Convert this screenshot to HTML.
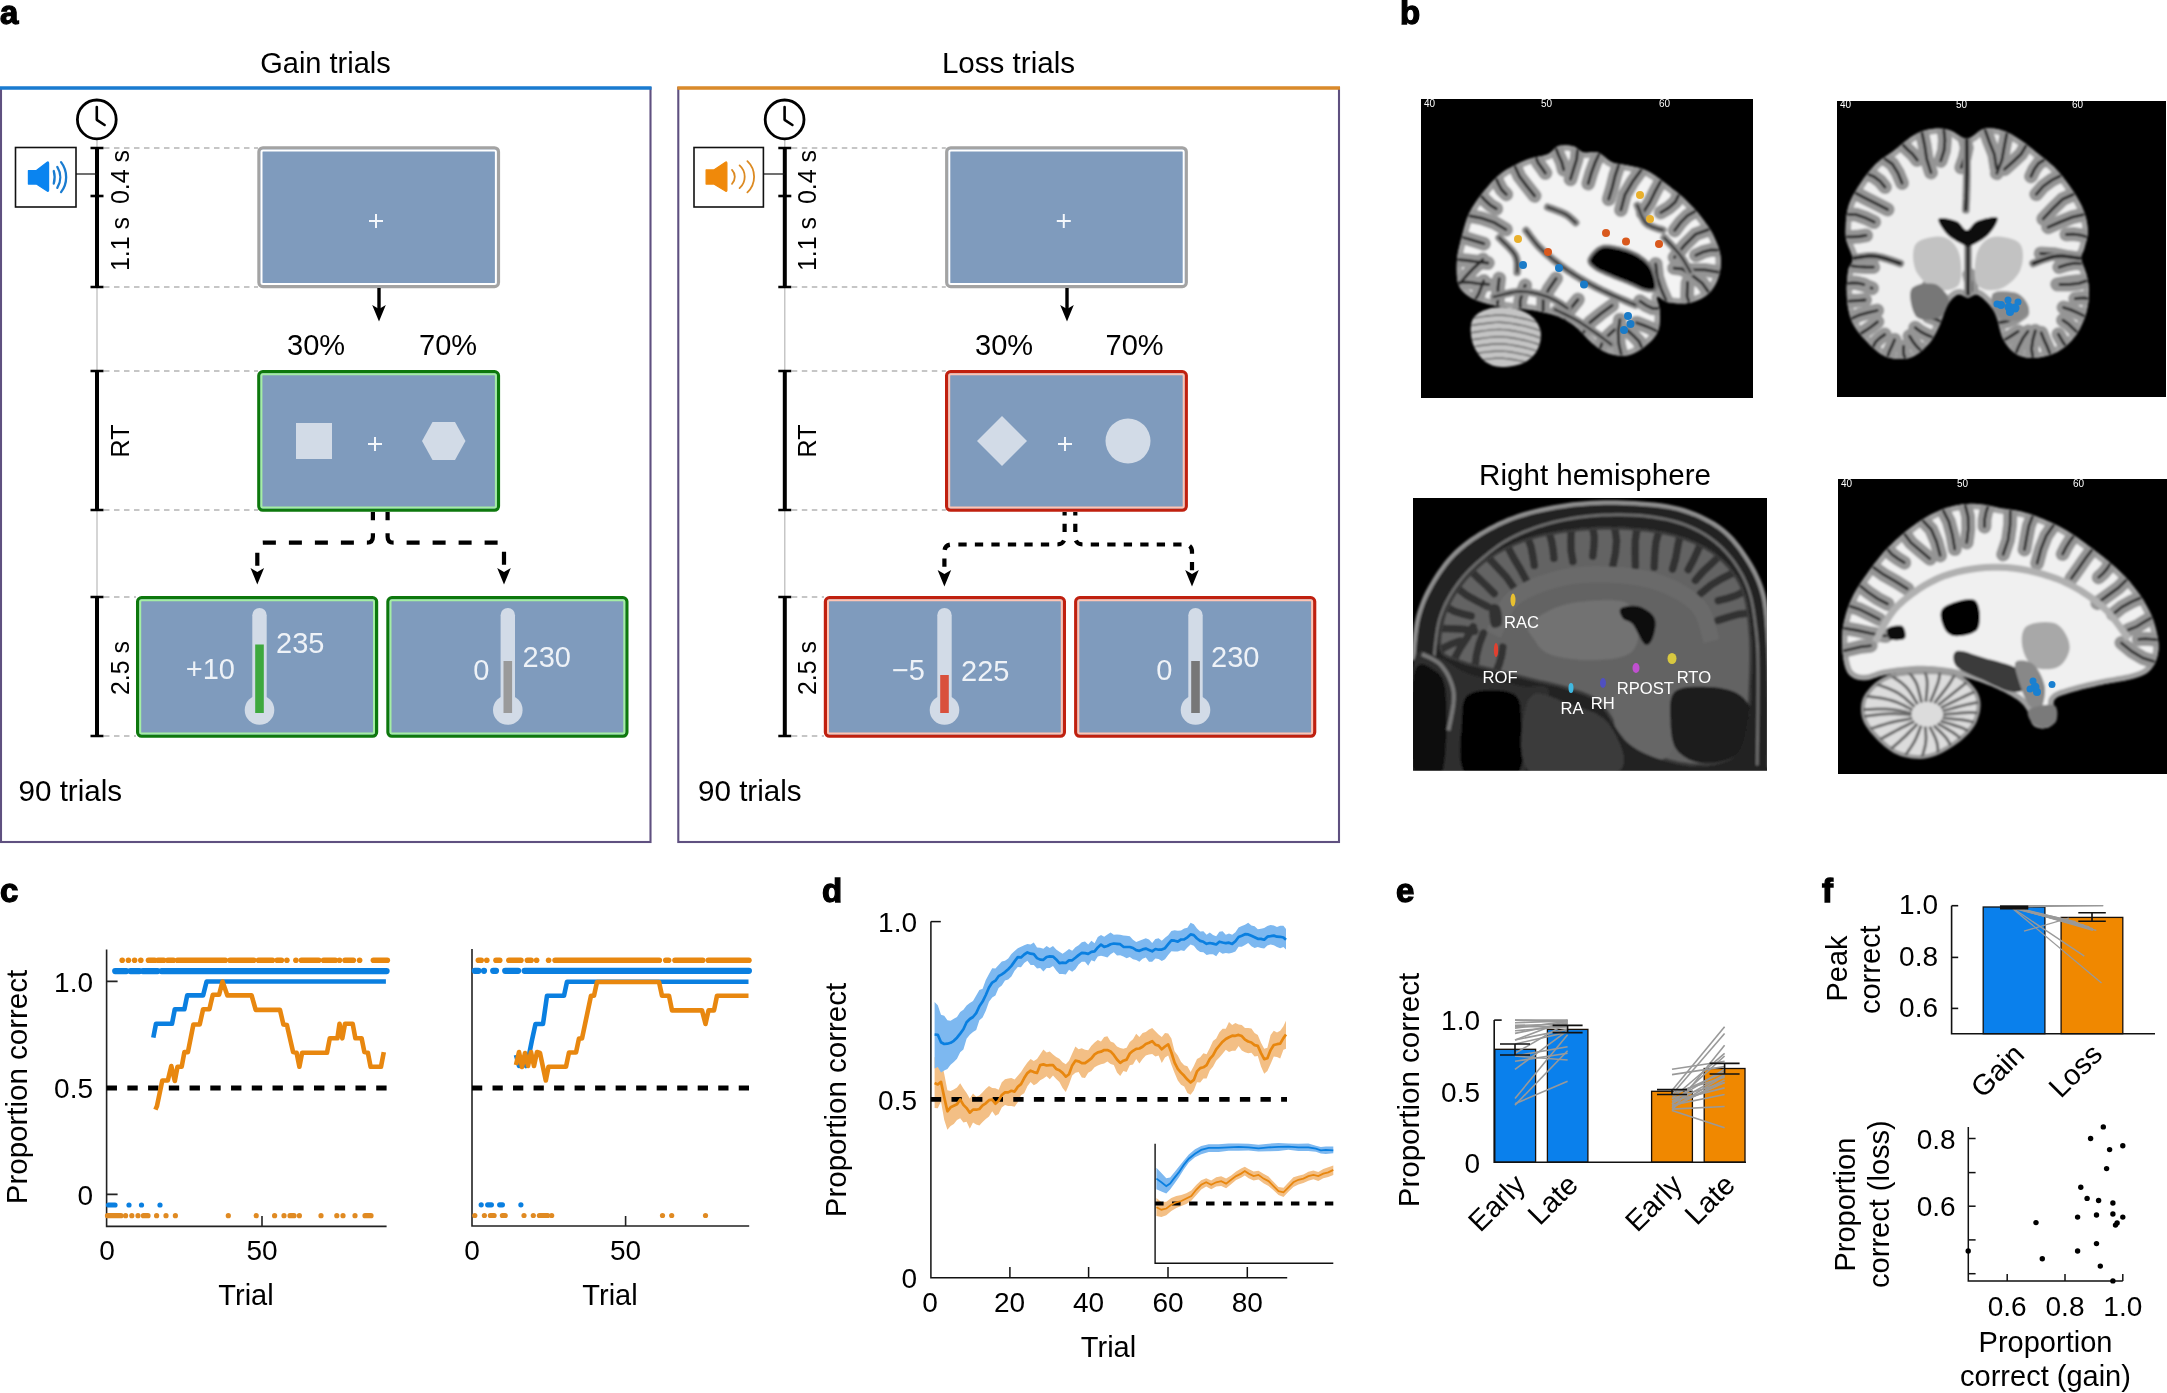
<!DOCTYPE html>
<html><head><meta charset="utf-8"><title>Figure</title>
<style>
html,body{margin:0;padding:0;background:#fff;width:2167px;height:1393px;overflow:hidden}
svg{display:block;will-change:transform}
svg text{font-family:"Liberation Sans", Arial, Helvetica, sans-serif}
</style></head>
<body>
<svg width="2167" height="1393" viewBox="0 0 2167 1393">
<rect width="2167" height="1393" fill="#fff"/>
<text x="0" y="24" font-size="33" font-weight="bold" stroke="#000" stroke-width="1.3">a</text>
<rect x="1" y="88" width="649.5" height="754" fill="none" stroke="#5f5080" stroke-width="2.1"/>
<path d="M0,88 H651.5" stroke="#1a7bd0" stroke-width="3.7"/>
<text x="325.5" y="72.5" font-size="29" text-anchor="middle">Gain trials</text>
<path d="M104,148 H258" stroke="#b4b4b4" stroke-width="1.6" stroke-dasharray="5.5 4.5"/>
<path d="M104,287 H258" stroke="#b4b4b4" stroke-width="1.6" stroke-dasharray="5.5 4.5"/>
<path d="M104,371 H258" stroke="#b4b4b4" stroke-width="1.6" stroke-dasharray="5.5 4.5"/>
<path d="M104,510 H258" stroke="#b4b4b4" stroke-width="1.6" stroke-dasharray="5.5 4.5"/>
<path d="M104,597 H136" stroke="#b4b4b4" stroke-width="1.6" stroke-dasharray="5.5 4.5"/>
<path d="M104,736 H136" stroke="#b4b4b4" stroke-width="1.6" stroke-dasharray="5.5 4.5"/>
<path d="M97,138 V148 M97,287 V371 M97,510 V597" stroke="#b9b9b9" stroke-width="1.2"/>
<path d="M97,148 V287" stroke="#000" stroke-width="4"/>
<path d="M90.5,148 H103.5 M90.5,287 H103.5" stroke="#000" stroke-width="2.6"/>
<path d="M97,371 V510" stroke="#000" stroke-width="4"/>
<path d="M90.5,371 H103.5 M90.5,510 H103.5" stroke="#000" stroke-width="2.6"/>
<path d="M97,597 V736" stroke="#000" stroke-width="4"/>
<path d="M90.5,597 H103.5 M90.5,736 H103.5" stroke="#000" stroke-width="2.6"/>
<path d="M90.5,196 H103.5" stroke="#000" stroke-width="2.6"/>
<circle cx="96.8" cy="119.4" r="19.4" fill="#fff" stroke="#000" stroke-width="2.8"/><path d="M96.8,107.0 V119.80000000000001 L104.6,125.0" fill="none" stroke="#000" stroke-width="2.6" stroke-linecap="round" stroke-linejoin="round"/>
<rect x="15.5" y="147.5" width="60.5" height="59.5" fill="#fff" stroke="#111" stroke-width="1.6"/>
<path d="M28.400000000000002,170.5 H36.4 L47.5,162.10000000000002 Q48.6,161.5 48.6,163.3 V190 Q48.6,191.8 47.5,191.2 L36.4,184.1 H28.400000000000002 Z" fill="#0a84f0" stroke="#0a84f0" stroke-width="1.2" stroke-linejoin="round"/>
<path d="M53.77,171.05 A22.51,22.51 0 0 1 53.77,183.55" fill="none" stroke="#1a7cd0" stroke-width="2.3" stroke-linecap="round"/>
<path d="M57.27,166.95 A19.78,19.78 0 0 1 57.27,187.85" fill="none" stroke="#1a7cd0" stroke-width="2.3" stroke-linecap="round"/>
<path d="M61.06,162.15 A24.67,24.67 0 0 1 61.06,192.15" fill="none" stroke="#1a7cd0" stroke-width="2.3" stroke-linecap="round"/>
<path d="M76,174 H97" stroke="#111" stroke-width="1.2"/>
<text x="128.5" y="177" transform="rotate(-90 128.5 177)" font-size="25" text-anchor="middle">0.4 s</text>
<text x="128.5" y="244" transform="rotate(-90 128.5 244)" font-size="25" text-anchor="middle">1.1 s</text>
<text x="128.5" y="441" transform="rotate(-90 128.5 441)" font-size="25" text-anchor="middle">RT</text>
<text x="128.5" y="668" transform="rotate(-90 128.5 668)" font-size="25" text-anchor="middle">2.5 s</text>
<rect x="258.90" y="147.80" width="239.60" height="138.80" rx="4" fill="#7f9bbd" stroke="#a3a3a3" stroke-width="3.2"/>
<rect x="261.50" y="150.40" width="234.40" height="133.60" rx="1.5" fill="none" stroke="#ffffff" stroke-width="2"/>
<path d="M369.0,221H383.0M376,214.0V228.0" stroke="#f4f7fb" stroke-width="2" fill="none"/>
<path d="M379,288 V309" stroke="#000" stroke-width="3.4"/>
<path d="M379,321.5 L372.2,305.0 L379,309.0 L385.8,305.0 Z" fill="#000"/>
<text x="287" y="355" font-size="29">30%</text>
<text x="419" y="355" font-size="29">70%</text>
<rect x="258.80" y="371.60" width="239.70" height="138.60" rx="4" fill="#7f9bbd" stroke="#0d780d" stroke-width="3.2"/>
<rect x="261.40" y="374.20" width="234.50" height="133.40" rx="1.5" fill="none" stroke="#a4eea4" stroke-width="2"/>
<path d="M368.0,444H382.0M375,437.0V451.0" stroke="#f4f7fb" stroke-width="2" fill="none"/>
<rect x="296" y="423" width="36" height="36" fill="#d2dbe7"/>
<path d="M422,441 L432.5,422 L455,422 L465.5,441 L455,460 L432.5,460 Z" fill="#d2dbe7"/>
<path d="M372.9,512 V536.7 Q372.9,542.7 366.9,542.7 H263.3 Q257.3,542.7 257.3,548.7 V569.5" fill="none" stroke="#000" stroke-width="4.2" stroke-dasharray="13 13" stroke-dashoffset="4.8"/>
<path d="M387.6,512 V536.7 Q387.6,542.7 393.6,542.7 H498 Q504,542.7 504,548.7 V569.5" fill="none" stroke="#000" stroke-width="4.2" stroke-dasharray="13 13" stroke-dashoffset="4.8"/>
<path d="M257.3,584.5 L250.5,568.0 L257.3,572.0 L264.1,568.0 Z" fill="#000"/>
<path d="M504,584.5 L497.2,568.0 L504,572.0 L510.8,568.0 Z" fill="#000"/>
<rect x="137.60" y="597.60" width="239.00" height="138.60" rx="4" fill="#7f9bbd" stroke="#0d780d" stroke-width="3.2"/>
<rect x="140.20" y="600.20" width="233.80" height="133.40" rx="1.5" fill="none" stroke="#a4eea4" stroke-width="2"/>
<rect x="387.90" y="597.60" width="239.00" height="138.60" rx="4" fill="#7f9bbd" stroke="#0d780d" stroke-width="3.2"/>
<rect x="390.50" y="600.20" width="233.80" height="133.40" rx="1.5" fill="none" stroke="#a4eea4" stroke-width="2"/>
<rect x="252.3" y="608" width="14.4" height="102" rx="7.2" fill="#d2dbe7"/>
<circle cx="259.5" cy="710" r="14.8" fill="#d2dbe7"/>
<rect x="255.2" y="644.5" width="8.6" height="68.5" fill="#3ea83e"/>
<rect x="500.6" y="608" width="14.4" height="102" rx="7.2" fill="#d2dbe7"/>
<circle cx="507.8" cy="710" r="14.8" fill="#d2dbe7"/>
<rect x="503.5" y="661" width="8.6" height="52" fill="#9a9a9a"/>
<text x="235" y="678.5" font-size="29" fill="#eef2f7" text-anchor="end">+10</text>
<text x="276" y="653" font-size="29" fill="#eef2f7">235</text>
<text x="489.5" y="679.5" font-size="29" fill="#eef2f7" text-anchor="end">0</text>
<text x="522.5" y="667" font-size="29" fill="#eef2f7">230</text>
<text x="18.5" y="801" font-size="29.6">90 trials</text>
<rect x="678.3" y="88" width="660.7" height="754" fill="none" stroke="#5f5080" stroke-width="2.1"/>
<path d="M677.3,88 H1340" stroke="#da8a2a" stroke-width="3.7"/>
<text x="1008.5" y="72.5" font-size="29.6" text-anchor="middle">Loss trials</text>
<path d="M791.8,148 H945.8" stroke="#b4b4b4" stroke-width="1.6" stroke-dasharray="5.5 4.5"/>
<path d="M791.8,287 H945.8" stroke="#b4b4b4" stroke-width="1.6" stroke-dasharray="5.5 4.5"/>
<path d="M791.8,371 H945.8" stroke="#b4b4b4" stroke-width="1.6" stroke-dasharray="5.5 4.5"/>
<path d="M791.8,510 H945.8" stroke="#b4b4b4" stroke-width="1.6" stroke-dasharray="5.5 4.5"/>
<path d="M791.8,597 H824" stroke="#b4b4b4" stroke-width="1.6" stroke-dasharray="5.5 4.5"/>
<path d="M791.8,736 H824" stroke="#b4b4b4" stroke-width="1.6" stroke-dasharray="5.5 4.5"/>
<path d="M784.8,138 V148 M784.8,287 V371 M784.8,510 V597" stroke="#b9b9b9" stroke-width="1.2"/>
<path d="M784.8,148 V287" stroke="#000" stroke-width="4"/>
<path d="M778.3,148 H791.3 M778.3,287 H791.3" stroke="#000" stroke-width="2.6"/>
<path d="M784.8,371 V510" stroke="#000" stroke-width="4"/>
<path d="M778.3,371 H791.3 M778.3,510 H791.3" stroke="#000" stroke-width="2.6"/>
<path d="M784.8,597 V736" stroke="#000" stroke-width="4"/>
<path d="M778.3,597 H791.3 M778.3,736 H791.3" stroke="#000" stroke-width="2.6"/>
<path d="M778.3,196 H791.3" stroke="#000" stroke-width="2.6"/>
<circle cx="784.5999999999999" cy="119.4" r="19.4" fill="#fff" stroke="#000" stroke-width="2.8"/><path d="M784.5999999999999,107.0 V119.80000000000001 L792.3999999999999,125.0" fill="none" stroke="#000" stroke-width="2.6" stroke-linecap="round" stroke-linejoin="round"/>
<rect x="694" y="147.5" width="69.39999999999998" height="59.5" fill="#fff" stroke="#111" stroke-width="1.6"/>
<path d="M706.1,169.9 H713.8 L725.8,162.10000000000002 Q726.9,161.5 726.9,163.3 V190 Q726.9,191.8 725.8,191.2 L713.8,184.1 H706.1 Z" fill="#f0890a" stroke="#f0890a" stroke-width="1.2" stroke-linejoin="round"/>
<path d="M731.99,169.90 A10.00,10.00 0 0 1 731.99,183.80" fill="none" stroke="#dc8a22" stroke-width="1.8" stroke-linecap="round"/>
<path d="M739.59,165.40 A15.16,15.16 0 0 1 739.59,188.10" fill="none" stroke="#dc8a22" stroke-width="1.8" stroke-linecap="round"/>
<path d="M747.39,161.10 A21.61,21.61 0 0 1 747.39,192.40" fill="none" stroke="#dc8a22" stroke-width="1.8" stroke-linecap="round"/>
<path d="M764,174 H784.8" stroke="#111" stroke-width="1.2"/>
<text x="816.3" y="177" transform="rotate(-90 816.3 177)" font-size="25" text-anchor="middle">0.4 s</text>
<text x="816.3" y="244" transform="rotate(-90 816.3 244)" font-size="25" text-anchor="middle">1.1 s</text>
<text x="816.3" y="441" transform="rotate(-90 816.3 441)" font-size="25" text-anchor="middle">RT</text>
<text x="816.3" y="668" transform="rotate(-90 816.3 668)" font-size="25" text-anchor="middle">2.5 s</text>
<rect x="946.70" y="147.80" width="239.60" height="138.80" rx="4" fill="#7f9bbd" stroke="#a3a3a3" stroke-width="3.2"/>
<rect x="949.30" y="150.40" width="234.40" height="133.60" rx="1.5" fill="none" stroke="#ffffff" stroke-width="2"/>
<path d="M1056.8,221H1070.8M1063.8,214.0V228.0" stroke="#f4f7fb" stroke-width="2" fill="none"/>
<path d="M1067,288 V309" stroke="#000" stroke-width="3.4"/>
<path d="M1067,321.5 L1060.2,305.0 L1067,309.0 L1073.8,305.0 Z" fill="#000"/>
<text x="975" y="355" font-size="29">30%</text>
<text x="1105.5" y="355" font-size="29">70%</text>
<rect x="946.60" y="371.60" width="239.70" height="138.60" rx="4" fill="#7f9bbd" stroke="#c0200f" stroke-width="3.2"/>
<rect x="949.20" y="374.20" width="234.50" height="133.40" rx="1.5" fill="none" stroke="#ffc4b4" stroke-width="2"/>
<path d="M1058.0,444H1072.0M1065,437.0V451.0" stroke="#f4f7fb" stroke-width="2" fill="none"/>
<path d="M1002,416 L1027,441 L1002,466 L977,441 Z" fill="#d2dbe7"/>
<circle cx="1128" cy="441" r="22.5" fill="#d2dbe7"/>
<path d="M1064.6,512 V537.0 Q1064.6,544.5 1057.1,544.5 H951.9 Q944.4,544.5 944.4,552.0 V571.5" fill="none" stroke="#000" stroke-width="4.2" stroke-dasharray="8.3 8.2" stroke-dashoffset="4.7"/>
<path d="M1075.3,512 V537.0 Q1075.3,544.5 1082.8,544.5 H1184.5 Q1192,544.5 1192,552.0 V571.5" fill="none" stroke="#000" stroke-width="4.2" stroke-dasharray="8.3 8.2" stroke-dashoffset="4.7"/>
<path d="M944.4,586.5 L937.6,570.0 L944.4,574.0 L951.1999999999999,570.0 Z" fill="#000"/>
<path d="M1192,586.5 L1185.2,570.0 L1192,574.0 L1198.8,570.0 Z" fill="#000"/>
<rect x="825.40" y="597.60" width="239.00" height="138.60" rx="4" fill="#7f9bbd" stroke="#c0200f" stroke-width="3.2"/>
<rect x="828.00" y="600.20" width="233.80" height="133.40" rx="1.5" fill="none" stroke="#ffc4b4" stroke-width="2"/>
<rect x="1075.70" y="597.60" width="239.00" height="138.60" rx="4" fill="#7f9bbd" stroke="#c0200f" stroke-width="3.2"/>
<rect x="1078.30" y="600.20" width="233.80" height="133.40" rx="1.5" fill="none" stroke="#ffc4b4" stroke-width="2"/>
<rect x="937.3" y="608" width="14.4" height="102" rx="7.2" fill="#d2dbe7"/>
<circle cx="944.5" cy="710" r="14.8" fill="#d2dbe7"/>
<rect x="940.2" y="675" width="8.6" height="38" fill="#d9503c"/>
<rect x="1188.3" y="608" width="14.4" height="102" rx="7.2" fill="#d2dbe7"/>
<circle cx="1195.5" cy="710" r="14.8" fill="#d2dbe7"/>
<rect x="1191.2" y="661" width="8.6" height="52" fill="#777777"/>
<text x="925" y="679.5" font-size="29" fill="#eef2f7" text-anchor="end">−5</text>
<text x="961" y="681" font-size="29" fill="#eef2f7">225</text>
<text x="1172.5" y="679.5" font-size="29" fill="#eef2f7" text-anchor="end">0</text>
<text x="1211" y="667" font-size="29" fill="#eef2f7">230</text>
<text x="698" y="801" font-size="29.6">90 trials</text>
<defs><filter id="bl2" x="-5%" y="-5%" width="110%" height="110%"><feGaussianBlur stdDeviation="1.3"/></filter></defs>
<text x="1400" y="24" font-size="33" font-weight="bold" stroke="#000" stroke-width="1.3">b</text>
<text x="1595" y="485" font-size="29.6" text-anchor="middle">Right hemisphere</text>
<rect x="1421" y="99" width="332" height="299" fill="#000"/>
<text x="1424" y="107" font-size="10" style="fill:#fff">40</text>
<text x="1541" y="107" font-size="10" style="fill:#fff">50</text>
<text x="1659" y="107" font-size="10" style="fill:#fff">60</text>
<defs><clipPath id="cb1"><path d="M1457.9,282.5 L1457.5,280.6 L1457.2,278.5 L1456.9,276.2 L1456.7,273.9 L1456.7,271.4 L1456.6,268.9 L1456.7,266.4 L1456.8,263.9 L1456.9,261.5 L1457.0,259.2 L1457.3,257.0 L1457.6,254.8 L1457.9,252.7 L1458.3,250.5 L1458.8,248.4 L1459.3,246.3 L1459.8,244.2 L1460.4,242.0 L1460.9,239.9 L1461.5,237.7 L1462.1,235.4 L1462.7,233.0 L1463.3,230.7 L1463.9,228.3 L1464.6,225.9 L1465.3,223.5 L1466.1,221.1 L1466.9,218.8 L1467.8,216.5 L1468.7,214.3 L1469.7,212.2 L1470.8,210.2 L1471.9,208.1 L1473.1,206.2 L1474.3,204.2 L1475.6,202.3 L1476.9,200.4 L1478.3,198.5 L1479.8,196.6 L1481.3,194.6 L1482.9,192.6 L1484.5,190.5 L1486.3,188.4 L1488.1,186.2 L1490.0,184.1 L1491.9,182.0 L1493.8,180.1 L1495.7,178.2 L1497.5,176.4 L1499.2,174.9 L1500.9,173.5 L1502.6,172.2 L1504.2,171.1 L1505.9,170.0 L1507.5,169.1 L1509.1,168.2 L1510.7,167.4 L1512.3,166.6 L1513.8,165.8 L1515.4,165.0 L1516.9,164.2 L1518.3,163.5 L1519.7,162.8 L1521.1,162.1 L1522.4,161.5 L1523.8,160.9 L1525.2,160.3 L1526.6,159.8 L1528.1,159.2 L1529.7,158.7 L1531.4,158.2 L1533.2,157.8 L1535.1,157.3 L1537.0,157.0 L1538.9,156.6 L1540.8,156.2 L1542.7,155.8 L1544.5,155.3 L1546.1,154.8 L1547.7,154.2 L1549.0,153.5 L1550.2,152.7 L1551.3,151.8 L1552.3,150.9 L1553.3,149.9 L1554.2,149.0 L1555.2,148.1 L1556.2,147.3 L1557.2,146.6 L1558.4,146.1 L1559.7,145.8 L1561.1,145.5 L1562.6,145.4 L1564.1,145.3 L1565.6,145.3 L1567.1,145.3 L1568.6,145.4 L1570.1,145.6 L1571.5,145.9 L1572.8,146.1 L1574.0,146.6 L1575.1,147.1 L1576.2,147.8 L1577.2,148.5 L1578.2,149.3 L1579.1,150.1 L1580.2,150.8 L1581.2,151.5 L1582.3,152.0 L1583.5,152.4 L1584.8,152.6 L1586.2,152.7 L1587.6,152.6 L1589.0,152.4 L1590.5,152.2 L1592.0,152.0 L1593.5,151.9 L1595.0,151.9 L1596.4,152.1 L1597.9,152.4 L1599.3,153.0 L1600.7,153.9 L1602.1,154.9 L1603.5,156.0 L1604.8,157.1 L1606.2,158.3 L1607.7,159.5 L1609.1,160.6 L1610.7,161.5 L1612.2,162.3 L1613.9,162.9 L1615.6,163.4 L1617.4,163.8 L1619.2,164.1 L1621.0,164.4 L1622.8,164.6 L1624.7,164.9 L1626.5,165.2 L1628.4,165.5 L1630.2,165.9 L1632.0,166.3 L1633.8,166.7 L1635.6,167.1 L1637.4,167.6 L1639.2,168.0 L1641.0,168.5 L1642.8,169.1 L1644.5,169.7 L1646.3,170.4 L1648.1,171.3 L1649.9,172.2 L1651.7,173.3 L1653.5,174.4 L1655.2,175.6 L1657.0,176.9 L1658.8,178.2 L1660.6,179.6 L1662.4,181.0 L1664.2,182.4 L1666.1,183.8 L1668.0,185.3 L1670.0,186.8 L1672.0,188.4 L1674.0,189.9 L1676.1,191.6 L1678.1,193.2 L1680.1,194.9 L1682.1,196.6 L1684.0,198.3 L1685.8,200.0 L1687.6,201.7 L1689.3,203.4 L1691.0,205.2 L1692.7,206.9 L1694.3,208.7 L1695.9,210.5 L1697.5,212.3 L1699.0,214.2 L1700.5,216.0 L1702.0,217.9 L1703.4,219.8 L1704.8,221.7 L1706.2,223.7 L1707.5,225.6 L1708.9,227.6 L1710.1,229.5 L1711.3,231.5 L1712.5,233.6 L1713.5,235.6 L1714.5,237.7 L1715.4,239.7 L1716.3,241.8 L1717.2,244.0 L1718.0,246.1 L1718.7,248.3 L1719.3,250.5 L1719.8,252.7 L1720.3,254.9 L1720.6,257.0 L1720.8,259.2 L1720.9,261.4 L1720.8,263.6 L1720.7,265.8 L1720.5,268.1 L1720.1,270.3 L1719.7,272.6 L1719.2,274.7 L1718.6,276.8 L1717.9,278.8 L1717.2,280.7 L1716.4,282.5 L1715.5,284.3 L1714.5,286.0 L1713.4,287.7 L1712.3,289.2 L1711.1,290.8 L1709.8,292.2 L1708.4,293.5 L1707.0,294.8 L1705.6,296.0 L1704.0,297.1 L1702.4,298.1 L1700.7,299.0 L1698.9,299.8 L1697.1,300.6 L1695.2,301.2 L1693.3,301.8 L1691.4,302.4 L1689.5,302.8 L1687.6,303.1 L1685.7,303.4 L1683.6,303.6 L1681.5,303.6 L1679.4,303.6 L1677.3,303.5 L1675.2,303.3 L1673.2,303.1 L1671.3,302.8 L1669.5,302.6 L1667.9,302.2 L1666.4,301.8 L1664.9,301.1 L1663.6,300.3 L1662.3,299.5 L1661.1,298.6 L1660.0,297.8 L1659.1,297.2 L1658.3,296.8 L1657.6,296.6 L1657.1,296.9 L1656.9,297.5 L1656.9,298.4 L1657.1,299.6 L1657.4,300.9 L1657.9,302.5 L1658.4,304.1 L1658.9,305.9 L1659.3,307.7 L1659.6,309.5 L1659.8,311.2 L1659.8,313.0 L1659.9,314.9 L1659.9,316.9 L1659.9,319.0 L1659.8,321.1 L1659.6,323.2 L1659.4,325.3 L1659.1,327.3 L1658.6,329.2 L1658.0,331.0 L1657.3,332.6 L1656.4,334.2 L1655.4,335.8 L1654.4,337.3 L1653.2,338.8 L1651.9,340.2 L1650.6,341.5 L1649.2,342.8 L1647.8,344.1 L1646.3,345.3 L1644.8,346.5 L1643.2,347.8 L1641.5,349.0 L1639.7,350.1 L1637.9,351.3 L1636.0,352.3 L1634.1,353.2 L1632.2,354.0 L1630.3,354.7 L1628.4,355.2 L1626.5,355.5 L1624.5,355.7 L1622.5,355.8 L1620.5,355.7 L1618.4,355.5 L1616.4,355.2 L1614.4,354.9 L1612.4,354.4 L1610.5,353.9 L1608.7,353.4 L1606.9,352.8 L1605.2,352.0 L1603.6,351.2 L1601.9,350.3 L1600.4,349.3 L1598.8,348.3 L1597.2,347.2 L1595.7,346.0 L1594.1,344.8 L1592.5,343.5 L1590.9,342.1 L1589.3,340.6 L1587.7,339.0 L1586.1,337.3 L1584.6,335.5 L1583.0,333.7 L1581.3,332.0 L1579.7,330.4 L1578.1,328.8 L1576.4,327.4 L1574.7,326.1 L1573.0,324.8 L1571.3,323.6 L1569.7,322.5 L1568.0,321.4 L1566.2,320.3 L1564.4,319.3 L1562.5,318.4 L1560.5,317.5 L1558.4,316.6 L1556.2,315.8 L1553.9,315.0 L1551.4,314.3 L1548.9,313.6 L1546.3,313.0 L1543.7,312.4 L1541.1,311.8 L1538.4,311.3 L1535.8,310.8 L1533.3,310.3 L1530.8,309.9 L1528.2,309.6 L1525.7,309.3 L1523.2,309.1 L1520.6,308.9 L1518.1,308.7 L1515.6,308.5 L1513.1,308.2 L1510.6,308.0 L1508.2,307.6 L1505.8,307.3 L1503.3,306.9 L1500.9,306.5 L1498.5,306.1 L1496.1,305.7 L1493.7,305.3 L1491.4,304.8 L1489.1,304.3 L1487.0,303.7 L1484.9,303.1 L1482.8,302.5 L1480.8,301.8 L1478.8,301.1 L1476.9,300.4 L1475.0,299.6 L1473.2,298.8 L1471.5,297.9 L1469.8,297.0 L1468.3,296.1 L1466.9,295.1 L1465.6,294.0 L1464.4,293.0 L1463.3,292.0 L1462.3,290.9 L1461.4,289.7 L1460.5,288.5 L1459.8,287.2 L1459.1,285.8 L1458.5,284.2 Z"/></clipPath></defs>
<g filter="url(#bl2)">
<g clip-path="url(#cb1)">
<path d="M1457.9,282.5 L1457.5,280.6 L1457.2,278.5 L1456.9,276.2 L1456.7,273.9 L1456.7,271.4 L1456.6,268.9 L1456.7,266.4 L1456.8,263.9 L1456.9,261.5 L1457.0,259.2 L1457.3,257.0 L1457.6,254.8 L1457.9,252.7 L1458.3,250.5 L1458.8,248.4 L1459.3,246.3 L1459.8,244.2 L1460.4,242.0 L1460.9,239.9 L1461.5,237.7 L1462.1,235.4 L1462.7,233.0 L1463.3,230.7 L1463.9,228.3 L1464.6,225.9 L1465.3,223.5 L1466.1,221.1 L1466.9,218.8 L1467.8,216.5 L1468.7,214.3 L1469.7,212.2 L1470.8,210.2 L1471.9,208.1 L1473.1,206.2 L1474.3,204.2 L1475.6,202.3 L1476.9,200.4 L1478.3,198.5 L1479.8,196.6 L1481.3,194.6 L1482.9,192.6 L1484.5,190.5 L1486.3,188.4 L1488.1,186.2 L1490.0,184.1 L1491.9,182.0 L1493.8,180.1 L1495.7,178.2 L1497.5,176.4 L1499.2,174.9 L1500.9,173.5 L1502.6,172.2 L1504.2,171.1 L1505.9,170.0 L1507.5,169.1 L1509.1,168.2 L1510.7,167.4 L1512.3,166.6 L1513.8,165.8 L1515.4,165.0 L1516.9,164.2 L1518.3,163.5 L1519.7,162.8 L1521.1,162.1 L1522.4,161.5 L1523.8,160.9 L1525.2,160.3 L1526.6,159.8 L1528.1,159.2 L1529.7,158.7 L1531.4,158.2 L1533.2,157.8 L1535.1,157.3 L1537.0,157.0 L1538.9,156.6 L1540.8,156.2 L1542.7,155.8 L1544.5,155.3 L1546.1,154.8 L1547.7,154.2 L1549.0,153.5 L1550.2,152.7 L1551.3,151.8 L1552.3,150.9 L1553.3,149.9 L1554.2,149.0 L1555.2,148.1 L1556.2,147.3 L1557.2,146.6 L1558.4,146.1 L1559.7,145.8 L1561.1,145.5 L1562.6,145.4 L1564.1,145.3 L1565.6,145.3 L1567.1,145.3 L1568.6,145.4 L1570.1,145.6 L1571.5,145.9 L1572.8,146.1 L1574.0,146.6 L1575.1,147.1 L1576.2,147.8 L1577.2,148.5 L1578.2,149.3 L1579.1,150.1 L1580.2,150.8 L1581.2,151.5 L1582.3,152.0 L1583.5,152.4 L1584.8,152.6 L1586.2,152.7 L1587.6,152.6 L1589.0,152.4 L1590.5,152.2 L1592.0,152.0 L1593.5,151.9 L1595.0,151.9 L1596.4,152.1 L1597.9,152.4 L1599.3,153.0 L1600.7,153.9 L1602.1,154.9 L1603.5,156.0 L1604.8,157.1 L1606.2,158.3 L1607.7,159.5 L1609.1,160.6 L1610.7,161.5 L1612.2,162.3 L1613.9,162.9 L1615.6,163.4 L1617.4,163.8 L1619.2,164.1 L1621.0,164.4 L1622.8,164.6 L1624.7,164.9 L1626.5,165.2 L1628.4,165.5 L1630.2,165.9 L1632.0,166.3 L1633.8,166.7 L1635.6,167.1 L1637.4,167.6 L1639.2,168.0 L1641.0,168.5 L1642.8,169.1 L1644.5,169.7 L1646.3,170.4 L1648.1,171.3 L1649.9,172.2 L1651.7,173.3 L1653.5,174.4 L1655.2,175.6 L1657.0,176.9 L1658.8,178.2 L1660.6,179.6 L1662.4,181.0 L1664.2,182.4 L1666.1,183.8 L1668.0,185.3 L1670.0,186.8 L1672.0,188.4 L1674.0,189.9 L1676.1,191.6 L1678.1,193.2 L1680.1,194.9 L1682.1,196.6 L1684.0,198.3 L1685.8,200.0 L1687.6,201.7 L1689.3,203.4 L1691.0,205.2 L1692.7,206.9 L1694.3,208.7 L1695.9,210.5 L1697.5,212.3 L1699.0,214.2 L1700.5,216.0 L1702.0,217.9 L1703.4,219.8 L1704.8,221.7 L1706.2,223.7 L1707.5,225.6 L1708.9,227.6 L1710.1,229.5 L1711.3,231.5 L1712.5,233.6 L1713.5,235.6 L1714.5,237.7 L1715.4,239.7 L1716.3,241.8 L1717.2,244.0 L1718.0,246.1 L1718.7,248.3 L1719.3,250.5 L1719.8,252.7 L1720.3,254.9 L1720.6,257.0 L1720.8,259.2 L1720.9,261.4 L1720.8,263.6 L1720.7,265.8 L1720.5,268.1 L1720.1,270.3 L1719.7,272.6 L1719.2,274.7 L1718.6,276.8 L1717.9,278.8 L1717.2,280.7 L1716.4,282.5 L1715.5,284.3 L1714.5,286.0 L1713.4,287.7 L1712.3,289.2 L1711.1,290.8 L1709.8,292.2 L1708.4,293.5 L1707.0,294.8 L1705.6,296.0 L1704.0,297.1 L1702.4,298.1 L1700.7,299.0 L1698.9,299.8 L1697.1,300.6 L1695.2,301.2 L1693.3,301.8 L1691.4,302.4 L1689.5,302.8 L1687.6,303.1 L1685.7,303.4 L1683.6,303.6 L1681.5,303.6 L1679.4,303.6 L1677.3,303.5 L1675.2,303.3 L1673.2,303.1 L1671.3,302.8 L1669.5,302.6 L1667.9,302.2 L1666.4,301.8 L1664.9,301.1 L1663.6,300.3 L1662.3,299.5 L1661.1,298.6 L1660.0,297.8 L1659.1,297.2 L1658.3,296.8 L1657.6,296.6 L1657.1,296.9 L1656.9,297.5 L1656.9,298.4 L1657.1,299.6 L1657.4,300.9 L1657.9,302.5 L1658.4,304.1 L1658.9,305.9 L1659.3,307.7 L1659.6,309.5 L1659.8,311.2 L1659.8,313.0 L1659.9,314.9 L1659.9,316.9 L1659.9,319.0 L1659.8,321.1 L1659.6,323.2 L1659.4,325.3 L1659.1,327.3 L1658.6,329.2 L1658.0,331.0 L1657.3,332.6 L1656.4,334.2 L1655.4,335.8 L1654.4,337.3 L1653.2,338.8 L1651.9,340.2 L1650.6,341.5 L1649.2,342.8 L1647.8,344.1 L1646.3,345.3 L1644.8,346.5 L1643.2,347.8 L1641.5,349.0 L1639.7,350.1 L1637.9,351.3 L1636.0,352.3 L1634.1,353.2 L1632.2,354.0 L1630.3,354.7 L1628.4,355.2 L1626.5,355.5 L1624.5,355.7 L1622.5,355.8 L1620.5,355.7 L1618.4,355.5 L1616.4,355.2 L1614.4,354.9 L1612.4,354.4 L1610.5,353.9 L1608.7,353.4 L1606.9,352.8 L1605.2,352.0 L1603.6,351.2 L1601.9,350.3 L1600.4,349.3 L1598.8,348.3 L1597.2,347.2 L1595.7,346.0 L1594.1,344.8 L1592.5,343.5 L1590.9,342.1 L1589.3,340.6 L1587.7,339.0 L1586.1,337.3 L1584.6,335.5 L1583.0,333.7 L1581.3,332.0 L1579.7,330.4 L1578.1,328.8 L1576.4,327.4 L1574.7,326.1 L1573.0,324.8 L1571.3,323.6 L1569.7,322.5 L1568.0,321.4 L1566.2,320.3 L1564.4,319.3 L1562.5,318.4 L1560.5,317.5 L1558.4,316.6 L1556.2,315.8 L1553.9,315.0 L1551.4,314.3 L1548.9,313.6 L1546.3,313.0 L1543.7,312.4 L1541.1,311.8 L1538.4,311.3 L1535.8,310.8 L1533.3,310.3 L1530.8,309.9 L1528.2,309.6 L1525.7,309.3 L1523.2,309.1 L1520.6,308.9 L1518.1,308.7 L1515.6,308.5 L1513.1,308.2 L1510.6,308.0 L1508.2,307.6 L1505.8,307.3 L1503.3,306.9 L1500.9,306.5 L1498.5,306.1 L1496.1,305.7 L1493.7,305.3 L1491.4,304.8 L1489.1,304.3 L1487.0,303.7 L1484.9,303.1 L1482.8,302.5 L1480.8,301.8 L1478.8,301.1 L1476.9,300.4 L1475.0,299.6 L1473.2,298.8 L1471.5,297.9 L1469.8,297.0 L1468.3,296.1 L1466.9,295.1 L1465.6,294.0 L1464.4,293.0 L1463.3,292.0 L1462.3,290.9 L1461.4,289.7 L1460.5,288.5 L1459.8,287.2 L1459.1,285.8 L1458.5,284.2 Z" fill="#f3f3f3" stroke="#a0a0a0" stroke-width="11"/>
<path d="M1459.4,282.4 L1468.1,282.2 L1478.3,283.7 L1488.8,284.4" fill="none" stroke="#959595" stroke-width="14" stroke-linecap="round"/>
<path d="M1458.5,259.7 L1467.2,260.5 L1477.4,261.8 L1487.9,263.0" fill="none" stroke="#959595" stroke-width="14" stroke-linecap="round"/>
<path d="M1463.1,237.5 L1469.1,239.1 L1476.3,241.4 L1483.9,243.7" fill="none" stroke="#959595" stroke-width="14" stroke-linecap="round"/>
<path d="M1469.7,215.8 L1481.5,218.2 L1494.2,222.5 L1506.0,229.6" fill="none" stroke="#959595" stroke-width="14" stroke-linecap="round"/>
<path d="M1481.7,196.6 L1485.3,200.5 L1490.3,205.1 L1496.3,208.8" fill="none" stroke="#959595" stroke-width="14" stroke-linecap="round"/>
<path d="M1496.5,179.4 L1498.6,184.1 L1501.7,189.8 L1506.3,194.4" fill="none" stroke="#959595" stroke-width="14" stroke-linecap="round"/>
<path d="M1515.1,166.8 L1519.4,176.4 L1526.8,186.1 L1534.6,195.9" fill="none" stroke="#959595" stroke-width="14" stroke-linecap="round"/>
<path d="M1536.4,158.6 L1538.1,162.8 L1541.8,167.9 L1545.4,173.1" fill="none" stroke="#959595" stroke-width="14" stroke-linecap="round"/>
<path d="M1556.2,148.9 L1558.4,154.8 L1561.7,162.0 L1563.7,169.7" fill="none" stroke="#959595" stroke-width="14" stroke-linecap="round"/>
<path d="M1577.5,150.4 L1576.7,159.1 L1573.6,169.0 L1570.5,179.2" fill="none" stroke="#959595" stroke-width="14" stroke-linecap="round"/>
<path d="M1598.9,154.5 L1595.0,162.9 L1591.3,173.0 L1588.2,183.6" fill="none" stroke="#959595" stroke-width="14" stroke-linecap="round"/>
<path d="M1618.6,165.5 L1615.2,175.5 L1612.3,187.3 L1608.7,199.2" fill="none" stroke="#959595" stroke-width="14" stroke-linecap="round"/>
<path d="M1641.1,170.1 L1632.7,181.5 L1624.9,194.8 L1620.9,210.0" fill="none" stroke="#959595" stroke-width="14" stroke-linecap="round"/>
<path d="M1660.6,181.5 L1655.3,191.2 L1649.7,202.5 L1642.7,213.2" fill="none" stroke="#959595" stroke-width="14" stroke-linecap="round"/>
<path d="M1678.5,195.5 L1675.2,202.1 L1668.7,207.8 L1660.7,212.6" fill="none" stroke="#959595" stroke-width="14" stroke-linecap="round"/>
<path d="M1694.8,211.5 L1687.5,215.6 L1680.7,222.3 L1674.6,230.5" fill="none" stroke="#959595" stroke-width="14" stroke-linecap="round"/>
<path d="M1708.4,229.6 L1695.6,234.2 L1684.8,244.9 L1674.5,257.4" fill="none" stroke="#959595" stroke-width="14" stroke-linecap="round"/>
<path d="M1717.6,250.1 L1711.1,250.0 L1703.4,251.8 L1695.9,255.3" fill="none" stroke="#959595" stroke-width="14" stroke-linecap="round"/>
<path d="M1718.3,272.2 L1704.9,269.9 L1689.6,269.7 L1674.1,268.1" fill="none" stroke="#959595" stroke-width="14" stroke-linecap="round"/>
<path d="M1708.2,291.6 L1702.2,283.2 L1692.9,275.8 L1682.5,269.1" fill="none" stroke="#959595" stroke-width="14" stroke-linecap="round"/>
<path d="M1688.8,301.4 L1687.1,296.4 L1687.3,289.5 L1687.6,282.3" fill="none" stroke="#959595" stroke-width="14" stroke-linecap="round"/>
<path d="M1666.0,300.3 L1661.3,289.6 L1657.2,277.2 L1655.7,263.9" fill="none" stroke="#959595" stroke-width="14" stroke-linecap="round"/>
<path d="M1658.1,308.3 L1652.5,308.3 L1646.2,305.4 L1640.0,301.2" fill="none" stroke="#959595" stroke-width="14" stroke-linecap="round"/>
<path d="M1656.4,330.9 L1650.9,328.3 L1643.9,325.4 L1636.5,322.7" fill="none" stroke="#959595" stroke-width="14" stroke-linecap="round"/>
<path d="M1641.6,347.0 L1639.0,341.4 L1633.5,335.7 L1627.4,330.2" fill="none" stroke="#959595" stroke-width="14" stroke-linecap="round"/>
<path d="M1621.2,354.2 L1618.8,343.9 L1618.2,332.0 L1619.9,319.7" fill="none" stroke="#959595" stroke-width="14" stroke-linecap="round"/>
<path d="M1600.3,347.5 L1602.8,341.5 L1608.3,335.6 L1614.5,329.8" fill="none" stroke="#959595" stroke-width="14" stroke-linecap="round"/>
<path d="M1583.6,332.3 L1590.2,322.3 L1600.8,313.7 L1612.2,305.4" fill="none" stroke="#959595" stroke-width="14" stroke-linecap="round"/>
<path d="M1565.2,318.1 L1567.9,312.2 L1572.8,305.9 L1578.0,299.5" fill="none" stroke="#959595" stroke-width="14" stroke-linecap="round"/>
<path d="M1543.1,310.7 L1543.2,300.1 L1548.8,289.2 L1556.2,278.4" fill="none" stroke="#959595" stroke-width="14" stroke-linecap="round"/>
<path d="M1520.2,307.3 L1520.2,300.9 L1522.3,293.2 L1525.2,285.3" fill="none" stroke="#959595" stroke-width="14" stroke-linecap="round"/>
<path d="M1497.5,304.5 L1498.1,296.9 L1498.0,287.8 L1499.2,278.6" fill="none" stroke="#959595" stroke-width="14" stroke-linecap="round"/>
<path d="M1475.9,298.4 L1478.7,293.9 L1481.2,287.5 L1483.7,280.9" fill="none" stroke="#959595" stroke-width="14" stroke-linecap="round"/>
<path d="M1459.7,283.6 L1466.2,276.0 L1474.2,267.6 L1482.9,259.6" fill="none" stroke="#959595" stroke-width="14" stroke-linecap="round"/>
<path d="M1459.4,282.4 L1468.1,282.2 L1478.3,283.7 L1488.8,284.4" fill="none" stroke="#262626" stroke-width="2.8" stroke-linecap="round"/>
<path d="M1458.5,259.7 L1467.2,260.5 L1477.4,261.8 L1487.9,263.0" fill="none" stroke="#262626" stroke-width="2.8" stroke-linecap="round"/>
<path d="M1463.1,237.5 L1469.1,239.1 L1476.3,241.4 L1483.9,243.7" fill="none" stroke="#262626" stroke-width="2.8" stroke-linecap="round"/>
<path d="M1469.7,215.8 L1481.5,218.2 L1494.2,222.5 L1506.0,229.6" fill="none" stroke="#262626" stroke-width="2.8" stroke-linecap="round"/>
<path d="M1481.7,196.6 L1485.3,200.5 L1490.3,205.1 L1496.3,208.8" fill="none" stroke="#262626" stroke-width="2.8" stroke-linecap="round"/>
<path d="M1496.5,179.4 L1498.6,184.1 L1501.7,189.8 L1506.3,194.4" fill="none" stroke="#262626" stroke-width="2.8" stroke-linecap="round"/>
<path d="M1515.1,166.8 L1519.4,176.4 L1526.8,186.1 L1534.6,195.9" fill="none" stroke="#262626" stroke-width="2.8" stroke-linecap="round"/>
<path d="M1536.4,158.6 L1538.1,162.8 L1541.8,167.9 L1545.4,173.1" fill="none" stroke="#262626" stroke-width="2.8" stroke-linecap="round"/>
<path d="M1556.2,148.9 L1558.4,154.8 L1561.7,162.0 L1563.7,169.7" fill="none" stroke="#262626" stroke-width="2.8" stroke-linecap="round"/>
<path d="M1577.5,150.4 L1576.7,159.1 L1573.6,169.0 L1570.5,179.2" fill="none" stroke="#262626" stroke-width="2.8" stroke-linecap="round"/>
<path d="M1598.9,154.5 L1595.0,162.9 L1591.3,173.0 L1588.2,183.6" fill="none" stroke="#262626" stroke-width="2.8" stroke-linecap="round"/>
<path d="M1618.6,165.5 L1615.2,175.5 L1612.3,187.3 L1608.7,199.2" fill="none" stroke="#262626" stroke-width="2.8" stroke-linecap="round"/>
<path d="M1641.1,170.1 L1632.7,181.5 L1624.9,194.8 L1620.9,210.0" fill="none" stroke="#262626" stroke-width="2.8" stroke-linecap="round"/>
<path d="M1660.6,181.5 L1655.3,191.2 L1649.7,202.5 L1642.7,213.2" fill="none" stroke="#262626" stroke-width="2.8" stroke-linecap="round"/>
<path d="M1678.5,195.5 L1675.2,202.1 L1668.7,207.8 L1660.7,212.6" fill="none" stroke="#262626" stroke-width="2.8" stroke-linecap="round"/>
<path d="M1694.8,211.5 L1687.5,215.6 L1680.7,222.3 L1674.6,230.5" fill="none" stroke="#262626" stroke-width="2.8" stroke-linecap="round"/>
<path d="M1708.4,229.6 L1695.6,234.2 L1684.8,244.9 L1674.5,257.4" fill="none" stroke="#262626" stroke-width="2.8" stroke-linecap="round"/>
<path d="M1717.6,250.1 L1711.1,250.0 L1703.4,251.8 L1695.9,255.3" fill="none" stroke="#262626" stroke-width="2.8" stroke-linecap="round"/>
<path d="M1718.3,272.2 L1704.9,269.9 L1689.6,269.7 L1674.1,268.1" fill="none" stroke="#262626" stroke-width="2.8" stroke-linecap="round"/>
<path d="M1708.2,291.6 L1702.2,283.2 L1692.9,275.8 L1682.5,269.1" fill="none" stroke="#262626" stroke-width="2.8" stroke-linecap="round"/>
<path d="M1688.8,301.4 L1687.1,296.4 L1687.3,289.5 L1687.6,282.3" fill="none" stroke="#262626" stroke-width="2.8" stroke-linecap="round"/>
<path d="M1666.0,300.3 L1661.3,289.6 L1657.2,277.2 L1655.7,263.9" fill="none" stroke="#262626" stroke-width="2.8" stroke-linecap="round"/>
<path d="M1658.1,308.3 L1652.5,308.3 L1646.2,305.4 L1640.0,301.2" fill="none" stroke="#262626" stroke-width="2.8" stroke-linecap="round"/>
<path d="M1656.4,330.9 L1650.9,328.3 L1643.9,325.4 L1636.5,322.7" fill="none" stroke="#262626" stroke-width="2.8" stroke-linecap="round"/>
<path d="M1641.6,347.0 L1639.0,341.4 L1633.5,335.7 L1627.4,330.2" fill="none" stroke="#262626" stroke-width="2.8" stroke-linecap="round"/>
<path d="M1621.2,354.2 L1618.8,343.9 L1618.2,332.0 L1619.9,319.7" fill="none" stroke="#262626" stroke-width="2.8" stroke-linecap="round"/>
<path d="M1600.3,347.5 L1602.8,341.5 L1608.3,335.6 L1614.5,329.8" fill="none" stroke="#262626" stroke-width="2.8" stroke-linecap="round"/>
<path d="M1583.6,332.3 L1590.2,322.3 L1600.8,313.7 L1612.2,305.4" fill="none" stroke="#262626" stroke-width="2.8" stroke-linecap="round"/>
<path d="M1565.2,318.1 L1567.9,312.2 L1572.8,305.9 L1578.0,299.5" fill="none" stroke="#262626" stroke-width="2.8" stroke-linecap="round"/>
<path d="M1543.1,310.7 L1543.2,300.1 L1548.8,289.2 L1556.2,278.4" fill="none" stroke="#262626" stroke-width="2.8" stroke-linecap="round"/>
<path d="M1520.2,307.3 L1520.2,300.9 L1522.3,293.2 L1525.2,285.3" fill="none" stroke="#262626" stroke-width="2.8" stroke-linecap="round"/>
<path d="M1497.5,304.5 L1498.1,296.9 L1498.0,287.8 L1499.2,278.6" fill="none" stroke="#262626" stroke-width="2.8" stroke-linecap="round"/>
<path d="M1475.9,298.4 L1478.7,293.9 L1481.2,287.5 L1483.7,280.9" fill="none" stroke="#262626" stroke-width="2.8" stroke-linecap="round"/>
<path d="M1459.7,283.6 L1466.2,276.0 L1474.2,267.6 L1482.9,259.6" fill="none" stroke="#262626" stroke-width="2.8" stroke-linecap="round"/>
<path d="M1526.1,230.5 L1527.2,231.9 L1528.5,233.7 L1530.1,235.9 L1532.0,238.3 L1533.9,240.9 L1536.0,243.5 L1538.2,246.1 L1540.5,248.4 L1542.8,250.7 L1545.3,252.9 L1547.9,255.2 L1550.6,257.5 L1553.4,259.8 L1556.2,262.0 L1559.1,264.2 L1562.0,266.4 L1565.0,268.5 L1568.0,270.6 L1571.2,272.7 L1574.3,274.8 L1577.6,276.8 L1580.8,278.8 L1584.0,280.7 L1587.1,282.5 L1590.3,284.3 L1593.4,285.9 L1596.5,287.6 L1599.7,289.1 L1602.8,290.7 L1606.0,292.1 L1609.1,293.6 L1612.2,295.1 L1615.6,296.6 L1619.1,298.1 L1622.8,299.7 L1626.4,301.2 L1629.8,302.7 L1632.9,303.9 L1635.4,305.0" fill="none" stroke="#8e8e8e" stroke-width="8" stroke-linecap="round"/>
<path d="M1526.1,230.5 L1527.2,231.9 L1528.5,233.7 L1530.1,235.9 L1532.0,238.3 L1533.9,240.9 L1536.0,243.5 L1538.2,246.1 L1540.5,248.4 L1542.8,250.7 L1545.3,252.9 L1547.9,255.2 L1550.6,257.5 L1553.4,259.8 L1556.2,262.0 L1559.1,264.2 L1562.0,266.4 L1565.0,268.5 L1568.0,270.6 L1571.2,272.7 L1574.3,274.8 L1577.6,276.8 L1580.8,278.8 L1584.0,280.7 L1587.1,282.5 L1590.3,284.3 L1593.4,285.9 L1596.5,287.6 L1599.7,289.1 L1602.8,290.7 L1606.0,292.1 L1609.1,293.6 L1612.2,295.1 L1615.6,296.6 L1619.1,298.1 L1622.8,299.7 L1626.4,301.2 L1629.8,302.7 L1632.9,303.9 L1635.4,305.0" fill="none" stroke="#2a2a2a" stroke-width="2.3" stroke-linecap="round"/>
<path d="M1493.8,296.9 L1495.9,296.4 L1498.7,295.6 L1501.9,294.8 L1505.6,293.8 L1509.5,293.0 L1513.4,292.2 L1517.2,291.7 L1520.7,291.5 L1524.1,291.6 L1527.6,291.9 L1531.1,292.4 L1534.5,293.1 L1538.0,293.8 L1541.3,294.8 L1544.5,295.8 L1547.7,296.9 L1550.8,298.2 L1553.9,299.8 L1557.1,301.6 L1560.1,303.5 L1562.9,305.3 L1565.4,307.0 L1567.6,308.4" fill="none" stroke="#8e8e8e" stroke-width="8" stroke-linecap="round"/>
<path d="M1493.8,296.9 L1495.9,296.4 L1498.7,295.6 L1501.9,294.8 L1505.6,293.8 L1509.5,293.0 L1513.4,292.2 L1517.2,291.7 L1520.7,291.5 L1524.1,291.6 L1527.6,291.9 L1531.1,292.4 L1534.5,293.1 L1538.0,293.8 L1541.3,294.8 L1544.5,295.8 L1547.7,296.9 L1550.8,298.2 L1553.9,299.8 L1557.1,301.6 L1560.1,303.5 L1562.9,305.3 L1565.4,307.0 L1567.6,308.4" fill="none" stroke="#2a2a2a" stroke-width="2.3" stroke-linecap="round"/>
<path d="M1554.8,309.4 L1556.5,310.2 L1558.7,311.3 L1561.3,312.5 L1564.3,313.9 L1567.3,315.4 L1570.5,317.0 L1573.5,318.6 L1576.4,320.2 L1579.1,321.8 L1581.9,323.6 L1584.8,325.5 L1587.6,327.4 L1590.3,329.3 L1593.0,331.1 L1595.5,332.9 L1597.9,334.5 L1600.1,336.1 L1602.3,337.7 L1604.4,339.3 L1606.4,340.8 L1608.2,342.2 L1609.8,343.5 L1611.2,344.5" fill="none" stroke="#8e8e8e" stroke-width="8" stroke-linecap="round"/>
<path d="M1554.8,309.4 L1556.5,310.2 L1558.7,311.3 L1561.3,312.5 L1564.3,313.9 L1567.3,315.4 L1570.5,317.0 L1573.5,318.6 L1576.4,320.2 L1579.1,321.8 L1581.9,323.6 L1584.8,325.5 L1587.6,327.4 L1590.3,329.3 L1593.0,331.1 L1595.5,332.9 L1597.9,334.5 L1600.1,336.1 L1602.3,337.7 L1604.4,339.3 L1606.4,340.8 L1608.2,342.2 L1609.8,343.5 L1611.2,344.5" fill="none" stroke="#2a2a2a" stroke-width="2.3" stroke-linecap="round"/>
<path d="M1547.7,207.2 L1549.1,207.7 L1551.0,208.4 L1553.4,209.2 L1556.0,210.2 L1558.6,211.2 L1561.2,212.2 L1563.6,213.3 L1565.6,214.3 L1567.4,215.4 L1569.0,216.7 L1570.6,218.0 L1572.1,219.3 L1573.4,220.5 L1574.6,221.6 L1575.6,222.6" fill="none" stroke="#8e8e8e" stroke-width="8" stroke-linecap="round"/>
<path d="M1547.7,207.2 L1549.1,207.7 L1551.0,208.4 L1553.4,209.2 L1556.0,210.2 L1558.6,211.2 L1561.2,212.2 L1563.6,213.3 L1565.6,214.3 L1567.4,215.4 L1569.0,216.7 L1570.6,218.0 L1572.1,219.3 L1573.4,220.5 L1574.6,221.6 L1575.6,222.6" fill="none" stroke="#2a2a2a" stroke-width="2.3" stroke-linecap="round"/>
<path d="M1499.2,237.7 L1500.6,239.0 L1502.4,240.9 L1504.7,243.1 L1507.2,245.5 L1509.6,248.1 L1512.0,250.7 L1513.9,253.2 L1515.4,255.6 L1516.3,258.0 L1516.9,260.5 L1517.2,263.1 L1517.3,265.7 L1517.2,268.1 L1517.2,270.3 L1517.1,272.2" fill="none" stroke="#8e8e8e" stroke-width="8" stroke-linecap="round"/>
<path d="M1499.2,237.7 L1500.6,239.0 L1502.4,240.9 L1504.7,243.1 L1507.2,245.5 L1509.6,248.1 L1512.0,250.7 L1513.9,253.2 L1515.4,255.6 L1516.3,258.0 L1516.9,260.5 L1517.2,263.1 L1517.3,265.7 L1517.2,268.1 L1517.2,270.3 L1517.1,272.2" fill="none" stroke="#2a2a2a" stroke-width="2.3" stroke-linecap="round"/>
<path d="M1664.3,237.7 L1665.6,239.0 L1667.3,240.9 L1669.4,243.1 L1671.7,245.5 L1674.1,248.1 L1676.4,250.7 L1678.6,253.2 L1680.4,255.6 L1682.1,258.0 L1683.8,260.5 L1685.3,263.1 L1686.8,265.7 L1688.2,268.1 L1689.4,270.3 L1690.4,272.2" fill="none" stroke="#8e8e8e" stroke-width="8" stroke-linecap="round"/>
<path d="M1664.3,237.7 L1665.6,239.0 L1667.3,240.9 L1669.4,243.1 L1671.7,245.5 L1674.1,248.1 L1676.4,250.7 L1678.6,253.2 L1680.4,255.6 L1682.1,258.0 L1683.8,260.5 L1685.3,263.1 L1686.8,265.7 L1688.2,268.1 L1689.4,270.3 L1690.4,272.2" fill="none" stroke="#2a2a2a" stroke-width="2.3" stroke-linecap="round"/>
<path d="M1637.4,205.4 L1638.0,206.8 L1638.8,208.8 L1639.7,211.2 L1640.7,213.9 L1641.9,216.6 L1643.3,219.2 L1644.7,221.5 L1646.3,223.3 L1648.3,224.8 L1650.6,226.0 L1653.2,227.1 L1655.9,228.0 L1658.5,228.8 L1660.8,229.4 L1662.8,230.0" fill="none" stroke="#8e8e8e" stroke-width="8" stroke-linecap="round"/>
<path d="M1637.4,205.4 L1638.0,206.8 L1638.8,208.8 L1639.7,211.2 L1640.7,213.9 L1641.9,216.6 L1643.3,219.2 L1644.7,221.5 L1646.3,223.3 L1648.3,224.8 L1650.6,226.0 L1653.2,227.1 L1655.9,228.0 L1658.5,228.8 L1660.8,229.4 L1662.8,230.0" fill="none" stroke="#2a2a2a" stroke-width="2.3" stroke-linecap="round"/>
</g>
<path d="M1588.9,259.2 L1589.6,257.7 L1590.6,256.0 L1592.0,254.1 L1593.6,252.2 L1595.5,250.4 L1597.4,248.8 L1599.4,247.5 L1601.5,246.6 L1603.6,246.1 L1606.0,245.9 L1608.4,246.0 L1611.0,246.3 L1613.6,246.7 L1616.2,247.3 L1618.8,247.8 L1621.2,248.4 L1623.6,249.0 L1626.0,249.7 L1628.3,250.5 L1630.6,251.3 L1632.9,252.3 L1635.1,253.3 L1637.2,254.4 L1639.2,255.6 L1641.0,256.9 L1642.9,258.2 L1644.6,259.6 L1646.3,261.1 L1647.8,262.7 L1649.3,264.4 L1650.6,266.2 L1651.7,268.2 L1652.8,270.4 L1653.7,273.0 L1654.6,275.8 L1655.4,278.6 L1655.9,281.4 L1656.3,284.0 L1656.4,286.2 L1656.2,287.9 L1655.7,289.1 L1655.0,290.0 L1654.0,290.6 L1652.8,291.0 L1651.4,291.1 L1649.8,291.1 L1648.1,290.9 L1646.3,290.6 L1644.3,290.1 L1642.1,289.3 L1639.6,288.3 L1637.0,287.2 L1634.3,285.9 L1631.6,284.7 L1629.1,283.6 L1626.6,282.5 L1624.3,281.6 L1621.9,280.7 L1619.6,279.8 L1617.3,278.9 L1615.0,278.0 L1612.9,277.1 L1610.7,276.2 L1608.7,275.3 L1606.6,274.5 L1604.6,273.6 L1602.6,272.7 L1600.7,271.9 L1598.9,271.0 L1597.2,270.1 L1595.6,269.1 L1594.3,268.2 L1593.1,267.1 L1591.9,266.1 L1590.8,265.1 L1589.9,264.0 L1589.2,262.9 L1588.8,261.7 L1588.7,260.5 Z" fill="#060606" stroke="#777" stroke-width="3"/>
<clipPath id="cc1"><path d="M1472.3,320.2 L1473.4,318.3 L1474.7,316.5 L1476.3,315.0 L1478.1,313.6 L1480.1,312.3 L1482.2,311.2 L1484.4,310.3 L1486.7,309.4 L1489.0,308.7 L1491.5,308.1 L1494.2,307.7 L1497.0,307.4 L1499.8,307.3 L1502.6,307.2 L1505.4,307.4 L1508.2,307.6 L1510.9,308.0 L1513.8,308.6 L1516.7,309.3 L1519.6,310.1 L1522.4,311.1 L1525.1,312.2 L1527.5,313.4 L1529.7,314.8 L1531.7,316.4 L1533.5,318.1 L1535.2,320.1 L1536.7,322.1 L1538.0,324.2 L1539.0,326.5 L1539.9,328.7 L1540.5,331.0 L1540.8,333.3 L1540.8,335.8 L1540.7,338.4 L1540.3,341.1 L1539.7,343.7 L1538.9,346.2 L1538.0,348.5 L1536.9,350.7 L1535.7,352.7 L1534.3,354.5 L1532.7,356.3 L1530.9,358.0 L1529.0,359.5 L1527.0,360.9 L1524.8,362.2 L1522.5,363.3 L1520.0,364.2 L1517.2,365.0 L1514.1,365.7 L1511.0,366.3 L1507.8,366.7 L1504.7,366.9 L1501.8,367.0 L1499.2,366.8 L1496.8,366.5 L1494.5,366.1 L1492.4,365.4 L1490.4,364.6 L1488.4,363.6 L1486.6,362.5 L1484.8,361.2 L1483.1,359.7 L1481.4,358.0 L1479.7,356.0 L1478.2,353.9 L1476.7,351.6 L1475.3,349.2 L1474.1,346.7 L1473.1,344.2 L1472.3,341.7 L1471.7,339.1 L1471.2,336.3 L1470.9,333.4 L1470.7,330.5 L1470.8,327.6 L1471.0,324.9 L1471.5,322.4 Z"/></clipPath>
<path d="M1472.3,320.2 L1473.4,318.3 L1474.7,316.5 L1476.3,315.0 L1478.1,313.6 L1480.1,312.3 L1482.2,311.2 L1484.4,310.3 L1486.7,309.4 L1489.0,308.7 L1491.5,308.1 L1494.2,307.7 L1497.0,307.4 L1499.8,307.3 L1502.6,307.2 L1505.4,307.4 L1508.2,307.6 L1510.9,308.0 L1513.8,308.6 L1516.7,309.3 L1519.6,310.1 L1522.4,311.1 L1525.1,312.2 L1527.5,313.4 L1529.7,314.8 L1531.7,316.4 L1533.5,318.1 L1535.2,320.1 L1536.7,322.1 L1538.0,324.2 L1539.0,326.5 L1539.9,328.7 L1540.5,331.0 L1540.8,333.3 L1540.8,335.8 L1540.7,338.4 L1540.3,341.1 L1539.7,343.7 L1538.9,346.2 L1538.0,348.5 L1536.9,350.7 L1535.7,352.7 L1534.3,354.5 L1532.7,356.3 L1530.9,358.0 L1529.0,359.5 L1527.0,360.9 L1524.8,362.2 L1522.5,363.3 L1520.0,364.2 L1517.2,365.0 L1514.1,365.7 L1511.0,366.3 L1507.8,366.7 L1504.7,366.9 L1501.8,367.0 L1499.2,366.8 L1496.8,366.5 L1494.5,366.1 L1492.4,365.4 L1490.4,364.6 L1488.4,363.6 L1486.6,362.5 L1484.8,361.2 L1483.1,359.7 L1481.4,358.0 L1479.7,356.0 L1478.2,353.9 L1476.7,351.6 L1475.3,349.2 L1474.1,346.7 L1473.1,344.2 L1472.3,341.7 L1471.7,339.1 L1471.2,336.3 L1470.9,333.4 L1470.7,330.5 L1470.8,327.6 L1471.0,324.9 L1471.5,322.4 Z" fill="#c4c4c4"/>
<g clip-path="url(#cc1)">
<path d="M1470.5,318.4 L1472.7,318.1 L1475.7,317.7 L1479.3,317.1 L1483.3,316.6 L1487.4,316.0 L1491.6,315.6 L1495.6,315.3 L1499.2,315.2 L1502.6,315.3 L1505.9,315.5 L1509.2,315.9 L1512.4,316.4 L1515.6,317.0 L1518.6,317.6 L1521.6,318.2 L1524.3,318.8 L1527.0,319.4 L1529.7,320.1 L1532.4,320.9 L1534.9,321.7 L1537.2,322.4 L1539.2,323.1 L1540.9,323.7" fill="none" stroke="#555" stroke-width="1.4"/>
<path d="M1470.5,325.6 L1472.7,325.3 L1475.7,324.8 L1479.3,324.3 L1483.3,323.7 L1487.4,323.2 L1491.6,322.7 L1495.6,322.4 L1499.2,322.3 L1502.6,322.5 L1505.9,322.7 L1509.2,323.1 L1512.4,323.6 L1515.6,324.2 L1518.6,324.8 L1521.6,325.4 L1524.3,325.9 L1527.0,326.6 L1529.7,327.3 L1532.4,328.1 L1534.9,328.8 L1537.2,329.6 L1539.2,330.3 L1540.9,330.9" fill="none" stroke="#555" stroke-width="1.4"/>
<path d="M1470.5,332.8 L1472.7,332.5 L1475.7,332.0 L1479.3,331.5 L1483.3,330.9 L1487.4,330.4 L1491.6,329.9 L1495.6,329.6 L1499.2,329.5 L1502.6,329.6 L1505.9,329.9 L1509.2,330.3 L1512.4,330.8 L1515.6,331.3 L1518.6,331.9 L1521.6,332.5 L1524.3,333.1 L1527.0,333.7 L1529.7,334.5 L1532.4,335.2 L1534.9,336.0 L1537.2,336.8 L1539.2,337.5 L1540.9,338.1" fill="none" stroke="#555" stroke-width="1.4"/>
<path d="M1470.5,339.9 L1472.7,339.6 L1475.7,339.2 L1479.3,338.7 L1483.3,338.1 L1487.4,337.6 L1491.6,337.1 L1495.6,336.8 L1499.2,336.7 L1502.6,336.8 L1505.9,337.1 L1509.2,337.5 L1512.4,338.0 L1515.6,338.5 L1518.6,339.1 L1521.6,339.7 L1524.3,340.3 L1527.0,340.9 L1529.7,341.6 L1532.4,342.4 L1534.9,343.2 L1537.2,344.0 L1539.2,344.7 L1540.9,345.2" fill="none" stroke="#555" stroke-width="1.4"/>
<path d="M1470.5,347.1 L1472.7,346.8 L1475.7,346.4 L1479.3,345.8 L1483.3,345.3 L1487.4,344.7 L1491.6,344.3 L1495.6,344.0 L1499.2,343.9 L1502.6,344.0 L1505.9,344.3 L1509.2,344.6 L1512.4,345.1 L1515.6,345.7 L1518.6,346.3 L1521.6,346.9 L1524.3,347.5 L1527.0,348.1 L1529.7,348.8 L1532.4,349.6 L1534.9,350.4 L1537.2,351.1 L1539.2,351.8 L1540.9,352.4" fill="none" stroke="#555" stroke-width="1.4"/>
<path d="M1470.5,354.3 L1472.7,354.0 L1475.7,353.5 L1479.3,353.0 L1483.3,352.4 L1487.4,351.9 L1491.6,351.5 L1495.6,351.2 L1499.2,351.1 L1502.6,351.2 L1505.9,351.4 L1509.2,351.8 L1512.4,352.3 L1515.6,352.9 L1518.6,353.5 L1521.6,354.1 L1524.3,354.6 L1527.0,355.3 L1529.7,356.0 L1532.4,356.8 L1534.9,357.6 L1537.2,358.3 L1539.2,359.0 L1540.9,359.6" fill="none" stroke="#555" stroke-width="1.4"/>
<path d="M1470.5,361.5 L1472.7,361.2 L1475.7,360.7 L1479.3,360.2 L1483.3,359.6 L1487.4,359.1 L1491.6,358.6 L1495.6,358.3 L1499.2,358.2 L1502.6,358.3 L1505.9,358.6 L1509.2,359.0 L1512.4,359.5 L1515.6,360.0 L1518.6,360.6 L1521.6,361.2 L1524.3,361.8 L1527.0,362.4 L1529.7,363.2 L1532.4,363.9 L1534.9,364.7 L1537.2,365.5 L1539.2,366.2 L1540.9,366.8" fill="none" stroke="#555" stroke-width="1.4"/>
</g>
</g>
<circle cx="1518" cy="239" r="4" fill="#e9b02c"/>
<circle cx="1640" cy="195" r="4" fill="#e9b02c"/>
<circle cx="1650" cy="219" r="4" fill="#e9b02c"/>
<circle cx="1548" cy="252" r="4" fill="#d9581c"/>
<circle cx="1606" cy="233" r="4" fill="#d9581c"/>
<circle cx="1626" cy="241.5" r="4" fill="#d9581c"/>
<circle cx="1659" cy="244" r="4" fill="#d9581c"/>
<circle cx="1523" cy="265" r="4" fill="#1a7bc8"/>
<circle cx="1559" cy="268" r="4" fill="#1a7bc8"/>
<circle cx="1584" cy="284.5" r="4" fill="#1a7bc8"/>
<circle cx="1628" cy="316" r="4" fill="#1a7bc8"/>
<circle cx="1630.5" cy="324" r="4" fill="#1a7bc8"/>
<circle cx="1624" cy="330" r="4" fill="#1a7bc8"/>
<rect x="1837" y="101" width="329" height="296" fill="#000"/>
<text x="1840" y="108" font-size="10" style="fill:#fff">40</text>
<text x="1956" y="108" font-size="10" style="fill:#fff">50</text>
<text x="2072" y="108" font-size="10" style="fill:#fff">60</text>
<defs><clipPath id="cb2"><path d="M1845.8,237.0 L1845.7,234.4 L1845.6,231.5 L1845.6,228.6 L1845.7,225.5 L1845.8,222.4 L1846.1,219.3 L1846.5,216.2 L1846.9,213.2 L1847.5,210.3 L1848.1,207.6 L1848.8,205.1 L1849.7,202.6 L1850.7,200.3 L1851.7,198.0 L1852.9,195.7 L1854.1,193.6 L1855.4,191.4 L1856.7,189.3 L1858.0,187.1 L1859.4,185.0 L1860.8,182.8 L1862.2,180.7 L1863.7,178.5 L1865.3,176.4 L1866.9,174.2 L1868.5,172.2 L1870.2,170.2 L1871.9,168.2 L1873.5,166.4 L1875.2,164.6 L1876.9,163.0 L1878.7,161.5 L1880.4,160.1 L1882.2,158.8 L1884.0,157.6 L1885.8,156.3 L1887.7,155.1 L1889.5,153.8 L1891.4,152.5 L1893.3,151.1 L1895.3,149.5 L1897.3,147.9 L1899.3,146.2 L1901.4,144.4 L1903.5,142.7 L1905.6,141.0 L1907.7,139.4 L1909.7,137.8 L1911.7,136.4 L1913.7,135.2 L1915.6,134.2 L1917.4,133.2 L1919.3,132.4 L1921.1,131.6 L1922.9,131.0 L1924.6,130.4 L1926.4,129.9 L1928.2,129.5 L1930.0,129.2 L1931.8,128.9 L1933.6,128.7 L1935.4,128.6 L1937.2,128.5 L1939.1,128.6 L1940.9,128.7 L1942.7,128.8 L1944.5,129.1 L1946.3,129.4 L1948.1,129.8 L1949.9,130.3 L1951.6,130.9 L1953.3,131.8 L1955.0,132.8 L1956.7,134.0 L1958.4,135.1 L1960.1,136.2 L1961.8,137.2 L1963.5,138.0 L1965.1,138.5 L1966.8,138.6 L1968.5,138.3 L1970.2,137.7 L1971.9,136.7 L1973.6,135.5 L1975.2,134.2 L1976.9,132.9 L1978.6,131.6 L1980.3,130.4 L1982.1,129.5 L1983.8,128.9 L1985.6,128.6 L1987.3,128.3 L1989.1,128.2 L1991.0,128.3 L1992.8,128.4 L1994.6,128.6 L1996.4,128.9 L1998.3,129.3 L2000.1,129.7 L2001.9,130.3 L2003.7,130.9 L2005.5,131.5 L2007.2,132.3 L2009.0,133.2 L2010.8,134.1 L2012.6,135.1 L2014.4,136.2 L2016.2,137.3 L2018.1,138.5 L2020.0,139.8 L2021.9,141.1 L2024.0,142.6 L2026.1,144.1 L2028.2,145.7 L2030.3,147.4 L2032.4,149.1 L2034.5,150.8 L2036.5,152.5 L2038.5,154.1 L2040.3,155.6 L2042.1,157.0 L2043.8,158.3 L2045.4,159.6 L2047.0,160.9 L2048.5,162.1 L2050.1,163.4 L2051.6,164.7 L2053.1,166.0 L2054.6,167.5 L2056.2,169.2 L2057.8,170.9 L2059.4,172.8 L2061.1,174.8 L2062.7,176.8 L2064.4,178.9 L2066.0,181.0 L2067.6,183.2 L2069.1,185.3 L2070.6,187.4 L2072.0,189.5 L2073.3,191.6 L2074.7,193.6 L2075.9,195.6 L2077.2,197.7 L2078.4,199.7 L2079.5,201.7 L2080.6,203.8 L2081.6,205.8 L2082.5,207.8 L2083.3,209.9 L2084.1,211.9 L2084.8,214.0 L2085.4,216.0 L2086.0,218.1 L2086.5,220.2 L2086.9,222.2 L2087.3,224.3 L2087.5,226.3 L2087.7,228.3 L2087.8,230.2 L2087.8,232.2 L2087.7,234.1 L2087.4,236.1 L2087.0,238.0 L2086.6,239.9 L2086.2,241.8 L2085.7,243.5 L2085.2,245.2 L2084.8,246.8 L2084.4,248.3 L2084.1,249.6 L2083.6,250.8 L2083.1,251.7 L2082.7,252.6 L2082.2,253.5 L2081.8,254.3 L2081.4,255.2 L2081.2,256.2 L2081.0,257.2 L2081.1,258.5 L2081.3,259.9 L2081.7,261.4 L2082.2,263.0 L2082.8,264.6 L2083.5,266.3 L2084.3,268.1 L2085.0,269.9 L2085.6,271.7 L2086.2,273.6 L2086.7,275.5 L2087.1,277.3 L2087.5,279.3 L2087.8,281.2 L2088.2,283.3 L2088.5,285.3 L2088.7,287.3 L2088.9,289.4 L2089.0,291.5 L2089.0,293.7 L2089.0,295.8 L2088.8,298.0 L2088.6,300.2 L2088.3,302.5 L2088.0,304.8 L2087.6,307.1 L2087.1,309.4 L2086.5,311.7 L2085.9,314.0 L2085.2,316.3 L2084.4,318.4 L2083.6,320.6 L2082.7,322.8 L2081.7,324.9 L2080.7,327.1 L2079.6,329.2 L2078.4,331.2 L2077.2,333.3 L2075.9,335.2 L2074.5,337.0 L2073.1,338.8 L2071.7,340.5 L2070.2,342.1 L2068.6,343.6 L2067.0,345.1 L2065.4,346.5 L2063.6,347.8 L2061.9,349.1 L2060.0,350.3 L2058.1,351.4 L2056.2,352.4 L2054.1,353.3 L2051.9,354.2 L2049.7,355.0 L2047.3,355.7 L2044.9,356.3 L2042.5,356.9 L2040.2,357.3 L2037.9,357.7 L2035.7,357.9 L2033.6,358.0 L2031.5,358.0 L2029.6,357.9 L2027.6,357.7 L2025.7,357.4 L2023.9,357.0 L2022.1,356.5 L2020.3,355.9 L2018.6,355.2 L2017.0,354.4 L2015.5,353.5 L2014.0,352.5 L2012.5,351.3 L2011.1,350.1 L2009.8,348.7 L2008.5,347.3 L2007.3,345.7 L2006.2,344.1 L2005.1,342.4 L2004.0,340.6 L2003.0,338.8 L2002.1,336.8 L2001.3,334.6 L2000.6,332.3 L2000.0,329.8 L1999.3,327.3 L1998.8,324.9 L1998.2,322.5 L1997.6,320.2 L1996.9,318.1 L1996.2,316.2 L1995.5,314.5 L1994.8,313.0 L1994.1,311.6 L1993.3,310.3 L1992.6,309.1 L1991.8,308.0 L1991.0,306.9 L1990.1,305.8 L1989.3,304.8 L1988.3,303.7 L1987.3,302.6 L1986.2,301.5 L1985.1,300.4 L1983.9,299.3 L1982.7,298.2 L1981.5,297.3 L1980.3,296.4 L1979.2,295.7 L1978.1,295.1 L1977.0,294.7 L1976.0,294.5 L1975.1,294.6 L1974.2,294.9 L1973.3,295.3 L1972.4,295.8 L1971.6,296.3 L1970.7,296.8 L1969.8,297.2 L1968.9,297.5 L1968.0,297.6 L1967.0,297.5 L1966.0,297.2 L1965.0,296.8 L1964.0,296.2 L1962.9,295.7 L1961.9,295.2 L1960.9,294.8 L1959.8,294.5 L1958.8,294.5 L1957.8,294.7 L1956.8,295.1 L1955.7,295.7 L1954.7,296.4 L1953.7,297.2 L1952.6,298.2 L1951.6,299.3 L1950.6,300.5 L1949.6,301.8 L1948.6,303.3 L1947.6,304.9 L1946.7,306.6 L1945.8,308.7 L1944.9,310.9 L1944.0,313.2 L1943.2,315.7 L1942.3,318.2 L1941.4,320.6 L1940.5,323.0 L1939.6,325.3 L1938.6,327.5 L1937.6,329.5 L1936.6,331.5 L1935.6,333.4 L1934.5,335.3 L1933.5,337.2 L1932.4,339.0 L1931.2,340.7 L1930.0,342.4 L1928.7,344.0 L1927.3,345.6 L1925.7,347.1 L1924.1,348.6 L1922.5,350.2 L1920.7,351.6 L1918.9,353.0 L1917.0,354.3 L1915.1,355.5 L1913.2,356.5 L1911.2,357.3 L1909.2,358.0 L1907.1,358.5 L1904.9,358.9 L1902.6,359.1 L1900.2,359.1 L1897.9,359.1 L1895.5,358.9 L1893.1,358.6 L1890.8,358.1 L1888.6,357.6 L1886.5,356.9 L1884.5,356.1 L1882.6,355.1 L1880.7,353.9 L1878.9,352.7 L1877.1,351.3 L1875.3,349.8 L1873.6,348.3 L1871.9,346.7 L1870.1,345.0 L1868.4,343.3 L1866.7,341.6 L1865.0,339.7 L1863.2,337.8 L1861.5,335.9 L1859.8,333.8 L1858.1,331.8 L1856.5,329.6 L1855.1,327.4 L1853.8,325.2 L1852.6,323.0 L1851.6,320.7 L1850.7,318.3 L1850.0,315.9 L1849.3,313.4 L1848.7,310.9 L1848.2,308.4 L1847.8,305.9 L1847.5,303.3 L1847.2,300.7 L1847.0,298.1 L1846.8,295.4 L1846.7,292.6 L1846.7,289.6 L1846.8,286.7 L1846.9,283.7 L1847.1,280.8 L1847.3,278.1 L1847.5,275.5 L1847.8,273.1 L1848.1,270.9 L1848.5,269.1 L1849.0,267.7 L1849.6,266.4 L1850.2,265.3 L1850.9,264.4 L1851.5,263.4 L1852.0,262.4 L1852.4,261.3 L1852.6,260.0 L1852.6,258.5 L1852.4,256.8 L1851.8,254.9 L1851.1,253.0 L1850.3,250.9 L1849.4,248.8 L1848.4,246.6 L1847.6,244.3 L1846.8,242.0 L1846.2,239.5 Z"/></clipPath></defs>
<g filter="url(#bl2)">
<g clip-path="url(#cb2)">
<path d="M1845.8,237.0 L1845.7,234.4 L1845.6,231.5 L1845.6,228.6 L1845.7,225.5 L1845.8,222.4 L1846.1,219.3 L1846.5,216.2 L1846.9,213.2 L1847.5,210.3 L1848.1,207.6 L1848.8,205.1 L1849.7,202.6 L1850.7,200.3 L1851.7,198.0 L1852.9,195.7 L1854.1,193.6 L1855.4,191.4 L1856.7,189.3 L1858.0,187.1 L1859.4,185.0 L1860.8,182.8 L1862.2,180.7 L1863.7,178.5 L1865.3,176.4 L1866.9,174.2 L1868.5,172.2 L1870.2,170.2 L1871.9,168.2 L1873.5,166.4 L1875.2,164.6 L1876.9,163.0 L1878.7,161.5 L1880.4,160.1 L1882.2,158.8 L1884.0,157.6 L1885.8,156.3 L1887.7,155.1 L1889.5,153.8 L1891.4,152.5 L1893.3,151.1 L1895.3,149.5 L1897.3,147.9 L1899.3,146.2 L1901.4,144.4 L1903.5,142.7 L1905.6,141.0 L1907.7,139.4 L1909.7,137.8 L1911.7,136.4 L1913.7,135.2 L1915.6,134.2 L1917.4,133.2 L1919.3,132.4 L1921.1,131.6 L1922.9,131.0 L1924.6,130.4 L1926.4,129.9 L1928.2,129.5 L1930.0,129.2 L1931.8,128.9 L1933.6,128.7 L1935.4,128.6 L1937.2,128.5 L1939.1,128.6 L1940.9,128.7 L1942.7,128.8 L1944.5,129.1 L1946.3,129.4 L1948.1,129.8 L1949.9,130.3 L1951.6,130.9 L1953.3,131.8 L1955.0,132.8 L1956.7,134.0 L1958.4,135.1 L1960.1,136.2 L1961.8,137.2 L1963.5,138.0 L1965.1,138.5 L1966.8,138.6 L1968.5,138.3 L1970.2,137.7 L1971.9,136.7 L1973.6,135.5 L1975.2,134.2 L1976.9,132.9 L1978.6,131.6 L1980.3,130.4 L1982.1,129.5 L1983.8,128.9 L1985.6,128.6 L1987.3,128.3 L1989.1,128.2 L1991.0,128.3 L1992.8,128.4 L1994.6,128.6 L1996.4,128.9 L1998.3,129.3 L2000.1,129.7 L2001.9,130.3 L2003.7,130.9 L2005.5,131.5 L2007.2,132.3 L2009.0,133.2 L2010.8,134.1 L2012.6,135.1 L2014.4,136.2 L2016.2,137.3 L2018.1,138.5 L2020.0,139.8 L2021.9,141.1 L2024.0,142.6 L2026.1,144.1 L2028.2,145.7 L2030.3,147.4 L2032.4,149.1 L2034.5,150.8 L2036.5,152.5 L2038.5,154.1 L2040.3,155.6 L2042.1,157.0 L2043.8,158.3 L2045.4,159.6 L2047.0,160.9 L2048.5,162.1 L2050.1,163.4 L2051.6,164.7 L2053.1,166.0 L2054.6,167.5 L2056.2,169.2 L2057.8,170.9 L2059.4,172.8 L2061.1,174.8 L2062.7,176.8 L2064.4,178.9 L2066.0,181.0 L2067.6,183.2 L2069.1,185.3 L2070.6,187.4 L2072.0,189.5 L2073.3,191.6 L2074.7,193.6 L2075.9,195.6 L2077.2,197.7 L2078.4,199.7 L2079.5,201.7 L2080.6,203.8 L2081.6,205.8 L2082.5,207.8 L2083.3,209.9 L2084.1,211.9 L2084.8,214.0 L2085.4,216.0 L2086.0,218.1 L2086.5,220.2 L2086.9,222.2 L2087.3,224.3 L2087.5,226.3 L2087.7,228.3 L2087.8,230.2 L2087.8,232.2 L2087.7,234.1 L2087.4,236.1 L2087.0,238.0 L2086.6,239.9 L2086.2,241.8 L2085.7,243.5 L2085.2,245.2 L2084.8,246.8 L2084.4,248.3 L2084.1,249.6 L2083.6,250.8 L2083.1,251.7 L2082.7,252.6 L2082.2,253.5 L2081.8,254.3 L2081.4,255.2 L2081.2,256.2 L2081.0,257.2 L2081.1,258.5 L2081.3,259.9 L2081.7,261.4 L2082.2,263.0 L2082.8,264.6 L2083.5,266.3 L2084.3,268.1 L2085.0,269.9 L2085.6,271.7 L2086.2,273.6 L2086.7,275.5 L2087.1,277.3 L2087.5,279.3 L2087.8,281.2 L2088.2,283.3 L2088.5,285.3 L2088.7,287.3 L2088.9,289.4 L2089.0,291.5 L2089.0,293.7 L2089.0,295.8 L2088.8,298.0 L2088.6,300.2 L2088.3,302.5 L2088.0,304.8 L2087.6,307.1 L2087.1,309.4 L2086.5,311.7 L2085.9,314.0 L2085.2,316.3 L2084.4,318.4 L2083.6,320.6 L2082.7,322.8 L2081.7,324.9 L2080.7,327.1 L2079.6,329.2 L2078.4,331.2 L2077.2,333.3 L2075.9,335.2 L2074.5,337.0 L2073.1,338.8 L2071.7,340.5 L2070.2,342.1 L2068.6,343.6 L2067.0,345.1 L2065.4,346.5 L2063.6,347.8 L2061.9,349.1 L2060.0,350.3 L2058.1,351.4 L2056.2,352.4 L2054.1,353.3 L2051.9,354.2 L2049.7,355.0 L2047.3,355.7 L2044.9,356.3 L2042.5,356.9 L2040.2,357.3 L2037.9,357.7 L2035.7,357.9 L2033.6,358.0 L2031.5,358.0 L2029.6,357.9 L2027.6,357.7 L2025.7,357.4 L2023.9,357.0 L2022.1,356.5 L2020.3,355.9 L2018.6,355.2 L2017.0,354.4 L2015.5,353.5 L2014.0,352.5 L2012.5,351.3 L2011.1,350.1 L2009.8,348.7 L2008.5,347.3 L2007.3,345.7 L2006.2,344.1 L2005.1,342.4 L2004.0,340.6 L2003.0,338.8 L2002.1,336.8 L2001.3,334.6 L2000.6,332.3 L2000.0,329.8 L1999.3,327.3 L1998.8,324.9 L1998.2,322.5 L1997.6,320.2 L1996.9,318.1 L1996.2,316.2 L1995.5,314.5 L1994.8,313.0 L1994.1,311.6 L1993.3,310.3 L1992.6,309.1 L1991.8,308.0 L1991.0,306.9 L1990.1,305.8 L1989.3,304.8 L1988.3,303.7 L1987.3,302.6 L1986.2,301.5 L1985.1,300.4 L1983.9,299.3 L1982.7,298.2 L1981.5,297.3 L1980.3,296.4 L1979.2,295.7 L1978.1,295.1 L1977.0,294.7 L1976.0,294.5 L1975.1,294.6 L1974.2,294.9 L1973.3,295.3 L1972.4,295.8 L1971.6,296.3 L1970.7,296.8 L1969.8,297.2 L1968.9,297.5 L1968.0,297.6 L1967.0,297.5 L1966.0,297.2 L1965.0,296.8 L1964.0,296.2 L1962.9,295.7 L1961.9,295.2 L1960.9,294.8 L1959.8,294.5 L1958.8,294.5 L1957.8,294.7 L1956.8,295.1 L1955.7,295.7 L1954.7,296.4 L1953.7,297.2 L1952.6,298.2 L1951.6,299.3 L1950.6,300.5 L1949.6,301.8 L1948.6,303.3 L1947.6,304.9 L1946.7,306.6 L1945.8,308.7 L1944.9,310.9 L1944.0,313.2 L1943.2,315.7 L1942.3,318.2 L1941.4,320.6 L1940.5,323.0 L1939.6,325.3 L1938.6,327.5 L1937.6,329.5 L1936.6,331.5 L1935.6,333.4 L1934.5,335.3 L1933.5,337.2 L1932.4,339.0 L1931.2,340.7 L1930.0,342.4 L1928.7,344.0 L1927.3,345.6 L1925.7,347.1 L1924.1,348.6 L1922.5,350.2 L1920.7,351.6 L1918.9,353.0 L1917.0,354.3 L1915.1,355.5 L1913.2,356.5 L1911.2,357.3 L1909.2,358.0 L1907.1,358.5 L1904.9,358.9 L1902.6,359.1 L1900.2,359.1 L1897.9,359.1 L1895.5,358.9 L1893.1,358.6 L1890.8,358.1 L1888.6,357.6 L1886.5,356.9 L1884.5,356.1 L1882.6,355.1 L1880.7,353.9 L1878.9,352.7 L1877.1,351.3 L1875.3,349.8 L1873.6,348.3 L1871.9,346.7 L1870.1,345.0 L1868.4,343.3 L1866.7,341.6 L1865.0,339.7 L1863.2,337.8 L1861.5,335.9 L1859.8,333.8 L1858.1,331.8 L1856.5,329.6 L1855.1,327.4 L1853.8,325.2 L1852.6,323.0 L1851.6,320.7 L1850.7,318.3 L1850.0,315.9 L1849.3,313.4 L1848.7,310.9 L1848.2,308.4 L1847.8,305.9 L1847.5,303.3 L1847.2,300.7 L1847.0,298.1 L1846.8,295.4 L1846.7,292.6 L1846.7,289.6 L1846.8,286.7 L1846.9,283.7 L1847.1,280.8 L1847.3,278.1 L1847.5,275.5 L1847.8,273.1 L1848.1,270.9 L1848.5,269.1 L1849.0,267.7 L1849.6,266.4 L1850.2,265.3 L1850.9,264.4 L1851.5,263.4 L1852.0,262.4 L1852.4,261.3 L1852.6,260.0 L1852.6,258.5 L1852.4,256.8 L1851.8,254.9 L1851.1,253.0 L1850.3,250.9 L1849.4,248.8 L1848.4,246.6 L1847.6,244.3 L1846.8,242.0 L1846.2,239.5 Z" fill="#eeeeee" stroke="#a0a0a0" stroke-width="11"/>
<path d="M1847.3,236.8 L1852.6,236.9 L1859.3,236.5 L1866.1,235.4" fill="none" stroke="#959595" stroke-width="14" stroke-linecap="round"/>
<path d="M1848.3,214.4 L1856.3,214.6 L1865.2,217.8 L1874.2,222.1" fill="none" stroke="#959595" stroke-width="14" stroke-linecap="round"/>
<path d="M1856.0,193.3 L1865.5,198.3 L1876.4,203.8 L1887.6,209.5" fill="none" stroke="#959595" stroke-width="14" stroke-linecap="round"/>
<path d="M1868.6,174.5 L1874.2,176.8 L1880.1,181.2 L1885.0,187.1" fill="none" stroke="#959595" stroke-width="14" stroke-linecap="round"/>
<path d="M1884.9,158.8 L1892.3,164.0 L1897.8,172.8 L1902.1,183.1" fill="none" stroke="#959595" stroke-width="14" stroke-linecap="round"/>
<path d="M1903.1,145.0 L1907.2,149.2 L1912.7,154.2 L1917.3,160.1" fill="none" stroke="#959595" stroke-width="14" stroke-linecap="round"/>
<path d="M1922.0,132.9 L1924.6,145.1 L1926.7,159.0 L1931.0,172.6" fill="none" stroke="#959595" stroke-width="14" stroke-linecap="round"/>
<path d="M1943.9,130.5 L1944.9,139.9 L1944.1,150.4 L1940.7,160.9" fill="none" stroke="#959595" stroke-width="14" stroke-linecap="round"/>
<path d="M1964.9,139.9 L1966.8,147.9 L1964.7,157.5 L1961.2,167.4" fill="none" stroke="#959595" stroke-width="14" stroke-linecap="round"/>
<path d="M1848.4,283.5 L1855.5,282.7 L1863.7,284.9 L1872.1,288.3" fill="none" stroke="#959595" stroke-width="14" stroke-linecap="round"/>
<path d="M1853.9,261.3 L1858.7,262.6 L1865.1,262.3 L1871.6,260.6" fill="none" stroke="#959595" stroke-width="14" stroke-linecap="round"/>
<path d="M1847.3,236.8 L1852.6,236.9 L1859.3,236.5 L1866.1,235.4" fill="none" stroke="#262626" stroke-width="2.8" stroke-linecap="round"/>
<path d="M1848.3,214.4 L1856.3,214.6 L1865.2,217.8 L1874.2,222.1" fill="none" stroke="#262626" stroke-width="2.8" stroke-linecap="round"/>
<path d="M1856.0,193.3 L1865.5,198.3 L1876.4,203.8 L1887.6,209.5" fill="none" stroke="#262626" stroke-width="2.8" stroke-linecap="round"/>
<path d="M1868.6,174.5 L1874.2,176.8 L1880.1,181.2 L1885.0,187.1" fill="none" stroke="#262626" stroke-width="2.8" stroke-linecap="round"/>
<path d="M1884.9,158.8 L1892.3,164.0 L1897.8,172.8 L1902.1,183.1" fill="none" stroke="#262626" stroke-width="2.8" stroke-linecap="round"/>
<path d="M1903.1,145.0 L1907.2,149.2 L1912.7,154.2 L1917.3,160.1" fill="none" stroke="#262626" stroke-width="2.8" stroke-linecap="round"/>
<path d="M1922.0,132.9 L1924.6,145.1 L1926.7,159.0 L1931.0,172.6" fill="none" stroke="#262626" stroke-width="2.8" stroke-linecap="round"/>
<path d="M1943.9,130.5 L1944.9,139.9 L1944.1,150.4 L1940.7,160.9" fill="none" stroke="#262626" stroke-width="2.8" stroke-linecap="round"/>
<path d="M1964.9,139.9 L1966.8,147.9 L1964.7,157.5 L1961.2,167.4" fill="none" stroke="#262626" stroke-width="2.8" stroke-linecap="round"/>
<path d="M1848.4,283.5 L1855.5,282.7 L1863.7,284.9 L1872.1,288.3" fill="none" stroke="#262626" stroke-width="2.8" stroke-linecap="round"/>
<path d="M1853.9,261.3 L1858.7,262.6 L1865.1,262.3 L1871.6,260.6" fill="none" stroke="#262626" stroke-width="2.8" stroke-linecap="round"/>
<path d="M1985.2,130.2 L1989.3,141.7 L1994.4,154.6 L1996.5,168.4" fill="none" stroke="#959595" stroke-width="14" stroke-linecap="round"/>
<path d="M2006.8,133.8 L2004.4,146.1 L2001.9,159.9 L1996.8,173.3" fill="none" stroke="#959595" stroke-width="14" stroke-linecap="round"/>
<path d="M2025.9,145.9 L2021.1,154.0 L2013.1,161.6 L2004.5,169.2" fill="none" stroke="#959595" stroke-width="14" stroke-linecap="round"/>
<path d="M2043.7,160.2 L2038.6,163.4 L2034.3,169.3 L2031.0,176.4" fill="none" stroke="#959595" stroke-width="14" stroke-linecap="round"/>
<path d="M2060.1,175.9 L2051.8,180.1 L2043.3,186.2 L2036.2,194.3" fill="none" stroke="#959595" stroke-width="14" stroke-linecap="round"/>
<path d="M2073.4,194.4 L2062.6,199.2 L2052.9,208.6 L2043.2,218.9" fill="none" stroke="#959595" stroke-width="14" stroke-linecap="round"/>
<path d="M2083.4,214.6 L2072.3,217.2 L2060.4,221.9 L2048.1,227.2" fill="none" stroke="#959595" stroke-width="14" stroke-linecap="round"/>
<path d="M2085.8,236.6 L2080.5,235.0 L2073.6,234.1 L2066.4,234.5" fill="none" stroke="#959595" stroke-width="14" stroke-linecap="round"/>
<path d="M2079.6,258.7 L2067.7,257.0 L2054.4,254.1 L2040.6,253.5" fill="none" stroke="#959595" stroke-width="14" stroke-linecap="round"/>
<path d="M2086.3,280.9 L2077.6,281.2 L2067.5,282.3 L2057.2,284.4" fill="none" stroke="#959595" stroke-width="14" stroke-linecap="round"/>
<path d="M1969.4,295.9 L1971.5,290.0 L1971.2,282.5 L1969.3,274.6" fill="none" stroke="#959595" stroke-width="14" stroke-linecap="round"/>
<path d="M1985.2,130.2 L1989.3,141.7 L1994.4,154.6 L1996.5,168.4" fill="none" stroke="#262626" stroke-width="2.8" stroke-linecap="round"/>
<path d="M2006.8,133.8 L2004.4,146.1 L2001.9,159.9 L1996.8,173.3" fill="none" stroke="#262626" stroke-width="2.8" stroke-linecap="round"/>
<path d="M2025.9,145.9 L2021.1,154.0 L2013.1,161.6 L2004.5,169.2" fill="none" stroke="#262626" stroke-width="2.8" stroke-linecap="round"/>
<path d="M2043.7,160.2 L2038.6,163.4 L2034.3,169.3 L2031.0,176.4" fill="none" stroke="#262626" stroke-width="2.8" stroke-linecap="round"/>
<path d="M2060.1,175.9 L2051.8,180.1 L2043.3,186.2 L2036.2,194.3" fill="none" stroke="#262626" stroke-width="2.8" stroke-linecap="round"/>
<path d="M2073.4,194.4 L2062.6,199.2 L2052.9,208.6 L2043.2,218.9" fill="none" stroke="#262626" stroke-width="2.8" stroke-linecap="round"/>
<path d="M2083.4,214.6 L2072.3,217.2 L2060.4,221.9 L2048.1,227.2" fill="none" stroke="#262626" stroke-width="2.8" stroke-linecap="round"/>
<path d="M2085.8,236.6 L2080.5,235.0 L2073.6,234.1 L2066.4,234.5" fill="none" stroke="#262626" stroke-width="2.8" stroke-linecap="round"/>
<path d="M2079.6,258.7 L2067.7,257.0 L2054.4,254.1 L2040.6,253.5" fill="none" stroke="#262626" stroke-width="2.8" stroke-linecap="round"/>
<path d="M2086.3,280.9 L2077.6,281.2 L2067.5,282.3 L2057.2,284.4" fill="none" stroke="#262626" stroke-width="2.8" stroke-linecap="round"/>
<path d="M1969.4,295.9 L1971.5,290.0 L1971.2,282.5 L1969.3,274.6" fill="none" stroke="#262626" stroke-width="2.8" stroke-linecap="round"/>
<path d="M1946.4,304.1 L1941.4,298.4 L1935.1,292.0 L1927.5,287.0" fill="none" stroke="#959595" stroke-width="14" stroke-linecap="round"/>
<path d="M1939.6,321.1 L1937.0,319.8 L1933.0,318.1 L1928.7,316.6" fill="none" stroke="#959595" stroke-width="14" stroke-linecap="round"/>
<path d="M1931.8,337.0 L1926.9,334.9 L1920.8,331.8 L1915.2,327.7" fill="none" stroke="#959595" stroke-width="14" stroke-linecap="round"/>
<path d="M1920.3,350.0 L1916.8,346.6 L1912.9,341.6 L1909.5,336.1" fill="none" stroke="#959595" stroke-width="14" stroke-linecap="round"/>
<path d="M1904.9,357.3 L1903.8,354.9 L1903.4,350.8 L1903.6,346.5" fill="none" stroke="#959595" stroke-width="14" stroke-linecap="round"/>
<path d="M1887.9,355.7 L1889.4,351.3 L1892.1,345.7 L1894.6,339.8" fill="none" stroke="#959595" stroke-width="14" stroke-linecap="round"/>
<path d="M1873.5,346.1 L1875.5,342.1 L1879.7,338.1 L1884.8,334.5" fill="none" stroke="#959595" stroke-width="14" stroke-linecap="round"/>
<path d="M1861.3,333.3 L1866.0,330.3 L1871.8,326.3 L1877.5,321.8" fill="none" stroke="#959595" stroke-width="14" stroke-linecap="round"/>
<path d="M1852.3,318.3 L1859.2,315.1 L1868.0,312.7 L1877.2,310.5" fill="none" stroke="#959595" stroke-width="14" stroke-linecap="round"/>
<path d="M1848.8,301.1 L1853.2,300.8 L1859.1,300.5 L1865.1,300.0" fill="none" stroke="#959595" stroke-width="14" stroke-linecap="round"/>
<path d="M1848.4,283.4 L1852.6,282.8 L1858.2,283.2 L1863.9,284.5" fill="none" stroke="#959595" stroke-width="14" stroke-linecap="round"/>
<path d="M1851.5,265.8 L1857.7,266.6 L1865.4,267.0 L1873.4,267.1" fill="none" stroke="#959595" stroke-width="14" stroke-linecap="round"/>
<path d="M1946.4,304.1 L1941.4,298.4 L1935.1,292.0 L1927.5,287.0" fill="none" stroke="#262626" stroke-width="2.8" stroke-linecap="round"/>
<path d="M1939.6,321.1 L1937.0,319.8 L1933.0,318.1 L1928.7,316.6" fill="none" stroke="#262626" stroke-width="2.8" stroke-linecap="round"/>
<path d="M1931.8,337.0 L1926.9,334.9 L1920.8,331.8 L1915.2,327.7" fill="none" stroke="#262626" stroke-width="2.8" stroke-linecap="round"/>
<path d="M1920.3,350.0 L1916.8,346.6 L1912.9,341.6 L1909.5,336.1" fill="none" stroke="#262626" stroke-width="2.8" stroke-linecap="round"/>
<path d="M1904.9,357.3 L1903.8,354.9 L1903.4,350.8 L1903.6,346.5" fill="none" stroke="#262626" stroke-width="2.8" stroke-linecap="round"/>
<path d="M1887.9,355.7 L1889.4,351.3 L1892.1,345.7 L1894.6,339.8" fill="none" stroke="#262626" stroke-width="2.8" stroke-linecap="round"/>
<path d="M1873.5,346.1 L1875.5,342.1 L1879.7,338.1 L1884.8,334.5" fill="none" stroke="#262626" stroke-width="2.8" stroke-linecap="round"/>
<path d="M1861.3,333.3 L1866.0,330.3 L1871.8,326.3 L1877.5,321.8" fill="none" stroke="#262626" stroke-width="2.8" stroke-linecap="round"/>
<path d="M1852.3,318.3 L1859.2,315.1 L1868.0,312.7 L1877.2,310.5" fill="none" stroke="#262626" stroke-width="2.8" stroke-linecap="round"/>
<path d="M1848.8,301.1 L1853.2,300.8 L1859.1,300.5 L1865.1,300.0" fill="none" stroke="#262626" stroke-width="2.8" stroke-linecap="round"/>
<path d="M1848.4,283.4 L1852.6,282.8 L1858.2,283.2 L1863.9,284.5" fill="none" stroke="#262626" stroke-width="2.8" stroke-linecap="round"/>
<path d="M1851.5,265.8 L1857.7,266.6 L1865.4,267.0 L1873.4,267.1" fill="none" stroke="#262626" stroke-width="2.8" stroke-linecap="round"/>
<path d="M2080.9,263.6 L2074.6,263.1 L2067.0,264.7 L2059.2,267.2" fill="none" stroke="#959595" stroke-width="14" stroke-linecap="round"/>
<path d="M2086.3,280.9 L2078.9,283.4 L2069.7,284.4 L2060.0,284.5" fill="none" stroke="#959595" stroke-width="14" stroke-linecap="round"/>
<path d="M2087.3,298.5 L2084.4,297.8 L2079.9,298.1 L2075.3,298.7" fill="none" stroke="#959595" stroke-width="14" stroke-linecap="round"/>
<path d="M2083.8,315.7 L2078.1,313.1 L2071.1,309.9 L2063.5,307.5" fill="none" stroke="#959595" stroke-width="14" stroke-linecap="round"/>
<path d="M2076.4,331.6 L2072.9,328.3 L2068.3,323.8 L2062.9,320.2" fill="none" stroke="#959595" stroke-width="14" stroke-linecap="round"/>
<path d="M2065.0,344.8 L2063.1,342.4 L2060.8,338.4 L2058.4,334.3" fill="none" stroke="#959595" stroke-width="14" stroke-linecap="round"/>
<path d="M2049.8,353.3 L2047.5,347.4 L2044.2,340.2 L2041.2,332.7" fill="none" stroke="#959595" stroke-width="14" stroke-linecap="round"/>
<path d="M2032.7,356.5 L2031.5,349.0 L2032.8,340.0 L2035.3,330.8" fill="none" stroke="#959595" stroke-width="14" stroke-linecap="round"/>
<path d="M2016.3,352.2 L2019.0,345.8 L2022.9,338.3 L2028.0,331.3" fill="none" stroke="#959595" stroke-width="14" stroke-linecap="round"/>
<path d="M2005.1,339.4 L2008.7,337.5 L2013.4,334.5 L2018.2,331.4" fill="none" stroke="#959595" stroke-width="14" stroke-linecap="round"/>
<path d="M1999.7,322.5 L2006.9,321.3 L2014.8,317.6 L2022.4,312.5" fill="none" stroke="#959595" stroke-width="14" stroke-linecap="round"/>
<path d="M2080.9,263.6 L2074.6,263.1 L2067.0,264.7 L2059.2,267.2" fill="none" stroke="#262626" stroke-width="2.8" stroke-linecap="round"/>
<path d="M2086.3,280.9 L2078.9,283.4 L2069.7,284.4 L2060.0,284.5" fill="none" stroke="#262626" stroke-width="2.8" stroke-linecap="round"/>
<path d="M2087.3,298.5 L2084.4,297.8 L2079.9,298.1 L2075.3,298.7" fill="none" stroke="#262626" stroke-width="2.8" stroke-linecap="round"/>
<path d="M2083.8,315.7 L2078.1,313.1 L2071.1,309.9 L2063.5,307.5" fill="none" stroke="#262626" stroke-width="2.8" stroke-linecap="round"/>
<path d="M2076.4,331.6 L2072.9,328.3 L2068.3,323.8 L2062.9,320.2" fill="none" stroke="#262626" stroke-width="2.8" stroke-linecap="round"/>
<path d="M2065.0,344.8 L2063.1,342.4 L2060.8,338.4 L2058.4,334.3" fill="none" stroke="#262626" stroke-width="2.8" stroke-linecap="round"/>
<path d="M2049.8,353.3 L2047.5,347.4 L2044.2,340.2 L2041.2,332.7" fill="none" stroke="#262626" stroke-width="2.8" stroke-linecap="round"/>
<path d="M2032.7,356.5 L2031.5,349.0 L2032.8,340.0 L2035.3,330.8" fill="none" stroke="#262626" stroke-width="2.8" stroke-linecap="round"/>
<path d="M2016.3,352.2 L2019.0,345.8 L2022.9,338.3 L2028.0,331.3" fill="none" stroke="#262626" stroke-width="2.8" stroke-linecap="round"/>
<path d="M2005.1,339.4 L2008.7,337.5 L2013.4,334.5 L2018.2,331.4" fill="none" stroke="#262626" stroke-width="2.8" stroke-linecap="round"/>
<path d="M1999.7,322.5 L2006.9,321.3 L2014.8,317.6 L2022.4,312.5" fill="none" stroke="#262626" stroke-width="2.8" stroke-linecap="round"/>
<path d="M1915.9,243.8 L1918.1,241.8 L1921.1,240.1 L1924.6,238.8 L1928.5,237.7 L1932.5,237.0 L1936.5,236.6 L1940.0,236.6 L1943.1,237.0 L1945.7,237.8 L1948.2,239.0 L1950.5,240.6 L1952.7,242.5 L1954.6,244.8 L1956.3,247.2 L1957.8,250.0 L1958.9,252.8 L1959.8,256.2 L1960.6,260.3 L1961.1,264.8 L1961.3,269.4 L1961.3,273.9 L1960.9,278.1 L1960.1,281.7 L1958.9,284.5 L1957.2,286.5 L1954.8,288.1 L1952.0,289.2 L1948.9,289.9 L1945.6,290.2 L1942.3,290.1 L1939.2,289.7 L1936.3,289.0 L1933.5,287.9 L1930.6,286.3 L1927.6,284.3 L1924.7,282.0 L1922.0,279.4 L1919.6,276.6 L1917.5,273.8 L1915.9,270.9 L1914.8,267.8 L1913.9,264.3 L1913.3,260.5 L1913.0,256.7 L1913.1,252.9 L1913.6,249.4 L1914.5,246.3 Z" fill="#c2c2c2"/>
<path d="M2020.0,243.8 L2017.8,241.8 L2014.8,240.1 L2011.3,238.8 L2007.4,237.7 L2003.4,237.0 L1999.5,236.6 L1995.9,236.6 L1992.8,237.0 L1990.2,237.8 L1987.7,239.0 L1985.4,240.6 L1983.2,242.5 L1981.3,244.8 L1979.6,247.2 L1978.2,250.0 L1977.0,252.8 L1976.1,256.2 L1975.4,260.3 L1974.9,264.8 L1974.6,269.4 L1974.7,273.9 L1975.1,278.1 L1975.8,281.7 L1977.0,284.5 L1978.8,286.5 L1981.1,288.1 L1983.9,289.2 L1987.0,289.9 L1990.3,290.2 L1993.6,290.1 L1996.8,289.7 L1999.6,289.0 L2002.4,287.9 L2005.4,286.3 L2008.3,284.3 L2011.2,282.0 L2013.9,279.4 L2016.4,276.6 L2018.4,273.8 L2020.0,270.9 L2021.1,267.8 L2022.1,264.3 L2022.7,260.5 L2023.0,256.7 L2022.9,252.9 L2022.4,249.4 L2021.4,246.3 Z" fill="#c2c2c2"/>
<path d="M1850.4,258.5 L1852.3,258.3 L1854.8,257.9 L1857.8,257.4 L1861.1,256.9 L1864.6,256.4 L1868.3,256.1 L1871.8,256.0 L1875.2,256.2 L1878.7,256.8 L1882.5,257.7 L1886.4,258.8 L1890.4,260.1 L1894.1,261.3 L1897.4,262.5 L1900.3,263.5" fill="none" stroke="#8a8a8a" stroke-width="8" stroke-linecap="round"/>
<path d="M1850.4,258.5 L1852.3,258.3 L1854.8,257.9 L1857.8,257.4 L1861.1,256.9 L1864.6,256.4 L1868.3,256.1 L1871.8,256.0 L1875.2,256.2 L1878.7,256.8 L1882.5,257.7 L1886.4,258.8 L1890.4,260.1 L1894.1,261.3 L1897.4,262.5 L1900.3,263.5" fill="none" stroke="#151515" stroke-width="3" stroke-linecap="round"/>
<path d="M2082.2,258.5 L2080.2,258.3 L2077.5,257.9 L2074.3,257.4 L2070.7,256.9 L2067.0,256.4 L2063.2,256.1 L2059.5,256.0 L2056.2,256.2 L2052.8,256.8 L2049.3,257.7 L2045.7,258.8 L2042.1,260.1 L2038.8,261.3 L2035.7,262.5 L2033.2,263.5" fill="none" stroke="#8a8a8a" stroke-width="8" stroke-linecap="round"/>
<path d="M2082.2,258.5 L2080.2,258.3 L2077.5,257.9 L2074.3,257.4 L2070.7,256.9 L2067.0,256.4 L2063.2,256.1 L2059.5,256.0 L2056.2,256.2 L2052.8,256.8 L2049.3,257.7 L2045.7,258.8 L2042.1,260.1 L2038.8,261.3 L2035.7,262.5 L2033.2,263.5" fill="none" stroke="#151515" stroke-width="3" stroke-linecap="round"/>
<path d="M1966.8,138.6 L1966.8,141.9 L1966.9,146.4 L1966.9,151.7 L1966.9,157.6 L1966.9,163.7 L1966.9,169.7 L1966.9,175.4 L1966.8,180.5 L1966.7,185.1 L1966.6,189.8 L1966.4,194.5 L1966.3,198.9 L1966.1,203.0 L1965.9,206.7 L1965.8,209.8" fill="none" stroke="#8a8a8a" stroke-width="8" stroke-linecap="round"/>
<path d="M1966.8,138.6 L1966.8,141.9 L1966.9,146.4 L1966.9,151.7 L1966.9,157.6 L1966.9,163.7 L1966.9,169.7 L1966.9,175.4 L1966.8,180.5 L1966.7,185.1 L1966.6,189.8 L1966.4,194.5 L1966.3,198.9 L1966.1,203.0 L1965.9,206.7 L1965.8,209.8" fill="none" stroke="#151515" stroke-width="3" stroke-linecap="round"/>
<path d="M1968.0,243.8 L1968.0,245.9 L1968.0,248.7 L1968.0,252.1 L1968.0,255.8 L1968.0,259.7 L1968.0,263.7 L1968.0,267.5 L1968.0,270.9 L1968.0,274.3 L1968.0,277.9 L1968.0,281.5 L1968.0,285.1 L1968.0,288.4 L1968.0,291.4 L1968.0,293.9" fill="none" stroke="#8a8a8a" stroke-width="8" stroke-linecap="round"/>
<path d="M1968.0,243.8 L1968.0,245.9 L1968.0,248.7 L1968.0,252.1 L1968.0,255.8 L1968.0,259.7 L1968.0,263.7 L1968.0,267.5 L1968.0,270.9 L1968.0,274.3 L1968.0,277.9 L1968.0,281.5 L1968.0,285.1 L1968.0,288.4 L1968.0,291.4 L1968.0,293.9" fill="none" stroke="#151515" stroke-width="3" stroke-linecap="round"/>
<path d="M1938.6,218.9 L1939.6,218.3 L1941.4,218.1 L1943.7,218.1 L1946.4,218.5 L1949.3,219.0 L1952.1,219.7 L1954.6,220.4 L1956.7,221.2 L1958.3,222.1 L1959.8,223.4 L1961.1,224.9 L1962.2,226.4 L1963.4,227.9 L1964.5,229.1 L1965.6,229.9 L1966.8,230.2 L1968.0,229.9 L1969.1,229.1 L1970.2,227.9 L1971.3,226.5 L1972.5,225.0 L1973.8,223.5 L1975.3,222.2 L1977.0,221.2 L1979.3,220.3 L1982.1,219.5 L1985.2,218.6 L1988.4,217.9 L1991.4,217.3 L1994.1,217.1 L1996.2,217.2 L1997.4,217.8 L1997.7,219.0 L1997.4,220.7 L1996.5,222.9 L1995.2,225.4 L1993.7,227.9 L1991.9,230.4 L1990.1,232.8 L1988.3,234.8 L1986.4,236.5 L1984.1,238.2 L1981.6,239.9 L1979.0,241.5 L1976.4,242.9 L1974.0,244.2 L1971.9,245.2 L1970.2,246.1 L1969.1,246.7 L1968.5,247.1 L1968.1,247.4 L1968.0,247.5 L1967.8,247.4 L1967.5,247.1 L1966.8,246.7 L1965.7,246.1 L1964.0,245.2 L1961.9,244.1 L1959.5,242.8 L1956.9,241.4 L1954.3,239.8 L1951.8,238.2 L1949.5,236.5 L1947.6,234.8 L1945.9,232.9 L1944.1,230.7 L1942.4,228.3 L1940.8,226.0 L1939.6,223.7 L1938.7,221.7 L1938.3,220.1 Z" fill="#080808"/>
<path d="M1911.4,289.0 L1913.2,287.2 L1915.8,285.7 L1919.1,284.6 L1922.7,283.8 L1926.5,283.4 L1930.2,283.4 L1933.5,283.7 L1936.3,284.5 L1938.7,285.9 L1941.1,288.0 L1943.4,290.6 L1945.5,293.6 L1947.3,296.6 L1948.7,299.7 L1949.6,302.5 L1949.9,304.9 L1949.5,307.0 L1948.5,309.1 L1947.1,311.1 L1945.2,313.1 L1943.1,314.8 L1940.8,316.3 L1938.5,317.5 L1936.3,318.4 L1934.0,319.1 L1931.3,319.6 L1928.5,319.8 L1925.6,319.8 L1922.7,319.5 L1920.1,318.9 L1917.8,317.8 L1915.9,316.2 L1914.4,313.8 L1913.0,310.6 L1911.8,306.8 L1910.9,302.7 L1910.3,298.6 L1910.1,294.8 L1910.5,291.5 Z" fill="#777"/>
<path d="M1992.8,293.6 L1994.6,292.4 L1997.3,291.6 L2000.6,291.2 L2004.3,291.2 L2008.1,291.4 L2011.8,291.9 L2015.1,292.6 L2017.7,293.6 L2019.9,294.8 L2022.0,296.5 L2024.0,298.5 L2025.6,300.8 L2027.0,303.1 L2028.1,305.4 L2028.8,307.5 L2029.0,309.4 L2028.8,311.1 L2028.0,312.9 L2026.8,314.7 L2025.4,316.3 L2023.6,317.8 L2021.7,319.1 L2019.7,320.1 L2017.7,320.7 L2015.5,321.0 L2012.9,321.1 L2010.1,321.0 L2007.1,320.6 L2004.2,319.9 L2001.6,318.9 L1999.2,317.7 L1997.4,316.2 L1995.8,314.1 L1994.4,311.3 L1993.2,308.0 L1992.3,304.6 L1991.7,301.2 L1991.5,298.0 L1991.9,295.4 Z" fill="#8a8a8a"/>
</g></g>
<circle cx="2009" cy="307" r="4.5" fill="#1a7fd0"/>
<circle cx="2001" cy="305" r="4" fill="#1a7fd0"/>
<circle cx="2015" cy="308" r="4.5" fill="#1a7fd0"/>
<circle cx="2010" cy="312" r="4" fill="#1a7fd0"/>
<circle cx="2018" cy="302" r="3.5" fill="#1a7fd0"/>
<circle cx="2008" cy="300" r="3.5" fill="#1a7fd0"/>
<circle cx="1997" cy="304" r="3.5" fill="#1a7fd0"/>
<rect x="1413" y="498" width="354" height="272.5" fill="#000"/>
<defs><clipPath id="cr3"><rect x="1413" y="498" width="354" height="272.5"/></clipPath></defs>
<g clip-path="url(#cr3)"><g filter="url(#bl2)">
<path d="M1413.0,660.1 L1413.3,656.8 L1413.7,652.4 L1414.1,647.1 L1414.6,641.3 L1415.2,635.2 L1416.0,629.2 L1416.9,623.4 L1418.0,618.3 L1419.2,613.7 L1420.6,609.3 L1422.1,605.0 L1423.7,600.8 L1425.5,596.7 L1427.5,592.6 L1429.6,588.6 L1431.9,584.5 L1434.3,580.4 L1436.9,576.2 L1439.7,572.1 L1442.6,568.0 L1445.6,563.9 L1448.8,560.0 L1452.2,556.3 L1455.7,552.7 L1459.5,549.3 L1463.4,546.0 L1467.4,542.8 L1471.7,539.7 L1476.0,536.8 L1480.4,534.0 L1485.0,531.4 L1489.6,528.8 L1494.2,526.4 L1498.8,524.1 L1503.6,522.0 L1508.4,519.9 L1513.4,518.0 L1518.5,516.2 L1523.8,514.5 L1529.3,512.9 L1535.1,511.4 L1541.1,510.0 L1547.2,508.7 L1553.6,507.5 L1560.0,506.4 L1566.4,505.5 L1572.8,504.6 L1579.1,503.9 L1585.3,503.4 L1591.5,503.0 L1597.7,502.7 L1603.9,502.5 L1610.1,502.5 L1616.3,502.5 L1622.6,502.7 L1628.8,503.0 L1635.1,503.3 L1641.4,503.7 L1647.9,504.2 L1654.3,504.8 L1660.6,505.5 L1666.8,506.4 L1672.8,507.6 L1678.5,508.9 L1684.0,510.5 L1689.5,512.3 L1694.8,514.3 L1699.9,516.5 L1704.8,518.9 L1709.5,521.4 L1714.0,524.0 L1718.3,526.8 L1722.2,529.8 L1725.9,532.9 L1729.3,536.2 L1732.6,539.6 L1735.6,543.2 L1738.6,546.9 L1741.4,550.7 L1744.1,554.7 L1746.8,558.7 L1749.4,562.9 L1751.9,567.2 L1754.3,571.6 L1756.5,576.1 L1758.6,580.8 L1760.4,585.6 L1762.0,590.5 L1763.4,595.4 L1764.5,600.5 L1765.3,605.6 L1766.0,610.9 L1766.6,616.3 L1767.1,622.0 L1767.5,627.9 L1768.0,634.2 L1768.4,640.8 L1768.8,647.6 L1769.1,654.6 L1769.4,661.8 L1769.6,669.4 L1769.7,677.2 L1769.9,685.4 L1770.0,693.9 L1770.1,703.4 L1770.1,714.2 L1770.1,725.8 L1770.1,737.4 L1770.1,748.6 L1770.0,758.7 L1770.0,767.2 L1770.0,777.4 L1413.0,777.4 Z" fill="#222"/>
<path d="M1413.0,660.1 L1413.3,656.8 L1413.7,652.4 L1414.1,647.1 L1414.6,641.3 L1415.2,635.2 L1416.0,629.2 L1416.9,623.4 L1418.0,618.3 L1419.2,613.7 L1420.6,609.3 L1422.1,605.0 L1423.7,600.8 L1425.5,596.7 L1427.5,592.6 L1429.6,588.6 L1431.9,584.5 L1434.3,580.4 L1436.9,576.2 L1439.7,572.1 L1442.6,568.0 L1445.6,563.9 L1448.8,560.0 L1452.2,556.3 L1455.7,552.7 L1459.5,549.3 L1463.4,546.0 L1467.4,542.8 L1471.7,539.7 L1476.0,536.8 L1480.4,534.0 L1485.0,531.4 L1489.6,528.8 L1494.2,526.4 L1498.8,524.1 L1503.6,522.0 L1508.4,519.9 L1513.4,518.0 L1518.5,516.2 L1523.8,514.5 L1529.3,512.9 L1535.1,511.4 L1541.1,510.0 L1547.2,508.7 L1553.6,507.5 L1560.0,506.4 L1566.4,505.5 L1572.8,504.6 L1579.1,503.9 L1585.3,503.4 L1591.5,503.0 L1597.7,502.7 L1603.9,502.5 L1610.1,502.5 L1616.3,502.5 L1622.6,502.7 L1628.8,503.0 L1635.1,503.3 L1641.4,503.7 L1647.9,504.2 L1654.3,504.8 L1660.6,505.5 L1666.8,506.4 L1672.8,507.6 L1678.5,508.9 L1684.0,510.5 L1689.5,512.3 L1694.8,514.3 L1699.9,516.5 L1704.8,518.9 L1709.5,521.4 L1714.0,524.0 L1718.3,526.8 L1722.2,529.8 L1725.9,532.9 L1729.3,536.2 L1732.6,539.6 L1735.6,543.2 L1738.6,546.9 L1741.4,550.7 L1744.1,554.7 L1746.8,558.7 L1749.4,562.9 L1751.9,567.2 L1754.3,571.6 L1756.5,576.1 L1758.6,580.8 L1760.4,585.6 L1762.0,590.5 L1763.4,595.4 L1764.5,600.5 L1765.3,605.6 L1766.0,610.9 L1766.6,616.3 L1767.1,622.0 L1767.5,627.9 L1768.0,634.2 L1768.4,640.8 L1768.8,647.6 L1769.1,654.6 L1769.4,661.8 L1769.6,669.4 L1769.7,677.2 L1769.9,685.4 L1770.0,693.9 L1770.1,703.4 L1770.1,714.2 L1770.1,725.8 L1770.1,737.4 L1770.1,748.6 L1770.0,758.7 L1770.0,767.2" fill="none" stroke="#8e8e8e" stroke-width="4.5"/>
<path d="M1433.9,658.1 L1434.3,655.0 L1434.7,650.8 L1435.2,645.7 L1435.9,640.2 L1436.6,634.4 L1437.5,628.6 L1438.6,623.2 L1439.8,618.3 L1441.3,613.9 L1442.9,609.7 L1444.7,605.5 L1446.7,601.5 L1448.8,597.6 L1451.0,593.8 L1453.3,590.1 L1455.7,586.5 L1458.3,583.0 L1460.9,579.6 L1463.7,576.3 L1466.6,573.1 L1469.6,569.9 L1472.8,566.8 L1476.1,563.7 L1479.6,560.6 L1483.3,557.5 L1487.1,554.3 L1491.0,551.2 L1495.1,548.1 L1499.4,545.0 L1503.9,542.1 L1508.6,539.4 L1513.4,536.8 L1518.5,534.3 L1523.9,532.0 L1529.5,529.8 L1535.3,527.7 L1541.2,525.7 L1547.2,523.9 L1553.2,522.3 L1559.2,520.9 L1565.2,519.6 L1571.3,518.5 L1577.5,517.5 L1583.8,516.7 L1590.1,516.0 L1596.4,515.5 L1602.6,515.1 L1608.9,514.9 L1615.2,514.8 L1621.5,514.8 L1628.0,514.9 L1634.4,515.2 L1640.7,515.6 L1646.9,516.2 L1652.9,517.0 L1658.6,517.9 L1664.1,518.9 L1669.5,520.1 L1674.7,521.5 L1679.7,523.0 L1684.6,524.7 L1689.4,526.6 L1694.0,528.6 L1698.4,530.8 L1702.7,533.2 L1706.8,535.8 L1710.7,538.5 L1714.5,541.4 L1718.2,544.5 L1721.7,547.7 L1725.0,551.1 L1728.2,554.7 L1731.3,558.4 L1734.2,562.2 L1736.9,566.3 L1739.5,570.5 L1742.0,574.8 L1744.2,579.2 L1746.3,583.8 L1748.1,588.5 L1749.7,593.3 L1751.1,598.3 L1752.2,603.5 L1753.2,608.7 L1754.0,614.1 L1754.8,619.5 L1755.4,624.9 L1756.1,630.2 L1756.6,635.2 L1757.0,639.7 L1757.4,644.1 L1757.6,648.5 L1757.8,653.4 L1757.9,659.1 L1758.0,665.8 L1758.1,674.0 L1758.1,684.4 L1758.0,697.3 L1757.9,711.6 L1757.7,726.5 L1757.5,741.0 L1757.3,754.3 L1757.2,765.4" fill="none" stroke="#6a6a6a" stroke-width="3"/>
<clipPath id="cb3"><path d="M1439.8,650.1 L1439.2,647.5 L1438.9,644.4 L1438.8,641.0 L1439.0,637.3 L1439.5,633.5 L1440.1,629.5 L1440.8,625.5 L1441.7,621.6 L1442.7,617.9 L1443.8,614.3 L1445.0,611.0 L1446.3,607.6 L1447.8,604.3 L1449.5,601.0 L1451.3,597.8 L1453.2,594.6 L1455.2,591.5 L1457.3,588.4 L1459.5,585.4 L1461.7,582.5 L1464.0,579.7 L1466.5,576.8 L1469.0,574.1 L1471.6,571.4 L1474.3,568.8 L1477.1,566.2 L1480.0,563.7 L1483.1,561.3 L1486.2,558.9 L1489.6,556.7 L1493.0,554.4 L1496.6,552.3 L1500.3,550.2 L1504.1,548.1 L1508.1,546.2 L1512.1,544.3 L1516.3,542.5 L1520.5,540.8 L1524.9,539.2 L1529.3,537.8 L1533.9,536.4 L1538.6,535.2 L1543.5,534.1 L1548.5,533.1 L1553.6,532.2 L1558.7,531.3 L1563.8,530.6 L1568.9,529.9 L1574.0,529.3 L1579.1,528.8 L1584.0,528.3 L1589.0,528.0 L1594.0,527.6 L1598.9,527.4 L1603.9,527.3 L1608.9,527.2 L1613.9,527.2 L1618.8,527.3 L1623.8,527.5 L1628.8,527.8 L1633.8,528.2 L1638.9,528.6 L1644.0,529.2 L1649.1,529.8 L1654.3,530.5 L1659.3,531.3 L1664.3,532.2 L1669.2,533.3 L1673.9,534.5 L1678.5,535.8 L1682.9,537.2 L1687.3,538.8 L1691.6,540.5 L1695.8,542.2 L1699.9,544.2 L1703.9,546.2 L1707.8,548.4 L1711.4,550.7 L1714.9,553.1 L1718.3,555.7 L1721.4,558.4 L1724.5,561.2 L1727.4,564.1 L1730.1,567.2 L1732.7,570.5 L1735.1,573.8 L1737.4,577.3 L1739.5,580.9 L1741.4,584.6 L1743.1,588.5 L1744.7,592.5 L1745.9,596.7 L1747.0,601.1 L1747.9,605.7 L1748.7,610.3 L1749.3,615.0 L1749.8,619.8 L1750.3,624.6 L1750.7,629.4 L1751.1,634.2 L1751.4,639.1 L1751.6,644.1 L1751.8,649.2 L1751.8,654.3 L1751.8,659.5 L1751.7,664.6 L1751.6,669.6 L1751.4,674.6 L1751.2,679.4 L1751.1,683.9 L1750.9,688.4 L1750.8,692.7 L1750.6,696.9 L1750.4,701.0 L1750.2,705.1 L1749.9,709.0 L1749.6,712.8 L1749.2,716.6 L1748.7,720.2 L1748.1,723.7 L1747.5,727.2 L1746.9,730.6 L1746.3,734.0 L1745.6,737.2 L1744.8,740.4 L1743.9,743.4 L1742.8,746.2 L1741.5,748.9 L1740.0,751.3 L1738.2,753.6 L1736.0,755.5 L1733.6,757.3 L1731.0,758.9 L1728.1,760.4 L1725.1,761.6 L1721.9,762.7 L1718.6,763.6 L1715.3,764.4 L1711.8,765.0 L1708.3,765.5 L1704.8,765.8 L1701.0,765.9 L1697.1,765.9 L1693.1,765.7 L1689.1,765.4 L1684.9,764.9 L1680.8,764.2 L1676.7,763.4 L1672.6,762.5 L1668.6,761.5 L1664.5,760.4 L1660.4,759.2 L1656.3,757.9 L1652.2,756.4 L1648.0,754.8 L1644.0,753.0 L1640.0,751.0 L1636.1,748.8 L1632.3,746.3 L1628.8,743.6 L1625.4,740.4 L1622.2,736.6 L1619.1,732.5 L1616.1,728.0 L1613.2,723.5 L1610.4,718.9 L1607.6,714.6 L1604.7,710.5 L1601.9,706.9 L1598.9,703.8 L1596.0,701.4 L1593.1,699.3 L1590.3,697.6 L1587.5,696.2 L1584.6,695.0 L1581.8,693.9 L1578.8,693.0 L1575.7,692.0 L1572.5,691.0 L1569.1,689.9 L1565.5,688.8 L1561.8,687.7 L1557.9,686.6 L1553.9,685.6 L1549.8,684.7 L1545.7,683.8 L1541.6,682.8 L1537.4,681.9 L1533.4,680.9 L1529.3,680.0 L1525.3,679.0 L1521.2,677.9 L1517.1,676.9 L1512.9,675.9 L1508.8,674.9 L1504.7,673.9 L1500.8,672.9 L1496.9,671.9 L1493.1,670.9 L1489.6,670.0 L1486.1,669.2 L1482.8,668.4 L1479.6,667.6 L1476.4,666.9 L1473.4,666.2 L1470.5,665.4 L1467.6,664.7 L1464.9,663.9 L1462.3,663.0 L1459.7,662.1 L1457.2,661.1 L1454.7,660.3 L1452.3,659.5 L1449.9,658.7 L1447.7,657.8 L1445.6,656.8 L1443.7,655.6 L1442.1,654.1 L1440.8,652.3 Z"/></clipPath>
<path d="M1439.8,650.1 L1439.2,647.5 L1438.9,644.4 L1438.8,641.0 L1439.0,637.3 L1439.5,633.5 L1440.1,629.5 L1440.8,625.5 L1441.7,621.6 L1442.7,617.9 L1443.8,614.3 L1445.0,611.0 L1446.3,607.6 L1447.8,604.3 L1449.5,601.0 L1451.3,597.8 L1453.2,594.6 L1455.2,591.5 L1457.3,588.4 L1459.5,585.4 L1461.7,582.5 L1464.0,579.7 L1466.5,576.8 L1469.0,574.1 L1471.6,571.4 L1474.3,568.8 L1477.1,566.2 L1480.0,563.7 L1483.1,561.3 L1486.2,558.9 L1489.6,556.7 L1493.0,554.4 L1496.6,552.3 L1500.3,550.2 L1504.1,548.1 L1508.1,546.2 L1512.1,544.3 L1516.3,542.5 L1520.5,540.8 L1524.9,539.2 L1529.3,537.8 L1533.9,536.4 L1538.6,535.2 L1543.5,534.1 L1548.5,533.1 L1553.6,532.2 L1558.7,531.3 L1563.8,530.6 L1568.9,529.9 L1574.0,529.3 L1579.1,528.8 L1584.0,528.3 L1589.0,528.0 L1594.0,527.6 L1598.9,527.4 L1603.9,527.3 L1608.9,527.2 L1613.9,527.2 L1618.8,527.3 L1623.8,527.5 L1628.8,527.8 L1633.8,528.2 L1638.9,528.6 L1644.0,529.2 L1649.1,529.8 L1654.3,530.5 L1659.3,531.3 L1664.3,532.2 L1669.2,533.3 L1673.9,534.5 L1678.5,535.8 L1682.9,537.2 L1687.3,538.8 L1691.6,540.5 L1695.8,542.2 L1699.9,544.2 L1703.9,546.2 L1707.8,548.4 L1711.4,550.7 L1714.9,553.1 L1718.3,555.7 L1721.4,558.4 L1724.5,561.2 L1727.4,564.1 L1730.1,567.2 L1732.7,570.5 L1735.1,573.8 L1737.4,577.3 L1739.5,580.9 L1741.4,584.6 L1743.1,588.5 L1744.7,592.5 L1745.9,596.7 L1747.0,601.1 L1747.9,605.7 L1748.7,610.3 L1749.3,615.0 L1749.8,619.8 L1750.3,624.6 L1750.7,629.4 L1751.1,634.2 L1751.4,639.1 L1751.6,644.1 L1751.8,649.2 L1751.8,654.3 L1751.8,659.5 L1751.7,664.6 L1751.6,669.6 L1751.4,674.6 L1751.2,679.4 L1751.1,683.9 L1750.9,688.4 L1750.8,692.7 L1750.6,696.9 L1750.4,701.0 L1750.2,705.1 L1749.9,709.0 L1749.6,712.8 L1749.2,716.6 L1748.7,720.2 L1748.1,723.7 L1747.5,727.2 L1746.9,730.6 L1746.3,734.0 L1745.6,737.2 L1744.8,740.4 L1743.9,743.4 L1742.8,746.2 L1741.5,748.9 L1740.0,751.3 L1738.2,753.6 L1736.0,755.5 L1733.6,757.3 L1731.0,758.9 L1728.1,760.4 L1725.1,761.6 L1721.9,762.7 L1718.6,763.6 L1715.3,764.4 L1711.8,765.0 L1708.3,765.5 L1704.8,765.8 L1701.0,765.9 L1697.1,765.9 L1693.1,765.7 L1689.1,765.4 L1684.9,764.9 L1680.8,764.2 L1676.7,763.4 L1672.6,762.5 L1668.6,761.5 L1664.5,760.4 L1660.4,759.2 L1656.3,757.9 L1652.2,756.4 L1648.0,754.8 L1644.0,753.0 L1640.0,751.0 L1636.1,748.8 L1632.3,746.3 L1628.8,743.6 L1625.4,740.4 L1622.2,736.6 L1619.1,732.5 L1616.1,728.0 L1613.2,723.5 L1610.4,718.9 L1607.6,714.6 L1604.7,710.5 L1601.9,706.9 L1598.9,703.8 L1596.0,701.4 L1593.1,699.3 L1590.3,697.6 L1587.5,696.2 L1584.6,695.0 L1581.8,693.9 L1578.8,693.0 L1575.7,692.0 L1572.5,691.0 L1569.1,689.9 L1565.5,688.8 L1561.8,687.7 L1557.9,686.6 L1553.9,685.6 L1549.8,684.7 L1545.7,683.8 L1541.6,682.8 L1537.4,681.9 L1533.4,680.9 L1529.3,680.0 L1525.3,679.0 L1521.2,677.9 L1517.1,676.9 L1512.9,675.9 L1508.8,674.9 L1504.7,673.9 L1500.8,672.9 L1496.9,671.9 L1493.1,670.9 L1489.6,670.0 L1486.1,669.2 L1482.8,668.4 L1479.6,667.6 L1476.4,666.9 L1473.4,666.2 L1470.5,665.4 L1467.6,664.7 L1464.9,663.9 L1462.3,663.0 L1459.7,662.1 L1457.2,661.1 L1454.7,660.3 L1452.3,659.5 L1449.9,658.7 L1447.7,657.8 L1445.6,656.8 L1443.7,655.6 L1442.1,654.1 L1440.8,652.3 Z" fill="#636363"/>
<g clip-path="url(#cb3)">
<path d="M1441.2,649.5 L1446.2,646.5 L1452.9,643.4 L1460.1,641.0" fill="none" stroke="#303030" stroke-width="7.5" stroke-linecap="round"/>
<path d="M1441.8,628.6 L1451.7,628.8 L1463.1,629.3 L1474.6,631.2" fill="none" stroke="#303030" stroke-width="7.5" stroke-linecap="round"/>
<path d="M1447.9,607.9 L1454.2,611.3 L1462.5,613.8 L1471.2,616.0" fill="none" stroke="#303030" stroke-width="7.5" stroke-linecap="round"/>
<path d="M1458.7,589.1 L1466.7,595.4 L1476.9,601.0 L1487.7,606.6" fill="none" stroke="#303030" stroke-width="7.5" stroke-linecap="round"/>
<path d="M1472.6,572.5 L1479.0,578.7 L1486.6,585.9 L1494.2,593.5" fill="none" stroke="#303030" stroke-width="7.5" stroke-linecap="round"/>
<path d="M1489.3,558.6 L1497.3,567.3 L1506.4,577.0 L1514.1,588.2" fill="none" stroke="#303030" stroke-width="7.5" stroke-linecap="round"/>
<path d="M1508.2,547.8 L1513.5,557.8 L1520.1,568.8 L1526.4,580.5" fill="none" stroke="#303030" stroke-width="7.5" stroke-linecap="round"/>
<path d="M1528.4,539.6 L1531.1,546.9 L1532.8,556.0 L1534.3,565.5" fill="none" stroke="#303030" stroke-width="7.5" stroke-linecap="round"/>
<path d="M1549.6,534.4 L1551.6,541.2 L1553.1,549.5 L1553.9,558.3" fill="none" stroke="#303030" stroke-width="7.5" stroke-linecap="round"/>
<path d="M1571.2,531.2 L1570.9,540.3 L1571.1,550.9 L1572.9,561.5" fill="none" stroke="#303030" stroke-width="7.5" stroke-linecap="round"/>
<path d="M1593.0,529.2 L1594.3,537.0 L1593.9,546.4 L1592.8,556.2" fill="none" stroke="#303030" stroke-width="7.5" stroke-linecap="round"/>
<path d="M1614.9,528.7 L1616.6,540.4 L1615.4,553.5 L1612.6,567.0" fill="none" stroke="#303030" stroke-width="7.5" stroke-linecap="round"/>
<path d="M1636.8,530.0 L1635.2,540.8 L1635.1,553.2 L1635.4,566.1" fill="none" stroke="#303030" stroke-width="7.5" stroke-linecap="round"/>
<path d="M1658.4,532.7 L1655.8,542.9 L1654.7,554.9 L1654.2,567.3" fill="none" stroke="#303030" stroke-width="7.5" stroke-linecap="round"/>
<path d="M1679.6,537.7 L1677.6,547.1 L1675.7,558.1 L1672.6,569.1" fill="none" stroke="#303030" stroke-width="7.5" stroke-linecap="round"/>
<path d="M1699.8,545.8 L1696.7,552.9 L1692.7,561.3 L1688.2,569.6" fill="none" stroke="#303030" stroke-width="7.5" stroke-linecap="round"/>
<path d="M1718.0,557.4 L1711.0,564.1 L1702.8,571.7 L1695.4,580.4" fill="none" stroke="#303030" stroke-width="7.5" stroke-linecap="round"/>
<path d="M1732.8,573.1 L1722.3,578.3 L1711.0,585.0 L1700.6,593.6" fill="none" stroke="#303030" stroke-width="7.5" stroke-linecap="round"/>
<path d="M1742.9,592.1 L1736.1,595.6 L1727.5,598.4 L1718.3,600.6" fill="none" stroke="#303030" stroke-width="7.5" stroke-linecap="round"/>
<path d="M1747.6,613.3 L1738.6,614.2 L1728.4,617.1 L1718.0,620.3" fill="none" stroke="#303030" stroke-width="7.5" stroke-linecap="round"/>
<path d="M1496.6,670.3 L1499.3,663.8 L1501.5,655.7 L1502.8,647.1" fill="none" stroke="#303030" stroke-width="7.5" stroke-linecap="round"/>
<path d="M1475.2,665.1 L1476.5,655.2 L1479.2,644.1 L1483.4,633.1" fill="none" stroke="#303030" stroke-width="7.5" stroke-linecap="round"/>
<path d="M1454.5,658.7 L1459.7,648.8 L1466.8,638.1 L1473.2,626.7" fill="none" stroke="#303030" stroke-width="7.5" stroke-linecap="round"/>
<path d="M1439.8,650.1 L1439.1,646.8 L1438.8,642.8 L1439.0,638.3 L1439.5,633.5 L1440.3,628.5 L1441.3,623.6 L1442.5,618.8 L1443.8,614.3 L1445.3,610.1 L1447.1,606.0 L1449.1,601.8 L1451.3,597.8 L1453.7,593.8 L1456.2,590.0 L1458.9,586.2 L1461.7,582.5 L1464.6,578.9 L1467.7,575.5 L1470.9,572.1 L1474.3,568.8 L1477.8,565.6 L1481.5,562.5 L1485.4,559.5 L1489.6,556.7 L1493.9,553.9 L1498.4,551.2 L1503.2,548.6 L1508.1,546.2 L1513.2,543.8 L1518.4,541.6 L1523.8,539.6 L1529.3,537.8 L1535.1,536.1 L1541.1,534.6 L1547.2,533.3 L1553.6,532.2 L1560.0,531.1 L1566.4,530.3 L1572.8,529.5 L1579.1,528.8 L1585.3,528.2 L1591.5,527.8 L1597.7,527.5 L1603.9,527.3 L1610.1,527.2 L1616.3,527.2 L1622.6,527.5 L1628.8,527.8 L1635.1,528.3 L1641.4,528.9 L1647.9,529.6 L1654.3,530.5 L1660.6,531.5 L1666.8,532.7 L1672.8,534.1 L1678.5,535.8 L1684.0,537.6 L1689.5,539.6 L1694.8,541.8 L1699.9,544.2 L1704.9,546.7 L1709.6,549.5 L1714.1,552.5 L1718.3,555.7 L1722.2,559.1 L1725.9,562.7 L1729.4,566.5 L1732.7,570.5 L1735.7,574.7 L1738.5,579.1 L1740.9,583.7 L1743.1,588.5 L1745.0,593.5 L1746.5,598.9 L1747.7,604.5 L1748.7,610.3 L1749.4,616.2 L1750.1,622.2 L1750.6,628.2 L1751.1,634.2 L1751.5,640.3 L1751.7,646.6 L1751.8,653.0 L1751.8,659.5 L1751.7,665.8 L1751.5,672.1 L1751.3,678.2 L1751.1,683.9 L1750.9,689.5 L1750.7,694.8 L1750.5,700.0 L1750.2,705.1 L1749.9,710.0 L1749.4,714.7 L1748.8,719.3 L1748.1,723.7 L1747.3,728.0 L1746.6,732.3 L1745.8,736.4 L1744.8,740.4 L1743.7,744.1 L1742.2,747.6 L1740.4,750.7 L1738.2,753.6 L1735.5,756.0 L1732.3,758.2 L1728.9,760.0 L1725.1,761.6 L1721.1,763.0 L1717.0,764.0 L1712.7,764.9 L1708.3,765.5 L1703.8,765.8 L1699.1,765.9 L1694.1,765.8 L1689.1,765.4 L1683.9,764.7 L1678.7,763.9 L1673.6,762.8 L1668.6,761.5 L1663.5,760.1 L1658.4,758.5 L1653.2,756.8 L1648.0,754.8 L1643.0,752.5 L1638.0,749.9 L1633.3,747.0 L1628.8,743.6 L1624.6,739.5 L1620.6,734.6 L1616.9,729.2 L1613.2,723.5 L1609.7,717.8 L1606.2,712.5 L1602.6,707.7 L1598.9,703.8 L1595.3,700.8 L1591.7,698.4 L1588.2,696.5 L1584.6,695.0 L1581.0,693.7 L1577.3,692.5 L1573.3,691.3 L1569.1,689.9 L1564.6,688.5 L1559.9,687.1 L1554.9,685.9 L1549.8,684.7 L1544.7,683.5 L1539.5,682.4 L1534.4,681.2 L1529.3,680.0 L1524.3,678.7 L1519.2,677.4 L1514.0,676.1 L1508.8,674.9 L1503.7,673.6 L1498.8,672.4 L1494.1,671.2 L1489.6,670.0 L1485.3,669.0 L1481.2,668.0 L1477.2,667.1 L1473.4,666.2 L1469.7,665.3 L1466.2,664.3 L1462.9,663.2 L1459.7,662.1 L1456.6,660.9 L1453.5,659.9 L1450.5,658.9 L1447.7,657.8 L1445.1,656.5 L1442.9,654.9 L1441.1,652.8 Z" fill="none" stroke="#3a3a3a" stroke-width="5"/>
<path d="M1493.5,634.2 L1494.9,631.3 L1496.5,627.4 L1498.4,622.7 L1500.6,617.6 L1503.2,612.3 L1506.2,607.1 L1509.6,602.4 L1513.4,598.4 L1517.9,595.1 L1522.9,592.0 L1528.5,589.1 L1534.4,586.5 L1540.6,584.1 L1546.8,582.0 L1553.1,580.1 L1559.2,578.5 L1565.2,577.2 L1571.3,576.1 L1577.5,575.4 L1583.8,574.8 L1590.1,574.5 L1596.4,574.3 L1602.6,574.4 L1608.9,574.6 L1615.2,574.9 L1621.5,575.3 L1628.0,576.0 L1634.4,576.8 L1640.7,577.8 L1646.9,579.1 L1652.9,580.7 L1658.6,582.5 L1664.2,584.6 L1669.9,587.0 L1675.4,589.7 L1680.7,592.6 L1685.8,595.7 L1690.5,599.1 L1694.7,602.6 L1698.4,606.4 L1701.5,610.7 L1704.0,615.7 L1706.1,621.2 L1707.8,626.8 L1709.2,632.1 L1710.4,637.0 L1711.4,641.2" fill="none" stroke="#6a6a6a" stroke-width="16"/>
<path d="M1529.3,624.3 L1531.4,622.1 L1534.2,619.8 L1537.6,617.3 L1541.5,614.8 L1545.8,612.4 L1550.2,610.1 L1554.7,608.1 L1559.2,606.4 L1563.7,605.0 L1568.6,603.8 L1573.8,602.8 L1579.1,602.0 L1584.3,601.4 L1589.5,600.9 L1594.4,600.6 L1598.9,600.4 L1603.3,600.3 L1607.6,600.2 L1611.7,600.2 L1615.7,600.4 L1619.5,600.9 L1622.9,601.6 L1626.1,602.8 L1628.8,604.4 L1631.1,606.6 L1633.1,609.4 L1634.8,612.6 L1636.2,616.1 L1637.3,619.7 L1638.1,623.4 L1638.6,627.0 L1638.7,630.2 L1638.6,633.4 L1638.3,636.8 L1637.8,640.1 L1636.9,643.4 L1635.6,646.6 L1633.8,649.4 L1631.6,652.0 L1628.8,654.1 L1625.2,655.8 L1620.9,657.1 L1616.0,658.2 L1610.8,659.0 L1605.2,659.5 L1599.6,659.8 L1594.2,660.0 L1589.0,660.1 L1583.9,660.0 L1578.5,659.7 L1573.0,659.1 L1567.6,658.5 L1562.4,657.6 L1557.5,656.6 L1553.1,655.4 L1549.2,654.1 L1546.0,652.6 L1543.3,650.8 L1541.0,648.8 L1539.0,646.7 L1537.4,644.5 L1535.9,642.3 L1534.6,640.2 L1533.3,638.2 L1532.0,636.4 L1530.7,634.7 L1529.5,633.0 L1528.5,631.4 L1527.8,629.7 L1527.7,628.0 L1528.1,626.2 Z" fill="#727272"/>
<path d="M1620.8,608.4 L1622.1,607.6 L1623.9,607.0 L1626.2,606.4 L1628.7,606.0 L1631.3,605.8 L1633.9,605.7 L1636.4,605.9 L1638.7,606.4 L1640.9,607.1 L1643.3,608.2 L1645.6,609.5 L1647.9,611.0 L1650.1,612.6 L1652.0,614.4 L1653.5,616.3 L1654.6,618.3 L1655.3,620.5 L1655.5,623.0 L1655.5,625.8 L1655.1,628.6 L1654.6,631.4 L1654.0,634.0 L1653.3,636.3 L1652.6,638.2 L1652.0,639.8 L1651.2,641.3 L1650.3,642.6 L1649.3,643.7 L1648.2,644.4 L1647.1,644.8 L1645.9,644.8 L1644.7,644.2 L1643.4,642.8 L1641.9,640.7 L1640.4,638.0 L1638.8,635.0 L1637.3,631.9 L1635.7,628.9 L1634.2,626.3 L1632.8,624.3 L1631.4,622.9 L1629.9,621.9 L1628.5,621.2 L1627.2,620.7 L1625.9,620.2 L1624.7,619.8 L1623.7,619.2 L1622.8,618.3 L1622.0,617.2 L1621.3,615.9 L1620.6,614.5 L1620.1,613.1 L1619.8,611.7 L1619.7,610.4 L1620.1,609.3 Z" fill="#0c0c0c"/>
<path d="M1489.6,606.4 L1490.3,605.3 L1491.4,604.6 L1492.8,604.1 L1494.3,604.0 L1495.8,604.2 L1497.3,604.7 L1498.6,605.4 L1499.5,606.4 L1500.2,607.9 L1500.8,610.0 L1501.4,612.5 L1501.7,615.2 L1502.0,617.9 L1502.0,620.5 L1501.9,622.7 L1501.5,624.3 L1500.8,625.4 L1499.7,626.4 L1498.3,627.1 L1496.8,627.6 L1495.2,627.8 L1493.7,627.7 L1492.5,627.2 L1491.5,626.3 L1490.8,624.7 L1490.2,622.4 L1489.7,619.5 L1489.3,616.4 L1489.1,613.3 L1489.0,610.5 L1489.2,608.1 Z" fill="#333"/>
<path d="M1614.9,693.9 L1617.4,691.5 L1621.0,690.0 L1625.3,689.0 L1630.0,688.6 L1635.0,688.5 L1639.9,688.6 L1644.6,688.8 L1648.7,688.9 L1652.5,688.8 L1656.3,688.4 L1660.1,688.1 L1663.7,688.0 L1667.1,688.3 L1670.1,689.3 L1672.6,691.1 L1674.5,693.9 L1675.9,698.2 L1676.7,703.9 L1677.1,710.7 L1677.1,718.0 L1676.8,725.4 L1676.2,732.4 L1675.5,738.7 L1674.5,743.6 L1673.4,747.5 L1671.9,750.7 L1670.2,753.4 L1668.2,755.6 L1666.0,757.4 L1663.7,758.7 L1661.2,759.8 L1658.6,760.5 L1655.8,760.9 L1652.6,760.8 L1649.2,760.2 L1645.7,759.3 L1642.2,758.2 L1638.8,756.8 L1635.6,755.2 L1632.8,753.6 L1630.2,751.8 L1627.7,750.0 L1625.4,747.9 L1623.3,745.7 L1621.4,743.1 L1619.6,740.3 L1618.1,737.2 L1616.8,733.7 L1615.7,729.4 L1614.5,724.3 L1613.5,718.7 L1612.7,712.8 L1612.4,707.1 L1612.5,701.8 L1613.3,697.3 Z" fill="#666"/>
<path d="M1674.5,691.9 L1677.3,689.9 L1681.0,688.5 L1685.2,687.5 L1689.8,687.0 L1694.6,686.7 L1699.5,686.7 L1704.1,686.8 L1708.3,686.9 L1712.4,687.1 L1716.4,687.5 L1720.5,688.1 L1724.5,688.9 L1728.3,689.8 L1731.9,691.0 L1735.2,692.3 L1738.2,693.9 L1740.8,695.7 L1743.2,697.7 L1745.3,700.0 L1747.2,702.4 L1748.9,705.0 L1750.2,707.8 L1751.3,710.7 L1752.1,713.8 L1752.6,717.1 L1752.7,720.9 L1752.6,724.8 L1752.2,728.9 L1751.6,733.0 L1750.6,736.9 L1749.5,740.5 L1748.1,743.6 L1746.4,746.4 L1744.5,748.9 L1742.3,751.2 L1739.8,753.2 L1737.1,755.1 L1734.3,756.8 L1731.3,758.2 L1728.2,759.5 L1724.9,760.6 L1721.3,761.5 L1717.4,762.3 L1713.4,762.8 L1709.4,763.1 L1705.5,763.2 L1701.8,763.0 L1698.4,762.5 L1695.2,761.7 L1692.0,760.7 L1688.9,759.4 L1686.0,757.8 L1683.2,756.1 L1680.7,754.1 L1678.4,751.9 L1676.5,749.6 L1674.9,747.0 L1673.7,744.2 L1672.7,741.1 L1671.9,737.8 L1671.4,734.4 L1671.0,730.9 L1670.7,727.3 L1670.5,723.7 L1670.4,719.8 L1670.1,715.6 L1670.0,711.0 L1670.0,706.5 L1670.4,702.1 L1671.2,698.1 L1672.5,694.6 Z" fill="#1c1c1c"/>
</g>
<path d="M1414.0,660.1 L1415.9,654.4 L1418.5,651.3 L1421.6,650.4 L1425.0,651.0 L1428.7,652.6 L1432.5,654.7 L1436.2,656.7 L1439.8,658.1 L1443.2,659.2 L1446.5,660.9 L1449.8,662.9 L1453.1,665.2 L1456.7,667.5 L1460.6,669.9 L1464.9,672.1 L1469.7,674.0 L1475.2,675.7 L1481.6,677.4 L1488.5,678.9 L1495.6,680.5 L1502.8,681.9 L1509.6,683.3 L1515.9,684.7 L1521.4,685.9 L1526.4,686.6 L1531.3,686.5 L1536.0,686.1 L1540.3,685.7 L1543.9,685.8 L1546.7,687.0 L1548.6,689.5 L1549.2,693.9 L1548.9,700.9 L1548.0,710.6 L1546.4,722.0 L1543.8,734.2 L1540.1,746.3 L1535.2,757.5 L1529.0,766.8 L1521.4,773.4 L1511.0,778.0 L1497.6,781.7 L1482.2,784.2 L1465.9,785.5 L1449.9,785.2 L1435.1,783.3 L1422.8,779.4 L1414.0,773.4 L1408.7,763.9 L1405.8,750.5 L1405.0,734.3 L1405.6,716.9 L1407.4,699.4 L1409.6,683.2 L1412.0,669.7 Z" fill="#2e2e2e"/>
<path d="M1469.7,693.9 L1473.7,692.3 L1478.9,691.1 L1485.0,690.4 L1491.5,690.2 L1498.1,690.4 L1504.2,691.1 L1509.4,692.3 L1513.4,693.9 L1516.2,696.1 L1518.2,698.8 L1519.6,702.0 L1520.4,705.7 L1520.8,709.8 L1521.1,714.2 L1521.2,718.8 L1521.4,723.7 L1521.8,729.3 L1522.3,735.9 L1522.9,743.1 L1523.1,750.4 L1522.9,757.6 L1522.0,764.0 L1520.3,769.5 L1517.4,773.4 L1512.9,776.2 L1506.7,778.1 L1499.4,779.3 L1491.5,779.7 L1483.7,779.3 L1476.4,778.1 L1470.2,776.2 L1465.7,773.4 L1462.8,769.5 L1461.1,764.0 L1460.2,757.6 L1460.0,750.4 L1460.2,743.1 L1460.7,735.9 L1461.3,729.3 L1461.7,723.7 L1461.9,718.8 L1462.0,714.2 L1462.2,709.8 L1462.7,705.7 L1463.5,702.0 L1464.9,698.8 L1466.9,696.1 Z" fill="#050505"/>
<path d="M1414.0,674.0 L1415.6,668.7 L1417.7,665.6 L1420.3,664.3 L1423.2,664.3 L1426.1,665.3 L1429.0,666.8 L1431.6,668.5 L1433.9,670.0 L1435.8,671.3 L1437.8,672.7 L1439.6,674.5 L1441.3,676.7 L1442.8,679.6 L1444.1,683.4 L1445.1,688.0 L1445.8,693.9 L1446.2,701.7 L1446.5,711.7 L1446.5,723.1 L1446.3,735.2 L1445.8,747.0 L1444.9,757.8 L1443.6,766.9 L1441.8,773.4 L1439.3,777.9 L1435.9,781.4 L1431.9,783.6 L1427.7,784.6 L1423.4,784.2 L1419.5,782.3 L1416.3,778.7 L1414.0,773.4 L1412.5,765.1 L1411.6,753.3 L1411.1,739.2 L1411.0,724.0 L1411.3,708.7 L1411.9,694.5 L1412.8,682.5 Z" fill="#111"/>
<path d="M1421.9,654.1 L1423.5,654.9 L1425.7,655.9 L1428.3,657.0 L1431.1,658.3 L1434.1,659.9 L1436.9,661.7 L1439.6,663.7 L1441.8,666.0 L1443.8,668.7 L1445.8,671.6 L1447.7,674.8 L1449.4,678.2 L1450.9,681.9 L1452.2,685.7 L1453.2,689.7 L1453.8,693.9 L1453.8,698.6 L1453.4,703.9 L1452.6,709.7 L1451.5,715.5 L1450.4,721.1 L1449.3,726.2 L1448.4,730.5" fill="none" stroke="#777" stroke-width="4"/>
<path d="M1529.3,697.9 L1532.4,694.7 L1536.5,693.4 L1541.3,693.7 L1546.7,695.0 L1552.4,697.1 L1558.2,699.5 L1563.9,701.9 L1569.1,703.8 L1574.3,705.5 L1579.8,707.2 L1585.3,709.0 L1590.9,711.2 L1596.2,713.6 L1601.0,716.5 L1605.3,719.8 L1608.9,723.7 L1612.2,728.7 L1615.8,734.8 L1619.2,741.7 L1621.9,748.8 L1623.7,755.8 L1624.0,762.2 L1622.5,767.6 L1618.8,771.5 L1611.8,774.2 L1601.4,776.5 L1588.6,778.2 L1574.7,779.0 L1560.7,778.9 L1547.7,777.7 L1536.9,775.3 L1529.3,771.5 L1524.8,765.2 L1522.1,756.4 L1521.0,745.8 L1521.3,734.3 L1522.5,722.9 L1524.4,712.4 L1526.8,703.8 Z" fill="#3a3a3a"/>
</g></g>
<ellipse cx="1513" cy="600" rx="2.5" ry="6.5" fill="#e8c030"/>
<ellipse cx="1496" cy="650" rx="2.2" ry="7" fill="#e04030"/>
<ellipse cx="1571" cy="688" rx="2.5" ry="5" fill="#40b8e0"/>
<ellipse cx="1603" cy="683" rx="3" ry="5" fill="#5050c0"/>
<ellipse cx="1636" cy="668" rx="3.5" ry="5" fill="#c050d0"/>
<ellipse cx="1672" cy="658.5" rx="4.5" ry="5.5" fill="#d8c840"/>
<text x="1504" y="627.7" font-size="16.6" style="fill:#fff">RAC</text>
<text x="1482.5" y="683" font-size="16.6" style="fill:#fff">ROF</text>
<text x="1560.6" y="713.7" font-size="16.6" style="fill:#fff">RA</text>
<text x="1590.7" y="708.7" font-size="16.6" style="fill:#fff">RH</text>
<text x="1616.8" y="694" font-size="16.6" style="fill:#fff">RPOST</text>
<text x="1676.7" y="683" font-size="16.6" style="fill:#fff">RTO</text>
<rect x="1838" y="479" width="329" height="295" fill="#000"/>
<text x="1841" y="487" font-size="10" style="fill:#fff">40</text>
<text x="1957" y="487" font-size="10" style="fill:#fff">50</text>
<text x="2073" y="487" font-size="10" style="fill:#fff">60</text>
<g filter="url(#bl2)">
<clipPath id="cb4"><path d="M1842.4,650.9 L1842.2,648.4 L1842.1,645.8 L1842.0,643.1 L1842.0,640.4 L1842.1,637.7 L1842.2,634.9 L1842.4,632.1 L1842.7,629.3 L1843.1,626.5 L1843.6,623.8 L1844.1,621.1 L1844.8,618.3 L1845.5,615.6 L1846.3,612.8 L1847.2,610.1 L1848.1,607.4 L1849.2,604.6 L1850.2,601.9 L1851.4,599.3 L1852.6,596.7 L1853.9,594.1 L1855.3,591.5 L1856.8,589.0 L1858.4,586.4 L1860.0,583.9 L1861.6,581.5 L1863.3,579.0 L1865.0,576.6 L1866.7,574.2 L1868.4,571.8 L1870.1,569.4 L1871.9,567.1 L1873.6,564.8 L1875.3,562.5 L1877.1,560.2 L1878.9,557.9 L1880.7,555.7 L1882.6,553.5 L1884.5,551.3 L1886.5,549.2 L1888.6,547.0 L1890.8,544.9 L1893.0,542.7 L1895.3,540.6 L1897.6,538.5 L1899.9,536.4 L1902.2,534.4 L1904.6,532.5 L1906.9,530.6 L1909.2,528.8 L1911.4,527.1 L1913.7,525.4 L1915.9,523.8 L1918.2,522.2 L1920.5,520.7 L1922.7,519.3 L1925.0,517.9 L1927.3,516.5 L1929.5,515.3 L1931.8,514.1 L1934.0,513.0 L1936.3,511.9 L1938.6,510.9 L1940.8,510.0 L1943.1,509.1 L1945.3,508.3 L1947.6,507.6 L1949.9,506.9 L1952.1,506.3 L1954.4,505.7 L1956.7,505.3 L1958.9,504.9 L1961.2,504.5 L1963.4,504.3 L1965.7,504.1 L1968.0,503.9 L1970.2,503.8 L1972.5,503.8 L1974.8,503.8 L1977.0,503.9 L1979.3,504.1 L1981.5,504.4 L1983.8,504.7 L1986.1,505.1 L1988.3,505.6 L1990.6,506.1 L1992.8,506.6 L1995.1,507.1 L1997.4,507.6 L1999.6,508.0 L2001.9,508.4 L2004.2,508.7 L2006.4,509.0 L2008.7,509.4 L2010.9,509.7 L2013.2,510.0 L2015.5,510.4 L2017.7,510.8 L2020.0,511.3 L2022.2,511.8 L2024.5,512.5 L2026.8,513.1 L2029.0,513.8 L2031.3,514.6 L2033.6,515.3 L2035.8,516.2 L2038.1,517.0 L2040.3,517.9 L2042.6,518.8 L2044.9,519.8 L2047.1,520.7 L2049.4,521.7 L2051.6,522.8 L2053.9,523.8 L2056.2,524.9 L2058.4,526.1 L2060.7,527.2 L2063.0,528.5 L2065.2,529.7 L2067.5,531.1 L2069.7,532.5 L2072.0,533.9 L2074.3,535.4 L2076.5,537.0 L2078.8,538.6 L2081.1,540.2 L2083.3,541.8 L2085.6,543.5 L2087.8,545.2 L2090.1,546.9 L2092.4,548.6 L2094.7,550.4 L2097.0,552.2 L2099.4,554.0 L2101.7,555.8 L2104.0,557.6 L2106.3,559.5 L2108.5,561.3 L2110.6,563.2 L2112.7,565.0 L2114.7,566.8 L2116.7,568.5 L2118.5,570.3 L2120.4,572.0 L2122.2,573.8 L2124.0,575.5 L2125.7,577.3 L2127.4,579.2 L2129.1,581.1 L2130.8,583.1 L2132.5,585.2 L2134.2,587.3 L2135.9,589.5 L2137.6,591.8 L2139.3,594.1 L2140.9,596.4 L2142.5,598.8 L2143.9,601.1 L2145.3,603.4 L2146.6,605.7 L2147.8,608.0 L2149.0,610.2 L2150.1,612.5 L2151.1,614.8 L2152.0,617.0 L2152.9,619.3 L2153.7,621.5 L2154.4,623.8 L2155.1,626.1 L2155.7,628.3 L2156.3,630.6 L2156.8,632.9 L2157.3,635.2 L2157.7,637.6 L2158.1,639.9 L2158.3,642.2 L2158.5,644.5 L2158.6,646.7 L2158.6,648.9 L2158.4,650.9 L2158.1,653.0 L2157.7,655.0 L2157.2,657.0 L2156.6,658.9 L2155.9,660.8 L2155.2,662.7 L2154.3,664.4 L2153.3,666.1 L2152.3,667.6 L2151.2,669.0 L2150.0,670.3 L2148.8,671.5 L2147.6,672.5 L2146.3,673.4 L2144.9,674.3 L2143.4,675.1 L2141.7,675.8 L2139.8,676.6 L2137.7,677.3 L2135.3,678.1 L2132.7,678.8 L2129.7,679.6 L2126.4,680.2 L2123.0,680.9 L2119.4,681.5 L2115.7,682.2 L2112.0,682.8 L2108.3,683.5 L2104.8,684.1 L2101.4,684.9 L2098.1,685.6 L2094.7,686.4 L2091.2,687.2 L2087.8,687.9 L2084.4,688.8 L2081.2,689.6 L2078.0,690.4 L2075.0,691.2 L2072.3,692.0 L2069.7,692.8 L2067.4,693.5 L2065.3,694.2 L2063.3,694.8 L2061.4,695.5 L2059.7,696.1 L2058.2,696.8 L2056.8,697.6 L2055.7,698.5 L2054.7,699.5 L2053.9,700.7 L2053.5,702.1 L2053.4,703.8 L2053.6,705.7 L2054.1,707.6 L2054.6,709.7 L2055.2,711.7 L2055.8,713.7 L2056.2,715.6 L2056.3,717.3 L2056.2,718.8 L2055.7,720.1 L2055.2,721.4 L2054.4,722.5 L2053.6,723.6 L2052.6,724.6 L2051.6,725.5 L2050.5,726.2 L2049.4,726.9 L2048.3,727.4 L2047.1,727.8 L2045.9,728.1 L2044.6,728.3 L2043.2,728.4 L2041.7,728.4 L2040.2,728.3 L2038.7,728.0 L2037.3,727.6 L2035.9,727.1 L2034.7,726.4 L2033.6,725.6 L2032.6,724.5 L2031.8,723.2 L2031.2,721.7 L2030.6,720.0 L2030.0,718.2 L2029.5,716.4 L2028.9,714.6 L2028.3,712.8 L2027.6,711.2 L2026.8,709.7 L2025.9,708.4 L2025.1,707.2 L2024.2,706.1 L2023.3,705.0 L2022.4,703.9 L2021.3,702.9 L2020.2,701.9 L2018.8,700.8 L2017.3,699.6 L2015.5,698.4 L2013.4,697.2 L2011.2,695.8 L2008.7,694.4 L2006.1,693.0 L2003.3,691.6 L2000.4,690.2 L1997.5,688.8 L1994.4,687.4 L1991.4,686.1 L1988.3,684.9 L1985.2,683.7 L1982.0,682.5 L1978.6,681.3 L1975.2,680.2 L1971.8,679.1 L1968.3,678.1 L1964.8,677.1 L1961.3,676.2 L1957.8,675.4 L1954.4,674.7 L1951.0,674.0 L1947.6,673.5 L1944.2,673.0 L1940.8,672.5 L1937.4,672.1 L1934.0,671.8 L1930.6,671.6 L1927.3,671.4 L1923.9,671.3 L1920.5,671.3 L1917.0,671.3 L1913.5,671.5 L1909.9,671.7 L1906.4,672.1 L1902.8,672.4 L1899.3,672.8 L1895.9,673.3 L1892.6,673.8 L1889.5,674.2 L1886.5,674.7 L1883.8,675.2 L1881.2,675.9 L1878.7,676.6 L1876.4,677.4 L1874.1,678.1 L1871.9,678.9 L1869.9,679.5 L1867.8,680.0 L1865.9,680.3 L1863.9,680.3 L1862.0,680.2 L1860.2,680.0 L1858.4,679.7 L1856.6,679.3 L1854.9,678.7 L1853.4,678.0 L1851.9,677.1 L1850.5,676.1 L1849.2,674.9 L1848.1,673.6 L1847.1,672.0 L1846.2,670.1 L1845.4,668.1 L1844.8,665.9 L1844.2,663.5 L1843.7,661.1 L1843.3,658.6 L1843.0,656.0 L1842.7,653.5 Z"/></clipPath>
<g clip-path="url(#cb4)">
<path d="M1842.4,650.9 L1842.2,648.4 L1842.1,645.8 L1842.0,643.1 L1842.0,640.4 L1842.1,637.7 L1842.2,634.9 L1842.4,632.1 L1842.7,629.3 L1843.1,626.5 L1843.6,623.8 L1844.1,621.1 L1844.8,618.3 L1845.5,615.6 L1846.3,612.8 L1847.2,610.1 L1848.1,607.4 L1849.2,604.6 L1850.2,601.9 L1851.4,599.3 L1852.6,596.7 L1853.9,594.1 L1855.3,591.5 L1856.8,589.0 L1858.4,586.4 L1860.0,583.9 L1861.6,581.5 L1863.3,579.0 L1865.0,576.6 L1866.7,574.2 L1868.4,571.8 L1870.1,569.4 L1871.9,567.1 L1873.6,564.8 L1875.3,562.5 L1877.1,560.2 L1878.9,557.9 L1880.7,555.7 L1882.6,553.5 L1884.5,551.3 L1886.5,549.2 L1888.6,547.0 L1890.8,544.9 L1893.0,542.7 L1895.3,540.6 L1897.6,538.5 L1899.9,536.4 L1902.2,534.4 L1904.6,532.5 L1906.9,530.6 L1909.2,528.8 L1911.4,527.1 L1913.7,525.4 L1915.9,523.8 L1918.2,522.2 L1920.5,520.7 L1922.7,519.3 L1925.0,517.9 L1927.3,516.5 L1929.5,515.3 L1931.8,514.1 L1934.0,513.0 L1936.3,511.9 L1938.6,510.9 L1940.8,510.0 L1943.1,509.1 L1945.3,508.3 L1947.6,507.6 L1949.9,506.9 L1952.1,506.3 L1954.4,505.7 L1956.7,505.3 L1958.9,504.9 L1961.2,504.5 L1963.4,504.3 L1965.7,504.1 L1968.0,503.9 L1970.2,503.8 L1972.5,503.8 L1974.8,503.8 L1977.0,503.9 L1979.3,504.1 L1981.5,504.4 L1983.8,504.7 L1986.1,505.1 L1988.3,505.6 L1990.6,506.1 L1992.8,506.6 L1995.1,507.1 L1997.4,507.6 L1999.6,508.0 L2001.9,508.4 L2004.2,508.7 L2006.4,509.0 L2008.7,509.4 L2010.9,509.7 L2013.2,510.0 L2015.5,510.4 L2017.7,510.8 L2020.0,511.3 L2022.2,511.8 L2024.5,512.5 L2026.8,513.1 L2029.0,513.8 L2031.3,514.6 L2033.6,515.3 L2035.8,516.2 L2038.1,517.0 L2040.3,517.9 L2042.6,518.8 L2044.9,519.8 L2047.1,520.7 L2049.4,521.7 L2051.6,522.8 L2053.9,523.8 L2056.2,524.9 L2058.4,526.1 L2060.7,527.2 L2063.0,528.5 L2065.2,529.7 L2067.5,531.1 L2069.7,532.5 L2072.0,533.9 L2074.3,535.4 L2076.5,537.0 L2078.8,538.6 L2081.1,540.2 L2083.3,541.8 L2085.6,543.5 L2087.8,545.2 L2090.1,546.9 L2092.4,548.6 L2094.7,550.4 L2097.0,552.2 L2099.4,554.0 L2101.7,555.8 L2104.0,557.6 L2106.3,559.5 L2108.5,561.3 L2110.6,563.2 L2112.7,565.0 L2114.7,566.8 L2116.7,568.5 L2118.5,570.3 L2120.4,572.0 L2122.2,573.8 L2124.0,575.5 L2125.7,577.3 L2127.4,579.2 L2129.1,581.1 L2130.8,583.1 L2132.5,585.2 L2134.2,587.3 L2135.9,589.5 L2137.6,591.8 L2139.3,594.1 L2140.9,596.4 L2142.5,598.8 L2143.9,601.1 L2145.3,603.4 L2146.6,605.7 L2147.8,608.0 L2149.0,610.2 L2150.1,612.5 L2151.1,614.8 L2152.0,617.0 L2152.9,619.3 L2153.7,621.5 L2154.4,623.8 L2155.1,626.1 L2155.7,628.3 L2156.3,630.6 L2156.8,632.9 L2157.3,635.2 L2157.7,637.6 L2158.1,639.9 L2158.3,642.2 L2158.5,644.5 L2158.6,646.7 L2158.6,648.9 L2158.4,650.9 L2158.1,653.0 L2157.7,655.0 L2157.2,657.0 L2156.6,658.9 L2155.9,660.8 L2155.2,662.7 L2154.3,664.4 L2153.3,666.1 L2152.3,667.6 L2151.2,669.0 L2150.0,670.3 L2148.8,671.5 L2147.6,672.5 L2146.3,673.4 L2144.9,674.3 L2143.4,675.1 L2141.7,675.8 L2139.8,676.6 L2137.7,677.3 L2135.3,678.1 L2132.7,678.8 L2129.7,679.6 L2126.4,680.2 L2123.0,680.9 L2119.4,681.5 L2115.7,682.2 L2112.0,682.8 L2108.3,683.5 L2104.8,684.1 L2101.4,684.9 L2098.1,685.6 L2094.7,686.4 L2091.2,687.2 L2087.8,687.9 L2084.4,688.8 L2081.2,689.6 L2078.0,690.4 L2075.0,691.2 L2072.3,692.0 L2069.7,692.8 L2067.4,693.5 L2065.3,694.2 L2063.3,694.8 L2061.4,695.5 L2059.7,696.1 L2058.2,696.8 L2056.8,697.6 L2055.7,698.5 L2054.7,699.5 L2053.9,700.7 L2053.5,702.1 L2053.4,703.8 L2053.6,705.7 L2054.1,707.6 L2054.6,709.7 L2055.2,711.7 L2055.8,713.7 L2056.2,715.6 L2056.3,717.3 L2056.2,718.8 L2055.7,720.1 L2055.2,721.4 L2054.4,722.5 L2053.6,723.6 L2052.6,724.6 L2051.6,725.5 L2050.5,726.2 L2049.4,726.9 L2048.3,727.4 L2047.1,727.8 L2045.9,728.1 L2044.6,728.3 L2043.2,728.4 L2041.7,728.4 L2040.2,728.3 L2038.7,728.0 L2037.3,727.6 L2035.9,727.1 L2034.7,726.4 L2033.6,725.6 L2032.6,724.5 L2031.8,723.2 L2031.2,721.7 L2030.6,720.0 L2030.0,718.2 L2029.5,716.4 L2028.9,714.6 L2028.3,712.8 L2027.6,711.2 L2026.8,709.7 L2025.9,708.4 L2025.1,707.2 L2024.2,706.1 L2023.3,705.0 L2022.4,703.9 L2021.3,702.9 L2020.2,701.9 L2018.8,700.8 L2017.3,699.6 L2015.5,698.4 L2013.4,697.2 L2011.2,695.8 L2008.7,694.4 L2006.1,693.0 L2003.3,691.6 L2000.4,690.2 L1997.5,688.8 L1994.4,687.4 L1991.4,686.1 L1988.3,684.9 L1985.2,683.7 L1982.0,682.5 L1978.6,681.3 L1975.2,680.2 L1971.8,679.1 L1968.3,678.1 L1964.8,677.1 L1961.3,676.2 L1957.8,675.4 L1954.4,674.7 L1951.0,674.0 L1947.6,673.5 L1944.2,673.0 L1940.8,672.5 L1937.4,672.1 L1934.0,671.8 L1930.6,671.6 L1927.3,671.4 L1923.9,671.3 L1920.5,671.3 L1917.0,671.3 L1913.5,671.5 L1909.9,671.7 L1906.4,672.1 L1902.8,672.4 L1899.3,672.8 L1895.9,673.3 L1892.6,673.8 L1889.5,674.2 L1886.5,674.7 L1883.8,675.2 L1881.2,675.9 L1878.7,676.6 L1876.4,677.4 L1874.1,678.1 L1871.9,678.9 L1869.9,679.5 L1867.8,680.0 L1865.9,680.3 L1863.9,680.3 L1862.0,680.2 L1860.2,680.0 L1858.4,679.7 L1856.6,679.3 L1854.9,678.7 L1853.4,678.0 L1851.9,677.1 L1850.5,676.1 L1849.2,674.9 L1848.1,673.6 L1847.1,672.0 L1846.2,670.1 L1845.4,668.1 L1844.8,665.9 L1844.2,663.5 L1843.7,661.1 L1843.3,658.6 L1843.0,656.0 L1842.7,653.5 Z" fill="#f0f0f0" stroke="#a0a0a0" stroke-width="11"/>
<path d="M1843.9,650.8 L1851.7,649.0 L1861.0,646.7 L1870.7,645.7" fill="none" stroke="#959595" stroke-width="14" stroke-linecap="round"/>
<path d="M1844.4,628.2 L1857.1,630.4 L1871.2,633.5 L1885.8,636.0" fill="none" stroke="#959595" stroke-width="14" stroke-linecap="round"/>
<path d="M1850.1,606.3 L1859.2,609.2 L1869.2,614.1 L1879.4,619.4" fill="none" stroke="#959595" stroke-width="14" stroke-linecap="round"/>
<path d="M1860.4,586.1 L1868.1,592.2 L1877.4,598.6 L1887.7,604.0" fill="none" stroke="#959595" stroke-width="14" stroke-linecap="round"/>
<path d="M1873.5,567.4 L1883.4,574.5 L1895.4,581.3 L1907.4,588.9" fill="none" stroke="#959595" stroke-width="14" stroke-linecap="round"/>
<path d="M1888.0,549.8 L1891.8,554.3 L1897.8,558.6 L1904.3,562.7" fill="none" stroke="#959595" stroke-width="14" stroke-linecap="round"/>
<path d="M1904.7,534.3 L1911.0,542.7 L1920.2,550.6 L1929.9,558.7" fill="none" stroke="#959595" stroke-width="14" stroke-linecap="round"/>
<path d="M1923.1,520.8 L1931.3,529.5 L1936.5,541.7 L1940.2,555.4" fill="none" stroke="#959595" stroke-width="14" stroke-linecap="round"/>
<path d="M1943.3,510.6 L1948.9,521.6 L1952.4,534.9 L1954.8,549.1" fill="none" stroke="#959595" stroke-width="14" stroke-linecap="round"/>
<path d="M1965.3,505.6 L1968.1,516.6 L1968.3,529.3 L1966.7,542.6" fill="none" stroke="#959595" stroke-width="14" stroke-linecap="round"/>
<path d="M1987.8,507.0 L1986.0,512.4 L1984.6,519.4 L1984.5,526.7" fill="none" stroke="#959595" stroke-width="14" stroke-linecap="round"/>
<path d="M2010.3,511.1 L2010.1,524.9 L2008.1,539.8 L2003.1,554.5" fill="none" stroke="#959595" stroke-width="14" stroke-linecap="round"/>
<path d="M2032.5,516.5 L2028.8,526.0 L2026.6,537.6 L2024.5,549.6" fill="none" stroke="#959595" stroke-width="14" stroke-linecap="round"/>
<path d="M2053.5,525.3 L2046.2,535.8 L2041.0,549.0 L2037.1,563.3" fill="none" stroke="#959595" stroke-width="14" stroke-linecap="round"/>
<path d="M2073.3,536.6 L2069.8,541.2 L2066.0,547.4 L2062.6,554.1" fill="none" stroke="#959595" stroke-width="14" stroke-linecap="round"/>
<path d="M2091.8,550.1 L2085.4,558.5 L2078.5,568.4 L2071.3,578.5" fill="none" stroke="#959595" stroke-width="14" stroke-linecap="round"/>
<path d="M2109.7,564.3 L2107.3,568.4 L2103.4,573.1 L2098.6,577.4" fill="none" stroke="#959595" stroke-width="14" stroke-linecap="round"/>
<path d="M2126.2,580.1 L2118.2,587.9 L2107.9,595.4 L2097.3,603.2" fill="none" stroke="#959595" stroke-width="14" stroke-linecap="round"/>
<path d="M2140.2,598.0 L2131.3,601.8 L2121.8,607.1 L2113.0,614.2" fill="none" stroke="#959595" stroke-width="14" stroke-linecap="round"/>
<path d="M2150.8,618.1 L2144.3,621.9 L2136.6,626.6 L2128.0,630.0" fill="none" stroke="#959595" stroke-width="14" stroke-linecap="round"/>
<path d="M2156.5,639.8 L2151.7,639.2 L2145.3,638.7 L2138.8,639.3" fill="none" stroke="#959595" stroke-width="14" stroke-linecap="round"/>
<path d="M2154.0,661.5 L2143.0,658.1 L2131.9,651.4 L2121.4,642.9" fill="none" stroke="#959595" stroke-width="14" stroke-linecap="round"/>
<path d="M1843.9,650.8 L1851.7,649.0 L1861.0,646.7 L1870.7,645.7" fill="none" stroke="#222" stroke-width="2.6" stroke-linecap="round"/>
<path d="M1844.4,628.2 L1857.1,630.4 L1871.2,633.5 L1885.8,636.0" fill="none" stroke="#222" stroke-width="2.6" stroke-linecap="round"/>
<path d="M1850.1,606.3 L1859.2,609.2 L1869.2,614.1 L1879.4,619.4" fill="none" stroke="#222" stroke-width="2.6" stroke-linecap="round"/>
<path d="M1860.4,586.1 L1868.1,592.2 L1877.4,598.6 L1887.7,604.0" fill="none" stroke="#222" stroke-width="2.6" stroke-linecap="round"/>
<path d="M1873.5,567.4 L1883.4,574.5 L1895.4,581.3 L1907.4,588.9" fill="none" stroke="#222" stroke-width="2.6" stroke-linecap="round"/>
<path d="M1888.0,549.8 L1891.8,554.3 L1897.8,558.6 L1904.3,562.7" fill="none" stroke="#222" stroke-width="2.6" stroke-linecap="round"/>
<path d="M1904.7,534.3 L1911.0,542.7 L1920.2,550.6 L1929.9,558.7" fill="none" stroke="#222" stroke-width="2.6" stroke-linecap="round"/>
<path d="M1923.1,520.8 L1931.3,529.5 L1936.5,541.7 L1940.2,555.4" fill="none" stroke="#222" stroke-width="2.6" stroke-linecap="round"/>
<path d="M1943.3,510.6 L1948.9,521.6 L1952.4,534.9 L1954.8,549.1" fill="none" stroke="#222" stroke-width="2.6" stroke-linecap="round"/>
<path d="M1965.3,505.6 L1968.1,516.6 L1968.3,529.3 L1966.7,542.6" fill="none" stroke="#222" stroke-width="2.6" stroke-linecap="round"/>
<path d="M1987.8,507.0 L1986.0,512.4 L1984.6,519.4 L1984.5,526.7" fill="none" stroke="#222" stroke-width="2.6" stroke-linecap="round"/>
<path d="M2010.3,511.1 L2010.1,524.9 L2008.1,539.8 L2003.1,554.5" fill="none" stroke="#222" stroke-width="2.6" stroke-linecap="round"/>
<path d="M2032.5,516.5 L2028.8,526.0 L2026.6,537.6 L2024.5,549.6" fill="none" stroke="#222" stroke-width="2.6" stroke-linecap="round"/>
<path d="M2053.5,525.3 L2046.2,535.8 L2041.0,549.0 L2037.1,563.3" fill="none" stroke="#222" stroke-width="2.6" stroke-linecap="round"/>
<path d="M2073.3,536.6 L2069.8,541.2 L2066.0,547.4 L2062.6,554.1" fill="none" stroke="#222" stroke-width="2.6" stroke-linecap="round"/>
<path d="M2091.8,550.1 L2085.4,558.5 L2078.5,568.4 L2071.3,578.5" fill="none" stroke="#222" stroke-width="2.6" stroke-linecap="round"/>
<path d="M2109.7,564.3 L2107.3,568.4 L2103.4,573.1 L2098.6,577.4" fill="none" stroke="#222" stroke-width="2.6" stroke-linecap="round"/>
<path d="M2126.2,580.1 L2118.2,587.9 L2107.9,595.4 L2097.3,603.2" fill="none" stroke="#222" stroke-width="2.6" stroke-linecap="round"/>
<path d="M2140.2,598.0 L2131.3,601.8 L2121.8,607.1 L2113.0,614.2" fill="none" stroke="#222" stroke-width="2.6" stroke-linecap="round"/>
<path d="M2150.8,618.1 L2144.3,621.9 L2136.6,626.6 L2128.0,630.0" fill="none" stroke="#222" stroke-width="2.6" stroke-linecap="round"/>
<path d="M2156.5,639.8 L2151.7,639.2 L2145.3,638.7 L2138.8,639.3" fill="none" stroke="#222" stroke-width="2.6" stroke-linecap="round"/>
<path d="M2154.0,661.5 L2143.0,658.1 L2131.9,651.4 L2121.4,642.9" fill="none" stroke="#222" stroke-width="2.6" stroke-linecap="round"/>
<path d="M1875.2,641.9 L1876.8,639.1 L1878.8,635.2 L1881.1,630.7 L1883.7,625.6 L1886.7,620.4 L1890.1,615.1 L1893.8,610.1 L1897.9,605.7 L1902.3,601.6 L1907.3,597.4 L1912.7,593.3 L1918.3,589.3 L1924.3,585.5 L1930.5,582.1 L1936.7,579.0 L1943.1,576.3 L1949.6,574.1 L1956.4,572.1 L1963.5,570.5 L1970.7,569.2 L1977.9,568.3 L1985.2,567.6 L1992.5,567.3 L1999.6,567.3 L2006.8,567.6 L2014.0,568.3 L2021.3,569.3 L2028.6,570.6 L2035.8,572.3 L2042.8,574.1 L2049.6,576.3 L2056.2,578.6 L2062.5,581.1 L2068.6,584.0 L2074.7,587.2 L2080.5,590.6 L2086.1,594.2 L2091.5,597.9 L2096.6,601.8 L2101.4,605.7 L2106.0,610.0 L2110.6,615.0 L2114.9,620.2 L2118.9,625.5 L2122.6,630.6 L2125.9,635.2 L2128.6,639.0" fill="none" stroke="#b0b0b0" stroke-width="7"/>
<path d="M2026.8,626.1 L2029.4,624.7 L2032.7,623.6 L2036.7,622.8 L2040.9,622.2 L2045.2,622.0 L2049.4,622.2 L2053.1,622.8 L2056.2,623.8 L2058.8,625.4 L2061.3,627.8 L2063.5,630.6 L2065.5,633.7 L2067.2,637.0 L2068.5,640.3 L2069.3,643.5 L2069.7,646.4 L2069.6,649.2 L2069.0,652.1 L2067.9,655.1 L2066.5,658.0 L2064.8,660.7 L2062.8,663.2 L2060.7,665.2 L2058.4,666.8 L2055.9,667.9 L2052.9,668.7 L2049.5,669.2 L2046.0,669.3 L2042.5,669.2 L2039.1,668.7 L2036.1,667.9 L2033.6,666.8 L2031.4,665.2 L2029.4,663.1 L2027.6,660.6 L2026.1,657.9 L2024.7,654.9 L2023.6,652.0 L2022.8,649.1 L2022.2,646.4 L2021.9,643.7 L2021.7,640.9 L2021.7,638.0 L2022.0,635.1 L2022.6,632.4 L2023.5,629.9 L2024.9,627.7 Z" fill="#a8a8a8"/>
<path d="M1943.1,608.0 L1945.7,606.1 L1949.4,604.3 L1953.8,602.5 L1958.6,601.0 L1963.5,599.8 L1968.1,599.2 L1971.9,599.2 L1974.8,600.0 L1976.7,602.0 L1978.2,605.0 L1979.2,608.9 L1979.8,613.2 L1979.9,617.6 L1979.7,621.8 L1979.1,625.5 L1978.1,628.3 L1976.6,630.4 L1974.3,632.1 L1971.5,633.5 L1968.4,634.5 L1965.1,635.3 L1962.0,635.8 L1959.1,636.1 L1956.7,636.2 L1954.6,636.1 L1952.6,635.7 L1950.8,635.0 L1949.2,634.0 L1947.7,632.9 L1946.3,631.5 L1945.2,630.0 L1944.2,628.3 L1943.3,626.3 L1942.4,623.8 L1941.5,621.1 L1940.9,618.1 L1940.6,615.2 L1940.8,612.5 L1941.6,610.0 Z" fill="#050505"/>
<path d="M1887.7,628.3 L1888.8,627.5 L1890.4,626.8 L1892.5,626.2 L1894.7,625.7 L1897.0,625.5 L1899.2,625.4 L1901.0,625.6 L1902.4,626.1 L1903.4,627.0 L1904.2,628.4 L1904.9,630.2 L1905.3,632.1 L1905.6,634.0 L1905.6,635.9 L1905.3,637.4 L1904.6,638.5 L1903.5,639.2 L1901.9,639.8 L1899.8,640.1 L1897.6,640.3 L1895.3,640.3 L1893.1,640.1 L1891.3,639.7 L1889.9,639.2 L1888.9,638.3 L1888.1,637.1 L1887.4,635.6 L1887.0,633.9 L1886.7,632.3 L1886.8,630.7 L1887.1,629.3 Z" fill="#0e0e0e"/>
<path d="M1956.7,650.9 L1958.7,650.7 L1961.4,650.9 L1964.5,651.6 L1968.1,652.6 L1971.9,653.9 L1975.9,655.2 L1979.9,656.5 L1983.8,657.7 L1987.9,658.9 L1992.4,660.1 L1997.1,661.3 L2001.9,662.7 L2006.5,664.1 L2010.8,665.6 L2014.6,667.3 L2017.7,669.0 L2020.2,671.1 L2022.3,673.4 L2024.0,675.9 L2025.4,678.5 L2026.3,681.0 L2026.8,683.4 L2027.0,685.5 L2026.8,687.1 L2026.1,688.4 L2024.8,689.6 L2023.2,690.5 L2021.1,691.2 L2018.8,691.7 L2016.3,691.9 L2013.6,691.9 L2010.9,691.6 L2008.1,691.0 L2004.9,690.0 L2001.6,688.7 L1998.1,687.1 L1994.5,685.4 L1990.8,683.7 L1987.3,682.0 L1983.8,680.3 L1980.2,678.8 L1976.4,677.2 L1972.4,675.5 L1968.5,673.8 L1964.8,672.1 L1961.5,670.4 L1958.8,668.6 L1956.7,666.8 L1955.2,664.7 L1954.1,662.4 L1953.5,660.0 L1953.3,657.6 L1953.5,655.3 L1954.1,653.4 L1955.2,651.9 Z" fill="#3a3a3a"/>
<path d="M2015.5,662.2 L2016.7,661.2 L2018.6,660.6 L2020.9,660.4 L2023.5,660.6 L2026.3,661.1 L2029.0,661.9 L2031.5,663.1 L2033.6,664.5 L2035.4,666.4 L2037.2,668.7 L2039.0,671.5 L2040.6,674.5 L2042.1,677.7 L2043.3,681.0 L2044.3,684.2 L2044.9,687.1 L2045.1,690.1 L2045.0,693.4 L2044.6,696.8 L2044.0,700.1 L2043.2,703.2 L2042.3,706.0 L2041.3,708.2 L2040.3,709.7 L2039.2,710.6 L2037.9,710.9 L2036.5,710.7 L2035.0,710.2 L2033.4,709.3 L2031.9,708.1 L2030.4,706.7 L2029.0,705.2 L2027.8,703.4 L2026.5,701.3 L2025.3,698.8 L2024.1,696.2 L2022.9,693.4 L2021.9,690.5 L2020.9,687.6 L2020.0,684.9 L2019.0,682.0 L2018.0,678.8 L2017.0,675.5 L2016.0,672.1 L2015.3,669.0 L2014.9,666.2 L2014.9,663.9 Z" fill="#888"/>
</g>
<clipPath id="cc4"><path d="M1866.2,696.2 L1867.8,693.7 L1869.7,691.2 L1871.9,688.7 L1874.4,686.2 L1877.1,683.9 L1880.1,681.7 L1883.2,679.7 L1886.5,678.1 L1890.1,676.7 L1894.0,675.6 L1898.2,674.6 L1902.5,673.9 L1907.0,673.3 L1911.5,672.9 L1916.0,672.6 L1920.5,672.4 L1925.0,672.3 L1929.7,672.2 L1934.6,672.3 L1939.4,672.5 L1944.1,672.9 L1948.7,673.6 L1952.9,674.5 L1956.7,675.8 L1960.1,677.5 L1963.4,679.6 L1966.4,682.0 L1969.2,684.7 L1971.7,687.5 L1973.9,690.4 L1975.7,693.3 L1977.0,696.2 L1977.9,699.1 L1978.4,702.2 L1978.5,705.4 L1978.3,708.6 L1977.8,711.9 L1977.0,715.0 L1975.9,718.1 L1974.8,721.1 L1973.3,723.9 L1971.6,726.6 L1969.6,729.3 L1967.4,731.9 L1965.0,734.4 L1962.3,736.8 L1959.6,739.2 L1956.7,741.4 L1953.5,743.6 L1950.1,745.9 L1946.5,748.1 L1942.7,750.2 L1938.8,752.2 L1934.9,753.8 L1931.0,755.2 L1927.3,756.1 L1923.5,756.7 L1919.7,756.9 L1915.9,756.8 L1912.1,756.5 L1908.4,755.9 L1904.7,755.0 L1901.2,754.0 L1897.9,752.7 L1894.6,751.2 L1891.5,749.2 L1888.4,747.0 L1885.4,744.6 L1882.6,742.1 L1879.9,739.5 L1877.5,737.0 L1875.2,734.6 L1873.2,732.4 L1871.3,730.2 L1869.6,727.9 L1868.0,725.7 L1866.7,723.5 L1865.5,721.2 L1864.6,718.9 L1863.9,716.5 L1863.4,714.1 L1863.1,711.5 L1863.0,709.0 L1863.1,706.4 L1863.4,703.7 L1864.0,701.2 L1864.9,698.6 Z"/></clipPath>
<path d="M1866.2,696.2 L1867.8,693.7 L1869.7,691.2 L1871.9,688.7 L1874.4,686.2 L1877.1,683.9 L1880.1,681.7 L1883.2,679.7 L1886.5,678.1 L1890.1,676.7 L1894.0,675.6 L1898.2,674.6 L1902.5,673.9 L1907.0,673.3 L1911.5,672.9 L1916.0,672.6 L1920.5,672.4 L1925.0,672.3 L1929.7,672.2 L1934.6,672.3 L1939.4,672.5 L1944.1,672.9 L1948.7,673.6 L1952.9,674.5 L1956.7,675.8 L1960.1,677.5 L1963.4,679.6 L1966.4,682.0 L1969.2,684.7 L1971.7,687.5 L1973.9,690.4 L1975.7,693.3 L1977.0,696.2 L1977.9,699.1 L1978.4,702.2 L1978.5,705.4 L1978.3,708.6 L1977.8,711.9 L1977.0,715.0 L1975.9,718.1 L1974.8,721.1 L1973.3,723.9 L1971.6,726.6 L1969.6,729.3 L1967.4,731.9 L1965.0,734.4 L1962.3,736.8 L1959.6,739.2 L1956.7,741.4 L1953.5,743.6 L1950.1,745.9 L1946.5,748.1 L1942.7,750.2 L1938.8,752.2 L1934.9,753.8 L1931.0,755.2 L1927.3,756.1 L1923.5,756.7 L1919.7,756.9 L1915.9,756.8 L1912.1,756.5 L1908.4,755.9 L1904.7,755.0 L1901.2,754.0 L1897.9,752.7 L1894.6,751.2 L1891.5,749.2 L1888.4,747.0 L1885.4,744.6 L1882.6,742.1 L1879.9,739.5 L1877.5,737.0 L1875.2,734.6 L1873.2,732.4 L1871.3,730.2 L1869.6,727.9 L1868.0,725.7 L1866.7,723.5 L1865.5,721.2 L1864.6,718.9 L1863.9,716.5 L1863.4,714.1 L1863.1,711.5 L1863.0,709.0 L1863.1,706.4 L1863.4,703.7 L1864.0,701.2 L1864.9,698.6 Z" fill="#dcdcdc" stroke="#9a9a9a" stroke-width="4"/>
<g clip-path="url(#cc4)">
<path d="M1911.5,713.2 L1909.8,712.8 L1907.6,712.4 L1905.0,711.8 L1902.1,711.2 L1898.9,710.5 L1895.6,710.0 L1892.3,709.5 L1889.0,709.2 L1885.4,709.1 L1881.4,709.0 L1877.2,709.1 L1872.9,709.2 L1868.8,709.4 L1865.1,709.5 L1862.0,709.7" fill="none" stroke="#6a6a6a" stroke-width="3"/>
<path d="M1912.5,709.8 L1910.9,709.1 L1908.9,708.0 L1906.5,706.8 L1903.8,705.4 L1900.8,704.0 L1897.8,702.7 L1894.7,701.5 L1891.6,700.5 L1888.3,699.6 L1884.5,698.8 L1880.5,698.1 L1876.4,697.5 L1872.6,696.9 L1869.0,696.4 L1866.1,696.0" fill="none" stroke="#6a6a6a" stroke-width="3"/>
<path d="M1914.6,706.8 L1913.3,705.7 L1911.6,704.1 L1909.7,702.3 L1907.4,700.3 L1905.0,698.2 L1902.5,696.2 L1899.8,694.3 L1897.2,692.6 L1894.4,691.1 L1891.1,689.7 L1887.6,688.2 L1884.1,686.9 L1880.7,685.7 L1877.6,684.6 L1875.0,683.7" fill="none" stroke="#6a6a6a" stroke-width="3"/>
<path d="M1917.7,704.3 L1916.8,702.9 L1915.7,701.0 L1914.3,698.7 L1912.8,696.1 L1911.1,693.5 L1909.3,690.9 L1907.4,688.4 L1905.5,686.3 L1903.3,684.3 L1900.7,682.2 L1898.0,680.3 L1895.2,678.4 L1892.5,676.6 L1890.0,675.0 L1887.9,673.7" fill="none" stroke="#6a6a6a" stroke-width="3"/>
<path d="M1921.6,702.7 L1921.2,701.0 L1920.7,698.8 L1920.1,696.2 L1919.4,693.3 L1918.6,690.3 L1917.8,687.3 L1916.8,684.4 L1915.7,681.9 L1914.3,679.6 L1912.7,677.2 L1910.8,674.8 L1908.9,672.5 L1907.1,670.4 L1905.4,668.5 L1904.0,666.9" fill="none" stroke="#6a6a6a" stroke-width="3"/>
<path d="M1925.9,701.9 L1926.0,700.1 L1926.2,697.8 L1926.5,695.0 L1926.8,692.0 L1927.0,688.8 L1927.2,685.6 L1927.2,682.6 L1927.0,679.9 L1926.6,677.4 L1925.9,674.8 L1925.1,672.3 L1924.2,669.8 L1923.3,667.5 L1922.5,665.5 L1921.8,663.8" fill="none" stroke="#6a6a6a" stroke-width="3"/>
<path d="M1930.3,702.1 L1931.0,700.4 L1931.9,698.1 L1933.1,695.3 L1934.4,692.3 L1935.6,689.1 L1936.8,686.0 L1937.9,683.0 L1938.6,680.4 L1939.2,677.9 L1939.5,675.4 L1939.8,672.8 L1939.9,670.4 L1940.0,668.2 L1940.1,666.2 L1940.1,664.5" fill="none" stroke="#6a6a6a" stroke-width="3"/>
<path d="M1934.4,703.2 L1935.7,701.6 L1937.3,699.5 L1939.3,697.0 L1941.5,694.2 L1943.8,691.3 L1946.0,688.4 L1948.0,685.7 L1949.6,683.3 L1951.1,681.0 L1952.4,678.8 L1953.7,676.5 L1954.8,674.4 L1955.8,672.4 L1956.7,670.6 L1957.5,669.1" fill="none" stroke="#6a6a6a" stroke-width="3"/>
<path d="M1938.1,705.2 L1939.7,703.8 L1942.0,702.1 L1944.7,699.9 L1947.7,697.6 L1950.8,695.1 L1953.9,692.7 L1956.7,690.4 L1959.2,688.4 L1961.4,686.6 L1963.6,684.8 L1965.7,683.0 L1967.7,681.3 L1969.5,679.7 L1971.1,678.3 L1972.5,677.1" fill="none" stroke="#6a6a6a" stroke-width="3"/>
<path d="M1940.8,707.9 L1942.9,706.9 L1945.6,705.5 L1948.9,703.9 L1952.5,702.1 L1956.2,700.3 L1960.0,698.5 L1963.5,696.8 L1966.5,695.4 L1969.3,694.1 L1972.2,692.9 L1974.9,691.8 L1977.6,690.7 L1980.0,689.7 L1982.2,688.8 L1984.0,688.1" fill="none" stroke="#6a6a6a" stroke-width="3"/>
<path d="M1942.5,711.0 L1944.8,710.4 L1947.8,709.6 L1951.5,708.6 L1955.4,707.5 L1959.6,706.4 L1963.7,705.4 L1967.6,704.4 L1971.1,703.7 L1974.3,703.1 L1977.5,702.6 L1980.7,702.1 L1983.7,701.8 L1986.5,701.5 L1989.0,701.2 L1991.2,701.0" fill="none" stroke="#6a6a6a" stroke-width="3"/>
<path d="M1943.1,714.5 L1945.4,714.3 L1948.5,714.0 L1952.3,713.7 L1956.4,713.4 L1960.7,713.0 L1964.9,712.8 L1968.9,712.6 L1972.5,712.6 L1975.8,712.7 L1979.1,713.0 L1982.5,713.3 L1985.6,713.8 L1988.6,714.2 L1991.2,714.6 L1993.4,714.9" fill="none" stroke="#6a6a6a" stroke-width="3"/>
<path d="M1942.4,717.9 L1944.6,718.1 L1947.6,718.4 L1951.2,718.8 L1955.2,719.2 L1959.3,719.6 L1963.4,720.1 L1967.3,720.7 L1970.7,721.4 L1973.8,722.3 L1977.0,723.3 L1980.2,724.5 L1983.2,725.7 L1986.0,726.8 L1988.4,727.9 L1990.5,728.8" fill="none" stroke="#6a6a6a" stroke-width="3"/>
<path d="M1940.5,721.0 L1942.5,721.7 L1945.2,722.5 L1948.4,723.4 L1952.0,724.5 L1955.7,725.7 L1959.3,726.9 L1962.7,728.2 L1965.7,729.6 L1968.5,731.1 L1971.3,732.8 L1974.0,734.7 L1976.5,736.6 L1978.9,738.5 L1981.0,740.1 L1982.8,741.6" fill="none" stroke="#6a6a6a" stroke-width="3"/>
<path d="M1937.6,723.7 L1939.3,724.6 L1941.5,725.8 L1944.1,727.3 L1947.0,728.9 L1950.0,730.7 L1953.0,732.5 L1955.7,734.4 L1958.1,736.3 L1960.2,738.4 L1962.3,740.7 L1964.3,743.2 L1966.2,745.7 L1967.9,748.1 L1969.5,750.3 L1970.8,752.2" fill="none" stroke="#6a6a6a" stroke-width="3"/>
<path d="M1933.9,725.5 L1935.1,726.7 L1936.7,728.3 L1938.6,730.1 L1940.7,732.1 L1942.8,734.3 L1944.9,736.6 L1946.8,738.9 L1948.3,741.2 L1949.7,743.7 L1950.9,746.4 L1952.0,749.3 L1953.0,752.3 L1953.9,755.1 L1954.7,757.7 L1955.4,759.8" fill="none" stroke="#6a6a6a" stroke-width="3"/>
<path d="M1929.7,726.6 L1930.4,727.9 L1931.2,729.6 L1932.3,731.6 L1933.4,733.8 L1934.6,736.3 L1935.6,738.8 L1936.5,741.3 L1937.2,743.8 L1937.6,746.5 L1937.9,749.5 L1938.0,752.6 L1938.0,755.8 L1938.0,758.9 L1937.9,761.6 L1937.9,763.9" fill="none" stroke="#6a6a6a" stroke-width="3"/>
<path d="M1925.3,726.6 L1925.4,727.9 L1925.5,729.6 L1925.7,731.7 L1925.8,733.9 L1926.0,736.4 L1926.0,738.9 L1925.8,741.5 L1925.5,744.0 L1925.0,746.7 L1924.2,749.7 L1923.3,752.8 L1922.3,756.0 L1921.3,759.1 L1920.3,761.9 L1919.5,764.2" fill="none" stroke="#6a6a6a" stroke-width="3"/>
<path d="M1921.1,725.7 L1920.6,726.9 L1920.0,728.5 L1919.3,730.3 L1918.5,732.4 L1917.6,734.7 L1916.6,737.0 L1915.5,739.4 L1914.3,741.7 L1912.8,744.2 L1911.1,747.0 L1909.1,749.9 L1907.1,752.9 L1905.1,755.8 L1903.3,758.4 L1901.8,760.5" fill="none" stroke="#6a6a6a" stroke-width="3"/>
<path d="M1917.3,723.9 L1916.3,724.9 L1915.1,726.2 L1913.7,727.7 L1912.0,729.4 L1910.2,731.2 L1908.3,733.1 L1906.4,735.1 L1904.3,737.1 L1902.0,739.2 L1899.4,741.6 L1896.5,744.1 L1893.6,746.7 L1890.8,749.2 L1888.3,751.4 L1886.1,753.3" fill="none" stroke="#6a6a6a" stroke-width="3"/>
<path d="M1914.3,721.4 L1912.9,722.1 L1911.2,722.9 L1909.2,723.9 L1906.9,725.1 L1904.4,726.4 L1901.7,727.7 L1899.1,729.1 L1896.4,730.5 L1893.4,732.1 L1890.1,733.9 L1886.5,735.9 L1882.9,737.9 L1879.4,739.8 L1876.3,741.6 L1873.6,743.0" fill="none" stroke="#6a6a6a" stroke-width="3"/>
<path d="M1912.3,718.3 L1910.7,718.6 L1908.6,719.0 L1906.2,719.4 L1903.4,719.9 L1900.5,720.4 L1897.4,721.0 L1894.2,721.7 L1891.1,722.5 L1887.7,723.4 L1883.9,724.6 L1879.9,725.8 L1875.8,727.1 L1871.8,728.4 L1868.3,729.5 L1865.3,730.5" fill="none" stroke="#6a6a6a" stroke-width="3"/>
<path d="M1911.4,714.9 L1909.7,714.8 L1907.5,714.6 L1904.9,714.3 L1902.0,714.1 L1898.8,713.9 L1895.5,713.7 L1892.2,713.6 L1888.9,713.7 L1885.3,713.9 L1881.3,714.3 L1877.1,714.7 L1872.8,715.3 L1868.7,715.8 L1864.9,716.3 L1861.8,716.7" fill="none" stroke="#6a6a6a" stroke-width="3"/>
</g>
<path d="M2029.0,709.7 L2030.9,708.6 L2033.8,707.5 L2037.3,706.5 L2041.1,705.6 L2045.0,705.0 L2048.6,704.7 L2051.7,704.7 L2053.9,705.2 L2055.4,706.3 L2056.4,708.0 L2057.0,710.1 L2057.3,712.4 L2057.3,714.9 L2057.1,717.3 L2056.7,719.4 L2056.2,721.1 L2055.4,722.4 L2054.3,723.6 L2053.0,724.8 L2051.4,725.7 L2049.8,726.5 L2048.1,727.1 L2046.4,727.6 L2044.9,727.8 L2043.3,727.9 L2041.6,727.7 L2039.9,727.4 L2038.1,726.8 L2036.5,726.2 L2034.9,725.3 L2033.6,724.4 L2032.4,723.3 L2031.4,722.0 L2030.3,720.3 L2029.2,718.5 L2028.4,716.5 L2027.8,714.6 L2027.7,712.7 L2028.0,711.1 Z" fill="#7a7a7a"/>
</g>
<circle cx="2035" cy="687" r="4.5" fill="#1a80d0"/>
<circle cx="2033" cy="681" r="3.5" fill="#1a80d0"/>
<circle cx="2037" cy="692" r="4" fill="#1a80d0"/>
<circle cx="2052" cy="684.5" r="3.5" fill="#1a80d0"/>
<circle cx="2030" cy="689" r="3.5" fill="#1a80d0"/>
<text x="0" y="902" font-size="33" font-weight="bold" stroke="#000" stroke-width="1.3">c</text>
<path d="M106.6,949.5 V1226.4 H386.6" fill="none" stroke="#222" stroke-width="1.6"/>
<path d="M106.6,981.4 H117.6 M106.6,1194.4 H117.6 M262,1226.4 V1216" stroke="#222" stroke-width="1.6"/>
<text x="93" y="991.5" font-size="28" text-anchor="end">1.0</text>
<text x="93" y="1098" font-size="28" text-anchor="end">0.5</text>
<text x="93" y="1205" font-size="28" text-anchor="end">0</text>
<text x="107" y="1260" font-size="28" text-anchor="middle">0</text>
<text x="262" y="1260" font-size="28" text-anchor="middle">50</text>
<text x="246" y="1304.5" font-size="29" text-anchor="middle">Trial</text>
<text x="26.5" y="1087" font-size="29.5" text-anchor="middle" transform="rotate(-90 26.5 1087)">Proportion correct</text>
<path d="M106.6,1088 H386.6" stroke="#000" stroke-width="5" stroke-dasharray="10.37 10.37"/>
<circle cx="122.2" cy="960.3" r="2.8" fill="#e8870f"/>
<circle cx="128.4" cy="960.3" r="2.8" fill="#e8870f"/>
<circle cx="134.6" cy="960.3" r="2.8" fill="#e8870f"/>
<circle cx="140.8" cy="960.3" r="2.8" fill="#e8870f"/>
<path d="M148.5,960.3 H154.7" stroke="#e8870f" stroke-width="5.6" stroke-linecap="round"/>
<path d="M158.0,960.3 H163.7" stroke="#e8870f" stroke-width="5.6" stroke-linecap="round"/>
<path d="M167.8,960.3 H173.4" stroke="#e8870f" stroke-width="5.6" stroke-linecap="round"/>
<path d="M177.5,960.3 H225.3" stroke="#e8870f" stroke-width="5.6" stroke-linecap="round"/>
<path d="M230.0,960.3 H253.7" stroke="#e8870f" stroke-width="5.6" stroke-linecap="round"/>
<path d="M258.5,960.3 H272.4" stroke="#e8870f" stroke-width="5.6" stroke-linecap="round"/>
<path d="M277.2,960.3 H281.4" stroke="#e8870f" stroke-width="5.6" stroke-linecap="round"/>
<circle cx="286.9" cy="960.3" r="2.8" fill="#e8870f"/>
<circle cx="295.9" cy="960.3" r="2.8" fill="#e8870f"/>
<path d="M301.4,960.3 H318.7" stroke="#e8870f" stroke-width="5.6" stroke-linecap="round"/>
<path d="M323.6,960.3 H335.3" stroke="#e8870f" stroke-width="5.6" stroke-linecap="round"/>
<circle cx="339.5" cy="960.3" r="2.8" fill="#e8870f"/>
<path d="M345.0,960.3 H353.3" stroke="#e8870f" stroke-width="5.6" stroke-linecap="round"/>
<circle cx="359.6" cy="960.3" r="2.8" fill="#e8870f"/>
<path d="M373.4,960.3 H387.3" stroke="#e8870f" stroke-width="5.6" stroke-linecap="round"/>
<path d="M115.2,971.1 H126.3" stroke="#0a7fe0" stroke-width="6.2" stroke-linecap="round"/>
<path d="M130.5,971.1 H139.5" stroke="#0a7fe0" stroke-width="6.2" stroke-linecap="round"/>
<path d="M142.9,971.1 H157.5" stroke="#0a7fe0" stroke-width="6.2" stroke-linecap="round"/>
<path d="M161.6,971.1 H386.6" stroke="#0a7fe0" stroke-width="6.2" stroke-linecap="round"/>
<path d="M108.5,1205 H115.0" stroke="#0a7fe0" stroke-width="5.2" stroke-linecap="round"/>
<circle cx="129.0" cy="1205" r="2.6" fill="#0a7fe0"/>
<circle cx="141.5" cy="1205" r="2.6" fill="#0a7fe0"/>
<circle cx="160.0" cy="1205" r="2.6" fill="#0a7fe0"/>
<path d="M107.5,1215.7 H121.0" stroke="#e08a22" stroke-width="5.2" stroke-linecap="round"/>
<circle cx="125.6" cy="1215.7" r="2.6" fill="#e08a22"/>
<circle cx="131.8" cy="1215.7" r="2.6" fill="#e08a22"/>
<circle cx="138.0" cy="1215.7" r="2.6" fill="#e08a22"/>
<path d="M143.4,1215.7 H148.0" stroke="#e08a22" stroke-width="5.2" stroke-linecap="round"/>
<circle cx="156.6" cy="1215.7" r="2.6" fill="#e08a22"/>
<circle cx="166.0" cy="1215.7" r="2.6" fill="#e08a22"/>
<circle cx="175.4" cy="1215.7" r="2.6" fill="#e08a22"/>
<circle cx="228.3" cy="1215.7" r="2.6" fill="#e08a22"/>
<circle cx="256.2" cy="1215.7" r="2.6" fill="#e08a22"/>
<circle cx="274.6" cy="1215.7" r="2.6" fill="#e08a22"/>
<circle cx="284.0" cy="1215.7" r="2.6" fill="#e08a22"/>
<path d="M290.0,1215.7 H294.0" stroke="#e08a22" stroke-width="5.2" stroke-linecap="round"/>
<circle cx="299.4" cy="1215.7" r="2.6" fill="#e08a22"/>
<circle cx="321.0" cy="1215.7" r="2.6" fill="#e08a22"/>
<circle cx="336.8" cy="1215.7" r="2.6" fill="#e08a22"/>
<circle cx="343.0" cy="1215.7" r="2.6" fill="#e08a22"/>
<circle cx="355.0" cy="1215.7" r="2.6" fill="#e08a22"/>
<path d="M365.0,1215.7 H371.0" stroke="#e08a22" stroke-width="5.2" stroke-linecap="round"/>
<path d="M153.3,1037.6 L156.0,1023.8 L172.0,1023.8 L174.8,1009.2 L184.4,1009.2 L187.2,995.4 L203.1,995.4 L206.6,981.5 L385.9,981.5" fill="none" stroke="#0a7fe0" stroke-width="4.6" stroke-linejoin="round"/>
<path d="M155.4,1109.6 L157.0,1106.0 L162.3,1080.5 L167.8,1080.5 L171.3,1066.0 L174.8,1081.0 L177.5,1066.7 L181.7,1066.7 L184.4,1052.1 L187.9,1052.1 L193.4,1024.5 L199.7,1024.5 L203.1,1009.2 L209.4,1009.2 L212.8,994.7 L219.1,994.7 L222.5,981.5 L227.4,995.4 L251.6,995.4 L255.7,1009.9 L280.0,1009.9 L283.4,1024.5 L286.9,1025.1 L293.1,1052.1 L296.6,1052.8 L299.4,1066.7 L302.1,1052.8 L327.0,1052.8 L329.8,1038.3 L337.4,1038.3 L339.5,1023.8 L342.3,1038.3 L345.0,1023.8 L352.7,1023.8 L355.4,1038.3 L361.6,1038.3 L364.4,1052.1 L367.9,1052.8 L370.6,1066.7 L381.0,1066.7 L383.8,1052.1" fill="none" stroke="#e8870f" stroke-width="4.6" stroke-linejoin="round"/>
<path d="M472,949 V1226 H749.2" fill="none" stroke="#222" stroke-width="1.6"/>
<path d="M625.6,1226 V1216" stroke="#222" stroke-width="1.6"/>
<text x="472" y="1260.4" font-size="28" text-anchor="middle">0</text>
<text x="625.6" y="1260.4" font-size="28" text-anchor="middle">50</text>
<text x="610" y="1305" font-size="29" text-anchor="middle">Trial</text>
<path d="M472,1088 H749" stroke="#000" stroke-width="5" stroke-dasharray="10.26 10.26"/>
<path d="M478.4,960.2 H481.2" stroke="#e8870f" stroke-width="5.6" stroke-linecap="round"/>
<circle cx="486.8" cy="960.2" r="2.8" fill="#e8870f"/>
<path d="M496.0,960.2 H499.7" stroke="#e8870f" stroke-width="5.6" stroke-linecap="round"/>
<path d="M508.9,960.2 H520.9" stroke="#e8870f" stroke-width="5.6" stroke-linecap="round"/>
<path d="M527.4,960.2 H531.1" stroke="#e8870f" stroke-width="5.6" stroke-linecap="round"/>
<circle cx="536.6" cy="960.2" r="2.8" fill="#e8870f"/>
<circle cx="548.6" cy="960.2" r="2.8" fill="#e8870f"/>
<path d="M555.1,960.2 H659.3" stroke="#e8870f" stroke-width="5.6" stroke-linecap="round"/>
<path d="M665.8,960.2 H668.6" stroke="#e8870f" stroke-width="5.6" stroke-linecap="round"/>
<path d="M675.0,960.2 H702.7" stroke="#e8870f" stroke-width="5.6" stroke-linecap="round"/>
<path d="M708.3,960.2 H748.9" stroke="#e8870f" stroke-width="5.6" stroke-linecap="round"/>
<path d="M474.8,970.8 H478.4" stroke="#0a7fe0" stroke-width="6.2" stroke-linecap="round"/>
<circle cx="484.0" cy="970.8" r="3.1" fill="#0a7fe0"/>
<path d="M493.2,970.8 H496.0" stroke="#0a7fe0" stroke-width="6.2" stroke-linecap="round"/>
<path d="M505.2,970.8 H518.1" stroke="#0a7fe0" stroke-width="6.2" stroke-linecap="round"/>
<path d="M524.6,970.8 H748.9" stroke="#0a7fe0" stroke-width="6.2" stroke-linecap="round"/>
<circle cx="481.2" cy="1204.8" r="2.6" fill="#0a7fe0"/>
<path d="M487.7,1204.8 H491.4" stroke="#0a7fe0" stroke-width="5.2" stroke-linecap="round"/>
<path d="M499.7,1204.8 H502.4" stroke="#0a7fe0" stroke-width="5.2" stroke-linecap="round"/>
<circle cx="520.9" cy="1204.8" r="2.6" fill="#0a7fe0"/>
<circle cx="474.8" cy="1215.5" r="2.6" fill="#e08a22"/>
<circle cx="484.4" cy="1215.5" r="2.6" fill="#e08a22"/>
<path d="M490.4,1215.5 H494.1" stroke="#e08a22" stroke-width="5.2" stroke-linecap="round"/>
<path d="M502.4,1215.5 H505.2" stroke="#e08a22" stroke-width="5.2" stroke-linecap="round"/>
<circle cx="524.0" cy="1215.5" r="2.6" fill="#e08a22"/>
<circle cx="533.3" cy="1215.5" r="2.6" fill="#e08a22"/>
<path d="M539.4,1215.5 H547.7" stroke="#e08a22" stroke-width="5.2" stroke-linecap="round"/>
<circle cx="551.7" cy="1215.5" r="2.6" fill="#e08a22"/>
<circle cx="662.5" cy="1215.5" r="2.6" fill="#e08a22"/>
<circle cx="671.7" cy="1215.5" r="2.6" fill="#e08a22"/>
<circle cx="705.5" cy="1215.5" r="2.6" fill="#e08a22"/>
<path d="M516.0,1055.0 L519.0,1066.0 L523.0,1060.0 L526.0,1066.0 L529.0,1055.0 L532.0,1040.0 L535.5,1024.0 L543.0,1024.0 L547.0,995.7 L564.0,995.7 L567.0,981.8 L748.5,981.8" fill="none" stroke="#0a7fe0" stroke-width="4.6" stroke-linejoin="round"/>
<path d="M516.0,1065.0 L519.0,1052.0 L522.0,1067.0 L525.0,1053.0 L528.0,1066.0 L531.0,1052.0 L534.0,1066.0 L537.0,1052.0 L540.0,1053.0 L545.8,1080.5 L548.5,1066.7 L566.0,1066.7 L569.0,1052.5 L576.0,1052.5 L579.0,1038.5 L582.0,1038.5 L588.0,1010.0 L591.0,995.7 L594.0,995.7 L597.0,982.0 L659.0,982.0 L662.0,995.7 L669.0,995.7 L672.0,1010.4 L702.0,1010.4 L705.5,1024.0 L708.5,1010.4 L714.0,1010.4 L717.0,995.7 L748.5,995.7" fill="none" stroke="#e8870f" stroke-width="4.6" stroke-linejoin="round"/>
<text x="822" y="902" font-size="33" font-weight="bold" stroke="#000" stroke-width="1.3">d</text>
<path d="M930.9,921.6 V1277.8 H1287.2" fill="none" stroke="#111" stroke-width="1.5"/>
<path d="M930.9,921.6 H940.8" stroke="#111" stroke-width="1.5"/>
<path d="M1009.9,1277.8 V1267" stroke="#111" stroke-width="1.5"/>
<path d="M1088.6,1277.8 V1267" stroke="#111" stroke-width="1.5"/>
<path d="M1168,1277.8 V1267" stroke="#111" stroke-width="1.5"/>
<path d="M1247.3,1277.8 V1267" stroke="#111" stroke-width="1.5"/>
<text x="917" y="932" font-size="28" text-anchor="end">1.0</text>
<text x="917" y="1109.5" font-size="28" text-anchor="end">0.5</text>
<text x="917" y="1288" font-size="28" text-anchor="end">0</text>
<text x="930" y="1312" font-size="28" text-anchor="middle">0</text>
<text x="1009.5" y="1312" font-size="28" text-anchor="middle">20</text>
<text x="1088.5" y="1312" font-size="28" text-anchor="middle">40</text>
<text x="1168" y="1312" font-size="28" text-anchor="middle">60</text>
<text x="1247.3" y="1312" font-size="28" text-anchor="middle">80</text>
<text x="1108.5" y="1356.8" font-size="29" text-anchor="middle">Trial</text>
<text x="846" y="1100" font-size="29.5" text-anchor="middle" transform="rotate(-90 846 1100)">Proportion correct</text>
<path d="M934.6,1057.0 L937.8,1060.6 L941.0,1060.6 L944.2,1073.8 L947.4,1090.2 L950.6,1090.9 L953.8,1089.4 L957.0,1087.5 L960.2,1083.2 L963.4,1088.6 L966.6,1093.1 L969.8,1098.5 L973.0,1093.4 L976.2,1096.8 L979.4,1095.5 L982.6,1092.2 L985.8,1088.7 L989.0,1086.0 L992.2,1087.9 L995.4,1088.2 L998.6,1089.7 L1001.8,1082.3 L1005.0,1079.2 L1008.2,1078.5 L1011.4,1078.1 L1014.6,1079.5 L1017.8,1075.7 L1021.0,1072.1 L1024.2,1067.1 L1027.4,1062.4 L1030.6,1059.1 L1033.8,1061.1 L1037.0,1059.1 L1040.2,1054.3 L1043.4,1049.5 L1046.6,1052.4 L1049.8,1051.4 L1053.0,1054.4 L1056.2,1056.9 L1059.4,1058.7 L1062.6,1062.3 L1065.8,1064.2 L1069.0,1060.7 L1072.2,1053.4 L1075.4,1046.6 L1078.6,1049.3 L1081.8,1048.2 L1085.0,1049.7 L1088.2,1050.3 L1091.4,1045.7 L1094.6,1042.5 L1097.8,1040.1 L1101.0,1041.5 L1104.2,1037.1 L1107.4,1036.3 L1110.6,1041.4 L1113.8,1042.7 L1117.0,1046.6 L1120.2,1047.9 L1123.4,1048.8 L1126.6,1047.7 L1129.8,1041.9 L1133.0,1039.3 L1136.2,1033.8 L1139.4,1036.9 L1142.6,1032.9 L1145.8,1032.0 L1149.0,1029.6 L1152.2,1027.9 L1155.4,1031.2 L1158.6,1034.5 L1161.8,1037.1 L1165.0,1033.0 L1168.2,1033.4 L1171.4,1038.4 L1174.6,1051.2 L1177.8,1055.4 L1181.0,1061.8 L1184.2,1065.2 L1187.4,1066.3 L1190.6,1072.0 L1193.8,1065.9 L1197.0,1059.1 L1200.2,1057.2 L1203.4,1053.2 L1206.6,1054.2 L1209.8,1048.0 L1213.0,1040.9 L1216.2,1038.4 L1219.4,1032.2 L1222.6,1028.8 L1225.8,1028.7 L1229.0,1022.1 L1232.2,1025.1 L1235.4,1023.0 L1238.6,1024.6 L1241.8,1024.9 L1245.0,1028.0 L1248.2,1027.9 L1251.4,1028.5 L1254.6,1033.1 L1257.8,1035.1 L1261.0,1042.7 L1264.2,1048.8 L1267.4,1047.7 L1270.6,1035.1 L1273.8,1030.8 L1277.0,1032.6 L1280.2,1030.7 L1283.4,1026.2 L1286.0,1020.7 L1286.0,1048.8 L1283.4,1049.8 L1280.2,1058.5 L1277.0,1056.9 L1273.8,1056.5 L1270.6,1063.9 L1267.4,1071.1 L1264.2,1073.7 L1261.0,1066.6 L1257.8,1056.1 L1254.6,1056.5 L1251.4,1052.7 L1248.2,1053.2 L1245.0,1052.2 L1241.8,1050.4 L1238.6,1046.0 L1235.4,1050.7 L1232.2,1050.7 L1229.0,1052.0 L1225.8,1049.7 L1222.6,1053.7 L1219.4,1057.5 L1216.2,1060.7 L1213.0,1066.7 L1209.8,1070.6 L1206.6,1078.4 L1203.4,1078.6 L1200.2,1082.4 L1197.0,1082.3 L1193.8,1090.4 L1190.6,1094.7 L1187.4,1092.9 L1184.2,1086.6 L1181.0,1084.8 L1177.8,1080.5 L1174.6,1073.1 L1171.4,1064.7 L1168.2,1055.5 L1165.0,1057.6 L1161.8,1063.0 L1158.6,1055.6 L1155.4,1056.6 L1152.2,1054.1 L1149.0,1054.4 L1145.8,1055.6 L1142.6,1058.9 L1139.4,1063.4 L1136.2,1059.0 L1133.0,1064.5 L1129.8,1065.3 L1126.6,1071.9 L1123.4,1070.9 L1120.2,1076.0 L1117.0,1072.5 L1113.8,1064.9 L1110.6,1064.1 L1107.4,1061.6 L1104.2,1063.6 L1101.0,1064.2 L1097.8,1065.5 L1094.6,1067.3 L1091.4,1071.0 L1088.2,1072.7 L1085.0,1078.1 L1081.8,1077.6 L1078.6,1072.0 L1075.4,1072.8 L1072.2,1075.5 L1069.0,1084.6 L1065.8,1091.9 L1062.6,1088.0 L1059.4,1081.9 L1056.2,1079.1 L1053.0,1075.4 L1049.8,1079.2 L1046.6,1076.3 L1043.4,1078.6 L1040.2,1080.3 L1037.0,1083.4 L1033.8,1085.3 L1030.6,1082.0 L1027.4,1086.3 L1024.2,1093.3 L1021.0,1095.3 L1017.8,1102.3 L1014.6,1106.8 L1011.4,1106.0 L1008.2,1106.0 L1005.0,1105.1 L1001.8,1107.4 L998.6,1113.9 L995.4,1115.8 L992.2,1111.3 L989.0,1116.4 L985.8,1119.0 L982.6,1121.9 L979.4,1125.5 L976.2,1124.5 L973.0,1122.4 L969.8,1128.7 L966.6,1121.8 L963.4,1122.5 L960.2,1118.3 L957.0,1120.0 L953.8,1123.9 L950.6,1126.1 L947.4,1129.8 L944.2,1119.7 L941.0,1101.6 L937.8,1108.3 L934.6,1107.9 Z" fill="#f3bf85"/>
<path d="M934.6,1001.9 L937.8,1005.2 L941.0,1014.7 L944.2,1015.7 L947.4,1020.3 L950.6,1020.8 L953.8,1018.7 L957.0,1017.0 L960.2,1012.1 L963.4,1009.7 L966.6,1005.4 L969.8,1003.1 L973.0,1001.1 L976.2,995.6 L979.4,990.1 L982.6,988.8 L985.8,980.1 L989.0,974.0 L992.2,968.3 L995.4,968.5 L998.6,964.9 L1001.8,961.4 L1005.0,960.8 L1008.2,958.5 L1011.4,954.1 L1014.6,950.9 L1017.8,948.3 L1021.0,946.7 L1024.2,945.2 L1027.4,944.1 L1030.6,944.6 L1033.8,942.4 L1037.0,947.6 L1040.2,947.8 L1043.4,948.7 L1046.6,945.9 L1049.8,948.0 L1053.0,946.0 L1056.2,949.5 L1059.4,951.7 L1062.6,953.7 L1065.8,951.4 L1069.0,948.9 L1072.2,950.7 L1075.4,947.2 L1078.6,945.2 L1081.8,942.2 L1085.0,941.6 L1088.2,944.6 L1091.4,940.7 L1094.6,943.2 L1097.8,937.0 L1101.0,934.9 L1104.2,936.7 L1107.4,934.4 L1110.6,932.6 L1113.8,934.7 L1117.0,934.6 L1120.2,934.7 L1123.4,935.4 L1126.6,935.8 L1129.8,936.3 L1133.0,939.8 L1136.2,941.9 L1139.4,940.8 L1142.6,939.4 L1145.8,938.3 L1149.0,939.5 L1152.2,942.9 L1155.4,939.0 L1158.6,938.2 L1161.8,940.7 L1165.0,937.7 L1168.2,935.2 L1171.4,930.9 L1174.6,930.2 L1177.8,930.8 L1181.0,930.5 L1184.2,928.5 L1187.4,927.8 L1190.6,922.7 L1193.8,924.2 L1197.0,928.4 L1200.2,931.4 L1203.4,931.3 L1206.6,934.7 L1209.8,932.5 L1213.0,934.9 L1216.2,936.2 L1219.4,931.8 L1222.6,931.3 L1225.8,934.8 L1229.0,933.4 L1232.2,934.8 L1235.4,932.3 L1238.6,927.6 L1241.8,926.1 L1245.0,924.7 L1248.2,922.7 L1251.4,925.6 L1254.6,926.2 L1257.8,929.2 L1261.0,928.8 L1264.2,928.1 L1267.4,926.1 L1270.6,925.1 L1273.8,925.5 L1277.0,927.1 L1280.2,925.8 L1283.4,925.7 L1286.0,929.0 L1286.0,949.4 L1283.4,947.1 L1280.2,948.2 L1277.0,947.1 L1273.8,945.2 L1270.6,944.6 L1267.4,945.6 L1264.2,948.4 L1261.0,947.9 L1257.8,947.1 L1254.6,947.9 L1251.4,946.3 L1248.2,943.1 L1245.0,945.0 L1241.8,946.7 L1238.6,946.7 L1235.4,951.6 L1232.2,952.7 L1229.0,953.5 L1225.8,953.1 L1222.6,953.7 L1219.4,951.8 L1216.2,956.2 L1213.0,954.3 L1209.8,954.2 L1206.6,955.0 L1203.4,952.3 L1200.2,951.9 L1197.0,949.7 L1193.8,945.7 L1190.6,944.6 L1187.4,947.6 L1184.2,950.9 L1181.0,950.2 L1177.8,951.5 L1174.6,951.4 L1171.4,951.2 L1168.2,954.9 L1165.0,959.2 L1161.8,961.0 L1158.6,958.9 L1155.4,958.4 L1152.2,961.7 L1149.0,961.7 L1145.8,957.4 L1142.6,958.7 L1139.4,961.7 L1136.2,960.0 L1133.0,959.3 L1129.8,956.9 L1126.6,958.3 L1123.4,956.6 L1120.2,955.3 L1117.0,955.4 L1113.8,952.2 L1110.6,954.2 L1107.4,957.5 L1104.2,956.6 L1101.0,955.8 L1097.8,956.4 L1094.6,961.5 L1091.4,960.3 L1088.2,965.7 L1085.0,961.8 L1081.8,961.7 L1078.6,964.4 L1075.4,969.3 L1072.2,971.8 L1069.0,969.8 L1065.8,974.6 L1062.6,973.9 L1059.4,974.0 L1056.2,970.4 L1053.0,966.0 L1049.8,968.0 L1046.6,967.9 L1043.4,971.5 L1040.2,968.0 L1037.0,968.4 L1033.8,965.1 L1030.6,965.0 L1027.4,960.7 L1024.2,962.9 L1021.0,967.3 L1017.8,967.1 L1014.6,970.7 L1011.4,976.5 L1008.2,979.6 L1005.0,980.5 L1001.8,985.5 L998.6,988.1 L995.4,995.4 L992.2,997.5 L989.0,1001.8 L985.8,1010.7 L982.6,1017.5 L979.4,1020.3 L976.2,1030.1 L973.0,1031.9 L969.8,1034.7 L966.6,1038.8 L963.4,1049.4 L960.2,1052.3 L957.0,1058.7 L953.8,1061.9 L950.6,1064.8 L947.4,1069.1 L944.2,1070.5 L941.0,1072.4 L937.8,1067.1 L934.6,1068.4 Z" fill="#7db8f0"/>
<path d="M930.9,1099.3 H1287" stroke="#000" stroke-width="4.8" stroke-dasharray="10.3 10.3"/>
<path d="M934.6,1034.5 L937.8,1034.8 L941.0,1042.3 L944.2,1044.0 L947.4,1043.7 L950.6,1042.8 L953.8,1040.8 L957.0,1037.7 L960.2,1033.6 L963.4,1029.2 L966.6,1022.2 L969.8,1019.0 L973.0,1017.0 L976.2,1013.1 L979.4,1006.2 L982.6,1001.6 L985.8,995.0 L989.0,987.5 L992.2,982.6 L995.4,980.7 L998.6,976.2 L1001.8,974.3 L1005.0,972.1 L1008.2,969.2 L1011.4,965.9 L1014.6,961.4 L1017.8,957.1 L1021.0,957.4 L1024.2,954.5 L1027.4,952.4 L1030.6,953.7 L1033.8,954.1 L1037.0,958.1 L1040.2,959.6 L1043.4,959.8 L1046.6,957.0 L1049.8,956.4 L1053.0,956.6 L1056.2,959.4 L1059.4,963.1 L1062.6,962.6 L1065.8,963.0 L1069.0,960.4 L1072.2,960.3 L1075.4,957.8 L1078.6,955.1 L1081.8,952.8 L1085.0,953.1 L1088.2,953.9 L1091.4,951.9 L1094.6,951.4 L1097.8,947.4 L1101.0,944.6 L1104.2,946.9 L1107.4,946.0 L1110.6,944.2 L1113.8,943.5 L1117.0,943.8 L1120.2,944.2 L1123.4,946.8 L1126.6,947.0 L1129.8,947.0 L1133.0,948.0 L1136.2,950.2 L1139.4,950.8 L1142.6,949.4 L1145.8,948.6 L1149.0,949.9 L1152.2,951.3 L1155.4,949.0 L1158.6,949.7 L1161.8,949.6 L1165.0,948.2 L1168.2,944.2 L1171.4,940.3 L1174.6,940.7 L1177.8,941.6 L1181.0,939.5 L1184.2,939.3 L1187.4,937.3 L1190.6,934.4 L1193.8,935.1 L1197.0,938.5 L1200.2,940.9 L1203.4,941.8 L1206.6,943.8 L1209.8,943.0 L1213.0,943.6 L1216.2,944.5 L1219.4,941.7 L1222.6,942.5 L1225.8,943.2 L1229.0,942.7 L1232.2,943.9 L1235.4,941.3 L1238.6,937.0 L1241.8,935.7 L1245.0,934.2 L1248.2,934.4 L1251.4,935.8 L1254.6,937.2 L1257.8,938.8 L1261.0,938.9 L1264.2,939.7 L1267.4,936.7 L1270.6,936.2 L1273.8,935.6 L1277.0,936.7 L1280.2,936.8 L1283.4,937.5 L1286.0,939.8" fill="none" stroke="#0a7fe0" stroke-width="2.7" stroke-linejoin="round"/>
<path d="M934.6,1083.1 L937.8,1084.5 L941.0,1081.9 L944.2,1097.1 L947.4,1111.3 L950.6,1107.3 L953.8,1105.8 L957.0,1104.3 L960.2,1099.4 L963.4,1104.9 L966.6,1108.1 L969.8,1112.7 L973.0,1109.6 L976.2,1109.7 L979.4,1109.0 L982.6,1105.4 L985.8,1103.3 L989.0,1100.2 L992.2,1099.7 L995.4,1103.7 L998.6,1100.7 L1001.8,1095.0 L1005.0,1092.4 L1008.2,1092.4 L1011.4,1090.8 L1014.6,1091.6 L1017.8,1086.8 L1021.0,1084.1 L1024.2,1078.1 L1027.4,1073.1 L1030.6,1070.7 L1033.8,1072.1 L1037.0,1073.0 L1040.2,1065.1 L1043.4,1064.4 L1046.6,1065.5 L1049.8,1065.1 L1053.0,1065.1 L1056.2,1068.9 L1059.4,1070.2 L1062.6,1072.9 L1065.8,1076.7 L1069.0,1074.2 L1072.2,1065.4 L1075.4,1060.7 L1078.6,1061.3 L1081.8,1063.1 L1085.0,1063.2 L1088.2,1060.8 L1091.4,1058.4 L1094.6,1054.3 L1097.8,1052.3 L1101.0,1051.7 L1104.2,1050.0 L1107.4,1050.1 L1110.6,1051.4 L1113.8,1054.9 L1117.0,1059.5 L1120.2,1062.9 L1123.4,1060.7 L1126.6,1059.6 L1129.8,1053.5 L1133.0,1050.8 L1136.2,1048.8 L1139.4,1048.5 L1142.6,1046.7 L1145.8,1044.0 L1149.0,1042.8 L1152.2,1041.1 L1155.4,1044.7 L1158.6,1045.6 L1161.8,1049.3 L1165.0,1046.5 L1168.2,1044.3 L1171.4,1052.5 L1174.6,1062.6 L1177.8,1068.9 L1181.0,1072.6 L1184.2,1075.8 L1187.4,1079.6 L1190.6,1082.5 L1193.8,1079.9 L1197.0,1071.4 L1200.2,1068.1 L1203.4,1067.3 L1206.6,1065.1 L1209.8,1058.9 L1213.0,1055.3 L1216.2,1049.4 L1219.4,1045.5 L1222.6,1041.7 L1225.8,1039.0 L1229.0,1037.2 L1232.2,1035.7 L1235.4,1035.8 L1238.6,1034.9 L1241.8,1036.1 L1245.0,1039.6 L1248.2,1041.5 L1251.4,1042.5 L1254.6,1045.1 L1257.8,1045.9 L1261.0,1053.1 L1264.2,1059.1 L1267.4,1058.2 L1270.6,1050.1 L1273.8,1045.0 L1277.0,1044.2 L1280.2,1043.7 L1283.4,1038.1 L1286.0,1034.5" fill="none" stroke="#e8870f" stroke-width="2.7" stroke-linejoin="round"/>
<path d="M1155.1,1143.7 V1263.3 H1333.3" fill="none" stroke="#111" stroke-width="1.4"/>
<path d="M1156.4,1197.9 L1161.4,1202.1 L1166.3,1201.7 L1171.3,1198.0 L1176.3,1196.0 L1181.3,1195.1 L1186.3,1193.3 L1191.3,1190.6 L1196.2,1185.1 L1201.2,1180.2 L1206.2,1178.2 L1211.2,1180.6 L1216.2,1177.3 L1221.2,1176.3 L1226.1,1178.6 L1231.1,1175.5 L1236.1,1171.6 L1241.1,1168.6 L1244.8,1166.8 L1248.6,1168.9 L1253.6,1171.5 L1258.5,1170.7 L1263.5,1173.8 L1268.5,1176.6 L1273.5,1181.8 L1278.5,1187.1 L1283.5,1187.7 L1288.4,1182.4 L1293.4,1177.3 L1298.4,1175.7 L1303.4,1174.5 L1308.4,1171.8 L1313.4,1170.4 L1318.3,1172.0 L1323.3,1169.1 L1328.3,1167.3 L1333.3,1165.5 L1333.3,1175.0 L1328.3,1177.1 L1323.3,1178.3 L1318.3,1181.1 L1313.4,1179.3 L1308.4,1180.7 L1303.4,1182.9 L1298.4,1184.4 L1293.4,1187.0 L1288.4,1191.8 L1283.5,1197.1 L1278.5,1195.1 L1273.5,1190.3 L1268.5,1186.0 L1263.5,1183.2 L1258.5,1179.6 L1253.6,1180.4 L1248.6,1178.2 L1244.8,1175.5 L1241.1,1177.8 L1236.1,1180.1 L1231.1,1184.2 L1226.1,1188.2 L1221.2,1186.0 L1216.2,1186.5 L1211.2,1189.2 L1206.2,1186.5 L1201.2,1189.4 L1196.2,1195.2 L1191.3,1200.7 L1186.3,1204.0 L1181.3,1205.9 L1176.3,1207.9 L1171.3,1211.0 L1166.3,1215.2 L1161.4,1217.0 L1156.4,1215.9 Z" fill="#f3bf85"/>
<path d="M1156.4,1167.7 L1161.4,1173.1 L1166.3,1178.2 L1170.1,1177.6 L1173.8,1172.9 L1178.8,1166.7 L1183.8,1160.4 L1188.8,1154.6 L1195.0,1149.3 L1201.2,1146.1 L1208.7,1144.3 L1218.7,1144.2 L1228.6,1143.4 L1238.6,1143.6 L1248.6,1143.8 L1258.5,1144.7 L1268.5,1143.7 L1278.5,1143.1 L1288.4,1143.6 L1298.4,1143.8 L1308.4,1143.4 L1315.9,1145.7 L1320.8,1147.0 L1325.8,1146.5 L1333.3,1146.6 L1333.3,1153.3 L1325.8,1153.9 L1320.8,1153.5 L1315.9,1151.7 L1308.4,1150.9 L1298.4,1150.9 L1288.4,1149.7 L1278.5,1150.9 L1268.5,1151.3 L1258.5,1151.6 L1248.6,1150.5 L1238.6,1150.7 L1228.6,1150.8 L1218.7,1151.9 L1208.7,1152.0 L1201.2,1154.3 L1195.0,1157.3 L1188.8,1162.6 L1183.8,1169.5 L1178.8,1177.4 L1173.8,1184.5 L1170.1,1189.5 L1166.3,1193.4 L1161.4,1191.5 L1156.4,1189.3 Z" fill="#7db8f0"/>
<path d="M1155.1,1203.5 H1333.3" stroke="#000" stroke-width="4" stroke-dasharray="8.49 8.49"/>
<path d="M1156.4,1178.6 L1161.4,1182.3 L1166.3,1186.1 L1170.1,1183.6 L1173.8,1178.6 L1178.8,1172.4 L1183.8,1164.9 L1188.8,1158.7 L1195.0,1153.7 L1201.2,1149.9 L1208.7,1147.9 L1218.7,1147.9 L1228.6,1147.4 L1238.6,1146.9 L1248.6,1147.4 L1258.5,1148.4 L1268.5,1147.4 L1278.5,1146.9 L1288.4,1146.7 L1298.4,1147.4 L1308.4,1147.4 L1315.9,1148.7 L1320.8,1150.4 L1325.8,1149.9 L1333.3,1150.4" fill="none" stroke="#0a7fe0" stroke-width="1.8"/>
<path d="M1156.4,1207.2 L1161.4,1209.7 L1166.3,1208.5 L1171.3,1204.8 L1176.3,1202.3 L1181.3,1201.0 L1186.3,1198.5 L1191.3,1196.0 L1196.2,1189.8 L1201.2,1184.8 L1206.2,1182.3 L1211.2,1184.8 L1216.2,1182.3 L1221.2,1181.1 L1226.1,1183.6 L1231.1,1179.8 L1236.1,1176.1 L1241.1,1173.6 L1244.8,1171.1 L1248.6,1173.6 L1253.6,1176.1 L1258.5,1174.9 L1263.5,1178.6 L1268.5,1181.1 L1273.5,1186.1 L1278.5,1191.1 L1283.5,1192.3 L1288.4,1187.3 L1293.4,1182.3 L1298.4,1179.8 L1303.4,1178.6 L1308.4,1176.1 L1313.4,1174.9 L1318.3,1176.1 L1323.3,1173.6 L1328.3,1172.4 L1333.3,1169.9" fill="none" stroke="#e8870f" stroke-width="1.8"/>
<text x="1396" y="902" font-size="33" font-weight="bold" stroke="#000" stroke-width="1.3">e</text>
<text x="1480" y="1030" font-size="28" text-anchor="end">1.0</text>
<text x="1480" y="1102" font-size="28" text-anchor="end">0.5</text>
<text x="1480" y="1172.5" font-size="28" text-anchor="end">0</text>
<text x="1419.3" y="1090" font-size="29.5" text-anchor="middle" transform="rotate(-90 1419.3 1090)">Proportion correct</text>
<rect x="1494.8" y="1049.3" width="40.8" height="112.90000000000009" fill="#0a80ec" stroke="#1a0f05" stroke-width="1.3"/>
<rect x="1547.3999999999999" y="1029.4" width="40.50000000000004" height="132.79999999999995" fill="#0a80ec" stroke="#1a0f05" stroke-width="1.3"/>
<rect x="1651.6" y="1091.3" width="40.8" height="70.90000000000009" fill="#f08800" stroke="#1a0f05" stroke-width="1.3"/>
<rect x="1704.1999999999998" y="1068.5" width="40.8" height="93.70000000000005" fill="#f08800" stroke="#1a0f05" stroke-width="1.3"/>
<path d="M1515,1020.1 L1567.6,1020.1" stroke="#999" stroke-width="1.6"/>
<path d="M1515,1020.1 L1567.6,1022.0" stroke="#999" stroke-width="1.6"/>
<path d="M1515,1022.8 L1567.6,1020.9" stroke="#999" stroke-width="1.6"/>
<path d="M1515,1025.4 L1567.6,1024.1" stroke="#999" stroke-width="1.6"/>
<path d="M1515,1028.1 L1567.6,1021.4" stroke="#999" stroke-width="1.6"/>
<path d="M1515,1030.7 L1567.6,1026.7" stroke="#999" stroke-width="1.6"/>
<path d="M1515,1033.4 L1567.6,1022.8" stroke="#999" stroke-width="1.6"/>
<path d="M1515,1040.0 L1567.6,1029.4" stroke="#999" stroke-width="1.6"/>
<path d="M1515,1044.0 L1567.6,1032.1" stroke="#999" stroke-width="1.6"/>
<path d="M1515,1053.3 L1567.6,1022.8" stroke="#999" stroke-width="1.6"/>
<path d="M1515,1056.0 L1567.6,1046.7" stroke="#999" stroke-width="1.6"/>
<path d="M1515,1061.3 L1567.6,1053.3" stroke="#999" stroke-width="1.6"/>
<path d="M1515,1069.3 L1567.6,1030.7" stroke="#999" stroke-width="1.6"/>
<path d="M1515,1098.5 L1567.6,1034.7" stroke="#999" stroke-width="1.6"/>
<path d="M1515,1103.8 L1567.6,1081.2" stroke="#999" stroke-width="1.6"/>
<path d="M1515,1105.1 L1567.6,1050.7" stroke="#999" stroke-width="1.6"/>
<path d="M1515,1056.0 L1567.6,1060.0" stroke="#999" stroke-width="1.6"/>
<path d="M1515,1026.7 L1567.6,1026.7" stroke="#999" stroke-width="1.6"/>
<path d="M1515,1040.0 L1567.6,1020.1" stroke="#999" stroke-width="1.6"/>
<path d="M1672,1090.5 L1724.6,1026.7" stroke="#999" stroke-width="1.6"/>
<path d="M1672,1094.5 L1724.6,1033.4" stroke="#999" stroke-width="1.6"/>
<path d="M1672,1098.5 L1724.6,1053.3" stroke="#999" stroke-width="1.6"/>
<path d="M1672,1101.1 L1724.6,1069.3" stroke="#999" stroke-width="1.6"/>
<path d="M1672,1103.8 L1724.6,1074.6" stroke="#999" stroke-width="1.6"/>
<path d="M1672,1106.5 L1724.6,1082.5" stroke="#999" stroke-width="1.6"/>
<path d="M1672,1109.1 L1724.6,1106.5" stroke="#999" stroke-width="1.6"/>
<path d="M1672,1110.4 L1724.6,1127.7" stroke="#999" stroke-width="1.6"/>
<path d="M1672,1095.8 L1724.6,1071.9" stroke="#999" stroke-width="1.6"/>
<path d="M1672,1101.1 L1724.6,1087.9" stroke="#999" stroke-width="1.6"/>
<path d="M1672,1105.1 L1724.6,1094.5" stroke="#999" stroke-width="1.6"/>
<path d="M1672,1107.8 L1724.6,1079.9" stroke="#999" stroke-width="1.6"/>
<path d="M1672,1069.3 L1724.6,1061.3" stroke="#999" stroke-width="1.6"/>
<path d="M1672,1074.6 L1724.6,1066.6" stroke="#999" stroke-width="1.6"/>
<path d="M1672,1103.8 L1724.6,1056.0" stroke="#999" stroke-width="1.6"/>
<path d="M1672,1107.8 L1724.6,1075.9" stroke="#999" stroke-width="1.6"/>
<path d="M1672,1110.4 L1724.6,1045.3" stroke="#999" stroke-width="1.6"/>
<path d="M1672,1093.2 L1724.6,1077.2" stroke="#999" stroke-width="1.6"/>
<path d="M1672,1098.5 L1724.6,1082.5" stroke="#999" stroke-width="1.6"/>
<path d="M1515,1044 V1055 M1500,1044 H1530 M1500,1055 H1530" stroke="#111" stroke-width="1.6"/>
<path d="M1567.6,1025.4 V1032.6 M1552.6,1025.4 H1582.6 M1552.6,1032.6 H1582.6" stroke="#111" stroke-width="1.6"/>
<path d="M1672,1089.6 V1094.5 M1657,1089.6 H1687 M1657,1094.5 H1687" stroke="#111" stroke-width="1.6"/>
<path d="M1724.6,1063.4 V1074 M1709.6,1063.4 H1739.6 M1709.6,1074 H1739.6" stroke="#111" stroke-width="1.6"/>
<path d="M1494.2,1020.1 V1162.2 H1746" fill="none" stroke="#111" stroke-width="1.6"/>
<path d="M1494.2,1020.1 H1501.7" stroke="#111" stroke-width="1.6"/>
<text x="1527" y="1186.5" font-size="29" text-anchor="end" transform="rotate(-45 1527 1186.5)">Early</text>
<text x="1579.6" y="1186.5" font-size="29" text-anchor="end" transform="rotate(-45 1579.6 1186.5)">Late</text>
<text x="1684" y="1186.5" font-size="29" text-anchor="end" transform="rotate(-45 1684 1186.5)">Early</text>
<text x="1736.6" y="1186.5" font-size="29" text-anchor="end" transform="rotate(-45 1736.6 1186.5)">Late</text>
<text x="1822" y="902" font-size="33" font-weight="bold" stroke="#000" stroke-width="1.3">f</text>
<text x="1847.4" y="968.5" font-size="29" text-anchor="middle" transform="rotate(-90 1847.4 968.5)">Peak</text>
<text x="1880.1" y="969.7" font-size="29" text-anchor="middle" transform="rotate(-90 1880.1 969.7)">correct</text>
<text x="1938" y="914.1" font-size="28" text-anchor="end">1.0</text>
<text x="1938" y="966.0" font-size="28" text-anchor="end">0.8</text>
<text x="1938" y="1017.0" font-size="28" text-anchor="end">0.6</text>
<rect x="1983.2" y="907" width="61.7" height="126.70000000000005" fill="#0a80ec" stroke="#111" stroke-width="1.3"/>
<rect x="2061.1" y="917.4" width="61.7" height="116.30000000000007" fill="#f08800" stroke="#1a0f05" stroke-width="1.3"/>
<path d="M1999.9,905.7 L2103.2,905.7" stroke="#999" stroke-width="1.3"/>
<path d="M2011.9,907.0 L2103.2,905.7" stroke="#999" stroke-width="1.3"/>
<path d="M2013.6,907.9 L2096.3,930.3" stroke="#999" stroke-width="1.3"/>
<path d="M2015.4,908.8 L2092.9,928.6" stroke="#999" stroke-width="1.3"/>
<path d="M2017.1,908.2 L2089.5,926.9" stroke="#999" stroke-width="1.3"/>
<path d="M2018.8,908.8 L2084.3,925.1" stroke="#999" stroke-width="1.3"/>
<path d="M2020.5,909.3 L2079.1,923.4" stroke="#999" stroke-width="1.3"/>
<path d="M2022.3,909.6 L2075.7,921.7" stroke="#999" stroke-width="1.3"/>
<path d="M2024.0,910.5 L2068.8,920.8" stroke="#999" stroke-width="1.3"/>
<path d="M2013.6,908.8 L2084.3,956.1" stroke="#999" stroke-width="1.3"/>
<path d="M2011.9,907.9 L2101.5,982.9" stroke="#999" stroke-width="1.3"/>
<path d="M2024.0,931.2 L2068.8,918.2" stroke="#999" stroke-width="1.3"/>
<path d="M2025.7,910.0 L2063.6,919.1" stroke="#999" stroke-width="1.3"/>
<path d="M2027.4,911.4 L2092.9,930.3" stroke="#999" stroke-width="1.3"/>
<path d="M2000,906.5 H2028.3 M2000,908.5 H2028.3" stroke="#111" stroke-width="1.8"/>
<path d="M2092,912.7 V921.3 M2078.3,912.7 H2105.8 M2078.3,921.3 H2105.8" stroke="#111" stroke-width="1.6"/>
<path d="M1951.6,905.7 V1033.7 H2155" fill="none" stroke="#111" stroke-width="1.6"/>
<path d="M1951.6,905.7 H1958.2" stroke="#111" stroke-width="1.6"/>
<path d="M1951.6,957.4 H1958.2" stroke="#111" stroke-width="1.6"/>
<path d="M1951.6,1008.4 H1958.2" stroke="#111" stroke-width="1.6"/>
<text x="2026" y="1056" font-size="29" text-anchor="end" transform="rotate(-45 2026 1056)">Gain</text>
<text x="2104" y="1056" font-size="29" text-anchor="end" transform="rotate(-45 2104 1056)">Loss</text>
<path d="M1968.3,1126.9 V1280.9 H2122.8" fill="none" stroke="#111" stroke-width="1.5"/>
<path d="M1968.3,1138.5 H1975.6" stroke="#111" stroke-width="1.5"/>
<path d="M1968.3,1172.6 H1975.6" stroke="#111" stroke-width="1.5"/>
<path d="M1968.3,1206.2 H1975.6" stroke="#111" stroke-width="1.5"/>
<path d="M1968.3,1239.9 H1975.6" stroke="#111" stroke-width="1.5"/>
<path d="M1968.3,1273.7 H1975.6" stroke="#111" stroke-width="1.5"/>
<path d="M2007.2,1280.9 V1274.1" stroke="#111" stroke-width="1.5"/>
<path d="M2065,1280.9 V1274.1" stroke="#111" stroke-width="1.5"/>
<path d="M2122.8,1280.9 V1274.1" stroke="#111" stroke-width="1.5"/>
<text x="1955.6" y="1148.5" font-size="28" text-anchor="end">0.8</text>
<text x="1955.6" y="1216.3" font-size="28" text-anchor="end">0.6</text>
<text x="2007.2" y="1315.6" font-size="28" text-anchor="middle">0.6</text>
<text x="2065" y="1315.6" font-size="28" text-anchor="middle">0.8</text>
<text x="2122.8" y="1315.6" font-size="28" text-anchor="middle">1.0</text>
<text x="2045.5" y="1352.4" font-size="29" text-anchor="middle">Proportion</text>
<text x="2045.5" y="1386" font-size="29" text-anchor="middle">correct (gain)</text>
<text x="1855.1" y="1204.6" font-size="29" text-anchor="middle" transform="rotate(-90 1855.1 1204.6)">Proportion</text>
<text x="1889" y="1204.1" font-size="29" text-anchor="middle" transform="rotate(-90 1889 1204.1)">correct (loss)</text>
<circle cx="2103.3" cy="1126.9" r="2.7" fill="#000"/>
<circle cx="2090.6" cy="1138.5" r="2.7" fill="#000"/>
<circle cx="2109.6" cy="1149.6" r="2.7" fill="#000"/>
<circle cx="2122.8" cy="1145.8" r="2.7" fill="#000"/>
<circle cx="2106.6" cy="1168.6" r="2.7" fill="#000"/>
<circle cx="2080.8" cy="1187.3" r="2.7" fill="#000"/>
<circle cx="2087.1" cy="1198.4" r="2.7" fill="#000"/>
<circle cx="2098.6" cy="1200.5" r="2.7" fill="#000"/>
<circle cx="2112.9" cy="1203.0" r="2.7" fill="#000"/>
<circle cx="2077.6" cy="1217.1" r="2.7" fill="#000"/>
<circle cx="2096.5" cy="1215.0" r="2.7" fill="#000"/>
<circle cx="2112.9" cy="1214.0" r="2.7" fill="#000"/>
<circle cx="2122.8" cy="1217.1" r="2.7" fill="#000"/>
<circle cx="2117.1" cy="1223.0" r="2.7" fill="#000"/>
<circle cx="2115.5" cy="1225.1" r="2.7" fill="#000"/>
<circle cx="2036.0" cy="1222.6" r="2.7" fill="#000"/>
<circle cx="2096.5" cy="1243.6" r="2.7" fill="#000"/>
<circle cx="2077.6" cy="1251.0" r="2.7" fill="#000"/>
<circle cx="1968.2" cy="1251.0" r="2.7" fill="#000"/>
<circle cx="2042.3" cy="1258.8" r="2.7" fill="#000"/>
<circle cx="2100.3" cy="1266.1" r="2.7" fill="#000"/>
<circle cx="2112.9" cy="1280.9" r="2.7" fill="#000"/>
</svg>
</body></html>
